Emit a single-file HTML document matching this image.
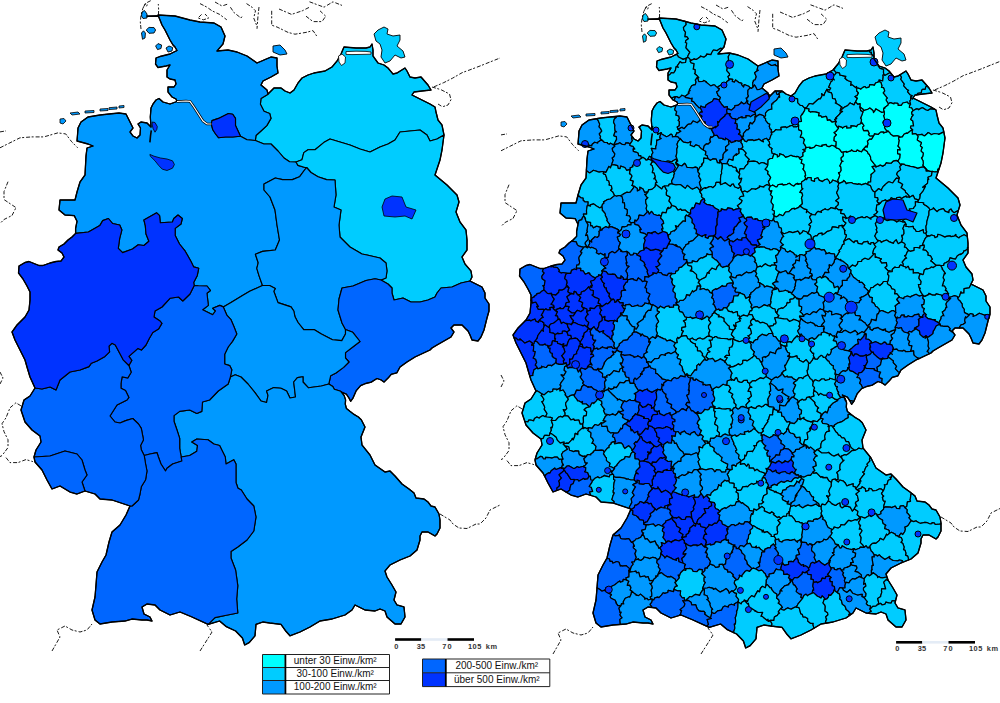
<!DOCTYPE html>
<html><head><meta charset="utf-8"><style>html,body{margin:0;padding:0;background:#fff}svg{display:block}</style></head><body>
<svg width="1000" height="703" viewBox="0 0 1000 703">
<rect width="1000" height="703" fill="#fff"/>
<g id="L"><path d="M268,94l-1.2,1 -5.8,3.5 -.6,5.7 3.6,7.1 5.7,2.2 1.3,4.9 -4.2,7.2 -5.8,5.4 -5,4.5 -.6,5 8.6,3.5 7,0 7,7 6,7 5.6,3.8 6.4,.2 6-2.3 1.8-7.1 4.2-2.9 7,0 8.7-7.1 6.3-3.6 10,3 10,3 10,4 10,3 10-5 8-3 7-4 5-8 10-1 10-1 7,5 3,6 7-2 7-4 -2-10 -4-5 -2-8 -1-5 -5-3 -12-6 -6-3 2-3 8-1 9-1 -3-5 -7-8 -6,1 -5-1 -3-6 -2-3 -8,5 -4,1 -5-6 -4-3 -6-2 -5-7 0-6 -1-6 -2,3 -4,1 -10,0 -12-1 -3,7 -4,7 -5,6 -7,4 -11,2 -6,2 -6,3 -4,5 -4,7 -4,3 -5-2 -4-3 -7,0z" fill="#00ccff" stroke="#000" stroke-width="1.15" stroke-linejoin="round"/><path d="M255.4,140.5l.6-5 5-4.5 5.8-5.4 4.2-7.2 -1.3-4.9 -5.7-2.2 -3.6-7.1 .6-5.7 5.8-3.5 1.2-1 -1-4 -6-5 2-4 8-4 7-4 -1-7 0-8 -6-1 -7,3 -7,3 -10-7 -10-4 -9-2 -11,1 6-7 2-8 -4-9 -7-4 -14-1 -10-2 -15-4 -17-1 4,10 3,5 5,10 3,5 2,2 2,3.5 -7,3.5 -10,2.5 -4,1.5 -.5,6 2.5,3.5 8-1.5 4-1 -3,5 0,7 3,2 5,1 1,4 -2,3 -6,0 0,5 4,5 4,2 1,2.5 9-.5 4,.4 4,5.6 4.5,7 4.5,7 4,3 4.3,0 .7-3.4 6.5-2.2 9.9-4.9 4.3,.7 2.8,4.2 0,7.2 5,10.6 6.5,3.6z" fill="#0099ff" stroke="#000" stroke-width="1.15" stroke-linejoin="round"/><path d="M211.3,124l-4.3,0 -4-3 -4.5-7 -4.5-7 -4-5.6 -4-.4 -9,.5 -7,2.5 -7-2 -4-3.5 -3,1.5 -3,4 -2,4 -.7,9 .7,10 -4-4 -6-1 -3,2 2.5,4 -.5,7 -3,3 -4-2 -3-4 3-4 -2-4 -2-4 -3-6 -7-1 -10,1 -9,1 -12,2 -7,5 -3,6 -.5,7 -.5,6 11,3 5,2 -6,2 -1,8 -1,19 -5,7 -3,10 -2,8 -15,0 -1,10 6,5 9.2,.6 2.8,5.7 -1.4,7.1 0,5 12.8-1.4 11.4-6.4 2.9-5 5.7-2.1 4.2,5 7.1,1.5 2.2,4.9 -2.2,8.5 -1.4,10 4.3,4.2 9.9-3.6 5.7-4.2 5.7,.7 5-4.2 -2.9-7.3 -.7-8.4 -1.4-5.6 12.8-7.2 2.9,2.8 .7,7.2 12.1-.8 1.4-3.5 4.2-3.5 4.3,3.5 -1.3,5.5 -5.8,4.4 0,7.2 4.3,8.4 5.7,7.2 5.7,10 2.8,5.7 5,1.4 -1.4,7.1 -3.6,7.1 .5,3 4.2,.3 8.6,.2 3.5,4.5 -3.5,2.8 .7,6.4 .7,5.7 -5.7,4.3 10,5 2.8-3.7 -2.8-2.7 7.1-2.9 3.5,1.5 7.7-4.3 11.5-7.1 7.2-4.3 12.8-5.7 -3.5-9.9 -2.2-7.2 1.4-5.6 -2.8-8.6 7.1-2.8 12.8-1.4 4.2-10 -2.5-15 -2-15 -5-13 -6-7 0-6 5.7-3 5.6-3 7.2,1.6 9.9,0 7.1-2.8 4.3-5.8 2.8-3.5 -1.6,0 -7-2.1 -2-3.4 -6.4-.2 -5.6-3.8 -6-7 -7-7 -7,0 -8.6-3.5 -8.4-.7 -6.5-3.6 -7.8,.8 -7.1,0 -7.1,.7 -2.9-3.7 -2.8-4.2z" fill="#0099ff" stroke="#000" stroke-width="1.15" stroke-linejoin="round"/><path d="M240.5,136.2l-5-10.6 0-7.2 -2.8-4.2 -4.3-.7 -9.9,4.9 -6.5,2.2 -.7,3.4 1.5,5.8 2.8,4.2 2.9,3.7 7.1-.7 7.1,0z" fill="#0033ff" stroke="#000" stroke-width="1.15" stroke-linejoin="round"/><path d="M444,135l-7,4 -7,2 -3-6 -7-5 -10,1 -10,1 -5,8 -7,4 -8,3 -10,5 -10-3 -10-4 -10-3 -10-3 -6.3,3.6 -8.7,7.1 -7,0 -4.2,2.9 -1.8,7.1 -6,2.3 2,3.4 7,2.1 1.6,0 4.4,5 7,4.3 8.6,2.8 8.4,.4 1,15 -2,12 7,3 -2,15 1,12 10,10 12,7 5,1 13,3 6,5 1,8 -1,7 -5,2 7,4 4,4 0,5 2,7 9-2 8,4 9,0 8-2 7-3 2-4 4-5 11-1 9-4 9-2 2-4 -1-6 -6-7 -3-7 5-7 0-10 -1-10 -6-8 -4-10 3-10 -2-7 -10-10 -12-10 5-15 2-10z" fill="#00ccff" stroke="#000" stroke-width="1.15" stroke-linejoin="round"/><path d="M306.6,167.5l-2.8,3.5 -4.3,5.8 -7.1,2.8 -9.9,0 -7.2-1.6 -5.6,3 -5.7,3 0,6 6,7 5,13 2,15 2.5,15 -4.2,10 -12.8,1.4 -7.1,2.8 2.8,8.6 -1.4,5.6 2.2,7.2 3.5,9.9 7.1,0 5.7,2.9 -1.5,2.8 4.2,11.4 13,4.3 2.8,4.1 1.2,5.8 3,5.7 5.7,7.1 10.3-.1 7.4,4.5 11.1,5.7 9.3,.9 3.7-6.6 0-4.5 -3.5-6.5 -4-13 1-11 3-11 11-2 13-5.5 9-1.8 6,1.3 5-2 1-7 -1-8 -6-5 -13-3 -5-1 -12-7 -10-10 -1-12 2-15 -7-3 2-12 -1-15 -8.4-.4 -8.6-2.8 -7-4.3z" fill="#0099ff" stroke="#000" stroke-width="1.15" stroke-linejoin="round"/><path d="M470,281l-9,2 -9,4 -11,1 -4,5 -2,4 -7,3 -8,2 -9,0 -8-4 -9,2 -2-7 0-5 -4-4 -7-4 -6-1.3 -9,1.8 -13,5.5 -11,2 -3,11 -1,11 4,13 3.5,6.5 7.3,2.8 7.2,9.2 -7.2,5.5 -7.3,5.6 0,5.4 3.5,4 -5.4,5.4 -7.6,5.6 -5.3,2.7 -1.9,8.3 4,2.4 1.5,2.8 6.4,2.1 .7,.7 5,2.2 2.8,4.2 1.4,2.9 2.2-2.9 3.5-7.8 4.3-5 5-2.1 5.7-1.4 5.7-3.6 4.2,1.5 2.8,2.1 4.3-4.3 2.9-3.5 5.7-1.5 3.1-5.8 7-5 8-5 15-7 2-2 5-3 7-4 7-4 3-5 -3-4 3-3 8,0 6,6 2,4 2,5 6,1 3-4 3-7 3-12 2-7 0-7 -4-6 0-5 -3-6 -8-4z" fill="#0066ff" stroke="#000" stroke-width="1.15" stroke-linejoin="round"/><path d="M328.8,384l1.9-8.3 5.3-2.7 7.6-5.6 5.4-5.4 -3.5-4 0-5.4 7.3-5.6 7.2-5.5 -7.2-9.2 -7.3-2.8 0,4.5 -3.7,6.6 -9.3-.9 -11.1-5.7 -7.4-4.5 -10.3,.1 -5.7-7.1 -3-5.7 -1.2-5.8 -2.8-4.1 -13-4.3 -4.2-11.4 1.5-2.8 -5.7-2.9 -7.1,0 -12.8,5.7 -7.2,4.3 -11.5,7.1 -7.7,4.3 3.7,8.5 4,4.3 3,7.1 2.8,7.2 -4.3,7.4 -4.3,5.6 -3.5,7.2 0,9.8 5,1.6 2.1,4.2 -1.4,7.2 4.9-2.2 5.7,2.2 7,7 7,8.6 6,8.4 5.6,1.5 1.4-7.1 -1.4-4.4 7.2-3.4 7.2,.7 5.6,2.7 3.4,7 5.5-1 -1.8-15 3.7-4.4 5.6-.9 0,5.3 5.5,5.8 12.9-1.8z" fill="#0099ff" stroke="#000" stroke-width="1.15" stroke-linejoin="round"/><path d="M341.4,392l-.7-.7 -6.4-2.1 -1.5-2.8 -4-2.4 -7.4,2 -12.9,1.8 -5.5-5.8 0-5.3 -5.6,.9 -3.7,4.4 1.8,15 -5.5,1 -3.4-7 -5.6-2.7 -7.2-.7 -7.2,3.4 1.4,4.4 -1.4,7.1 -5.6-1.5 -6-8.4 -7-8.6 -7-7 -5.7-2.2 -4.9,2.2 -2.2,7 -9.9,7 -8.7,9 -7.1,2 -.7,9.4 -5,2.1 -7.1-3.5 -10,1.4 -5.7,4.2 0,5.7 3,8.7 2.7,8.4 0,10 1.5,8.6 8.5-1.5 7.1-4.3 .7-5.7 -5.7-3.5 5-3 11.2,.8 5.9,4.2 5.7,1.5 5.7,11.5 .7,7 7.8-4.3 2.2,4.3 0,18.5 2,5.7 3.3,1.8 5.7,9 6.8,7 2.2,11 -2.2,14 -6.8,9 -9.2,7 -6.8,4.5 0,6.5 4.6,12 2.2,15.7 -1.1,13.3 1.1,14 -11.4,2.3 -11.4,2.3 -6.8,6.8 11.4-3.4 6.8,5.7 9.2,4.3 6.8,7 2.3,7 4.5-2.4 5.8-6.8 1-11.4 6.9-2.4 6.8,1 11.3,1.4 4.7,6.6 4.3,4.8 10-3.8 10-5 10-6 12-2 13-4 7-5 3-5 10,5 10,1 5-2 5,2 2,6 8,7 6,0 4-7 -1-10 -7-2 -3-5 2-8 -4-7 -5-8 -2-6 5-6 10-5 10-4 7-6 3-10 0-4 2-4 6,0 7,4 2-2 3-6 0-8 -1-6 -4-7 -4-1 -3-4 -4-3 -8-1 -2-5 -5-4 -7-5 -7-8 -5-5 -5,1 -10-7 -5-10 -8-10 -1-8 4-10 -3.7-7.2 -2.9-2.8 -4.9-2.9 -3.6-2.8 -3.5-2.9 -1.1-4.3 .3-4.2 -1.4-4.3z" fill="#0099ff" stroke="#000" stroke-width="1.15" stroke-linejoin="round"/><path d="M223.3,306.9l-3.5-1.5 -7.1,2.9 2.8,2.7 -2.8,3.7 -10-5 5.7-4.3 -.7-5.7 -.7-6.4 3.5-2.8 -3.5-4.5 -8.6-.2 -4.2-.3 -4.2,8.5 -7.2,7 -4.3-4 -8.5,1.3 -8,8.7 -7,4 -1,6 6,4 1.9,2.4 -3.4,5.7 -5.7,3.4 -3.4,5.7 -3.4,6.8 -4.6,5.1 -3.4-1.7 -9.1,8 2.9,4 -2.9,5.1 2.3,6.8 -3.4,5.7 -5.7-1.1 -1.1,6.8 0,4.6 4.5,2.2 3.4,6.9 -1.9,2.6 -10,5 -7,11 5,6 5,1 5.7-2.4 7.1-2.1 5.7,5.5 2.8,4.4 2.2,11.4 -2.9,5.7 .7,4.3 2.9,5.7 5.8-1.5 7-1.4 1.4,4.4 2.6,7 4.5,7 1.5-2.7 5.6-4.3 9.3-3 -.7-4 -1.5-8.6 0-10 -2.7-8.4 -3-8.7 0-5.7 5.7-4.2 10-1.4 7.1,3.5 5-2.1 .7-9.4 7.1-2 8.7-9 9.9-7 2.2-7 1.4-7.2 -2.1-4.2 -5-1.6 0-9.8 3.5-7.2 4.3-5.6 4.3-7.4 -2.8-7.2 -3-7.1 -4-4.3z" fill="#0066ff" stroke="#000" stroke-width="1.15" stroke-linejoin="round"/><path d="M181.2,457l.7,4 -9.3,3 -5.6,4.3 -1.5,2.7 -4.5-7 -2.6-7 -1.4-4.4 -7,1.4 -5.8,1.5 1.4,8.5 1.4,7 -1.4,8.7 -4.3,7.1 -1.3,7.2 -1.5,6 -6.5,6 -2,0 -4,9 -6,10 -8,7 -3,10 -3,13 -4,7 -5,10 -1,13 -1,12 -3,13 3,10 5,4 12-2 13-1 7-2 10,1 5,0 5,1 -2-4 -6-3 -2-7 5-3 8,1 5,5 10,5 10-3 12,5 16.2,7.4 6.8-6.8 11.4-2.3 11.4-2.3 -1.1-14 1.1-13.3 -2.2-15.7 -4.6-12 0-6.5 6.8-4.5 9.2-7 6.8-9 2.2-14 -2.2-11 -6.8-7 -5.7-9 -3.3-1.8 -2-5.7 0-18.5 -2.2-4.3 -7.8,4.3 -.7-7 -5.7-11.5 -5.7-1.5 -5.9-4.2 -11.2-.8 -5,3 5.7,3.5 -.7,5.7 -7.1,4.3z" fill="#0066ff" stroke="#000" stroke-width="1.15" stroke-linejoin="round"/><path d="M144.2,455.5l-2.9-5.7 -.7-4.3 2.9-5.7 -2.2-11.4 -2.8-4.4 -5.7-5.5 -7.1,2.1 -5.7,2.4 -5-1 -5-6 7-11 10-5 1.9-2.6 -3.4-6.9 -4.5-2.2 0-4.6 1.1-6.8 5.7,1.1 3.4-5.7 -2.3-6.8 -5.7-5.7 -7.9-14.8 -3.4-1.7 -2.9,2.9 .6,5.7 -4.6,4.5 -8,4.6 -5.6,2.2 -2.4,3.4 -9,3.4 -10,2 -10,8 -4,10 -6-3 -8,2 -7-1 -5,8 -6,4 -3,10 4,12 7,8 8,6 1,6 -5,8 -2,7 16-1 15-5 12,3 5,6 3,10 2,5 -5,7 3,9 10,3 5,5 12,1 18,6 2,0 6.5-6 1.5-6 1.3-7.2 4.3-7.1 1.4-8.7 -1.4-7z" fill="#0066ff" stroke="#000" stroke-width="1.15" stroke-linejoin="round"/><path d="M128.9,365.5l2.9-5.1 -2.9-4 9.1-8 3.4,1.7 4.6-5.1 3.4-6.8 3.4-5.7 5.7-3.4 3.4-5.7 -1.9-2.4 -6-4 1-6 7-4 8-8.7 8.5-1.3 4.3,4 7.2-7 4.2-8.5 -.5-3 3.6-7.1 1.4-7.1 -5-1.4 -2.8-5.7 -5.7-10 -5.7-7.2 -4.3-8.4 0-7.2 5.8-4.4 1.3-5.5 -4.3-3.5 -4.2,3.5 -1.4,3.5 -12.1,.8 -.7-7.2 -2.9-2.8 -12.8,7.2 1.4,5.6 .7,8.4 2.9,7.3 -5,4.2 -5.7-.7 -5.7,4.2 -9.9,3.6 -4.3-4.2 1.4-10 2.2-8.5 -2.2-4.9 -7.1-1.5 -4.2-5 -5.7,2.1 -2.9,5 -11.4,6.4 -12.8,1.4 -3.6,3.6 -4,3 -4,4 -5,3 -1,3 4,3 2,4 -3,4 -5,.5 -6,1.5 -7,2.5 -4,0 -5-2 -5-2 -4,1 -6,3.5 -.5,7 4.5,6 4,7 3,6 0,8 -1,10 -4,7 -8,8 -5,7 3,8 5,10 5,10 2,7 3,10 5,11 7,1 8-2 6,3 4-10 10-8 10-2 9-3.4 2.4-3.4 5.6-2.2 8-4.6 4.6-4.5 -.6-5.7 2.9-2.9 3.4,1.7 7.9,14.8z" fill="#0033ff" stroke="#000" stroke-width="1.15" stroke-linejoin="round"/><path d="M85,491l-3-9 5-7 -2-5 -3-10 -5-6 -12-3 -15,5 -16,1 1,5 7,8 5,10 5,9 8-3 10,6 7,2z" fill="#0066ff" stroke="#000" stroke-width="1.15" stroke-linejoin="round"/><path d="M385.0,199.0 392.0,196.0 402.0,197.0 406.0,207.0 416.0,210.0 412.0,219.0 405.0,216.0 395.0,217.0 384.0,216.0 382.0,207.0Z" fill="#0033ff" stroke="#000" stroke-width="0.8"/><path d="M149.9,154.4 154.0,156.2 160.5,158.0 167.0,159.0 172.5,160.8 174.4,164.5 172.5,168.2 167.0,170.5 162.3,169.2 158.7,165.5 155.0,160.8 150.3,156.2Z" fill="#0033ff" stroke="#000" stroke-width="0.8"/><path d="M152.2,122.0 155.0,122.5 157.3,126.6 156.8,129.4 155.0,132.2 153.1,128.5 152.2,124.8Z" fill="#0033ff" stroke="#000" stroke-width="0.8"/><path d="M273.0,46.0 280.0,45.0 285.0,50.0 287.0,54.0 280.0,55.0 273.0,52.0Z" fill="#0099ff" stroke="#000" stroke-width="0.9"/><path d="M374.0,34.0 378.0,30.0 384.0,27.0 388.0,29.0 387.0,34.0 393.0,36.0 400.0,35.0 400.0,40.0 397.0,46.0 403.0,51.0 405.0,57.0 401.0,58.0 395.0,55.0 390.0,61.0 385.0,63.0 381.0,57.0 382.0,50.0 380.0,44.0 376.0,41.0Z" fill="#00ccff" stroke="#000" stroke-width="0.9"/><path d="M146.2,30.0 149.0,27.4 154.0,27.6 155.6,30.0 154.0,33.0 149.0,33.3Z" fill="#0099ff" stroke="#000" stroke-width="0.9"/><path d="M141.5,33.0 143.5,30.8 145.4,33.0 145.0,38.0 142.5,39.3Z" fill="#0099ff" stroke="#000" stroke-width="0.9"/><path d="M155.6,46.0 158.0,43.6 161.6,45.0 161.0,48.5 157.5,49.6Z" fill="#0099ff" stroke="#000" stroke-width="0.9"/><path d="M166.0,48.0 169.0,46.0 172.7,47.5 172.0,51.0 168.0,52.0Z" fill="#0099ff" stroke="#000" stroke-width="0.9"/><path d="M142.0,12.0 144.5,10.5 147.0,14.0 147.0,18.0 143.0,18.5 141.5,16.0Z" fill="#0099ff" stroke="#000" stroke-width="0.9"/><path d="M60.0,119.0 64.0,118.5 66.0,121.0 63.0,124.0 60.0,123.0Z" fill="#0099ff" stroke="#000" stroke-width="0.8"/><path d="M70.0,113.0 78.0,112.0 80.0,114.0 72.0,115.0Z" fill="#0099ff" stroke="#000" stroke-width="0.8"/><path d="M85.0,111.0 94.0,110.5 94.0,112.5 85.0,113.0Z" fill="#0099ff" stroke="#000" stroke-width="0.8"/><path d="M100.0,109.0 108.0,108.5 108.0,110.5 100.0,111.0Z" fill="#0099ff" stroke="#000" stroke-width="0.8"/><path d="M109.0,107.7 117.0,107.0 117.0,109.0 109.0,109.5Z" fill="#0099ff" stroke="#000" stroke-width="0.8"/><path d="M119.0,106.0 124.0,105.5 124.0,107.5 119.0,108.0Z" fill="#0099ff" stroke="#000" stroke-width="0.8"/><path d="M158,15l4,10 3,5 5,10 3,5 2,2 2,3.5 -7,3.5 -10,2.5 -4,1.5 -.5,6 2.5,3.5 8-1.5 4-1 -3,5 0,7 3,2 5,1 1,4 -2,3 -6,0 0,5 4,5 4,2 1,2.5 -7,2.5 -7-2 -4-3.5 -3,1.5 -3,4 -2,4 -.7,9 .7,10 -4-4 -6-1 -3,2 2.5,4 -.5,7 -3,3 -4-2 -3-4 3-4 -2-4 -2-4 -3-6 -7-1 -10,1 -9,1 -12,2 -7,5 -3,6 -.5,7 -.5,6 11,3 5,2 -6,2 -1,8 -1,19 -5,7 -3,10 -2,8 -15,0 -1,10 6,5 9.2,.6 2.8,5.7 -1.4,7.1 0,5 -3.6,3.6 -4,3 -4,4 -5,3 -1,3 4,3 2,4 -3,4 -5,.5 -6,1.5 -7,2.5 -4,0 -5-2 -5-2 -4,1 -6,3.5 -.5,7 4.5,6 4,7 3,6 0,8 -1,10 -4,7 -8,8 -5,7 3,8 5,10 5,10 2,7 3,10 5,11 -5,8 -6,4 -3,10 4,12 7,8 8,6 1,6 -5,8 -2,7 1,5 7,8 5,10 5,9 8-3 10,6 7,2 8-3 10,3 5,5 12,1 18,6 -4,9 -6,10 -8,7 -3,10 -3,13 -4,7 -5,10 -1,13 -1,12 -3,13 3,10 5,4 12-2 13-1 7-2 10,1 5,0 5,1 -2-4 -6-3 -2-7 5-3 8,1 5,5 10,5 10-3 12,5 16.2,7.4 11.4-3.4 6.8,5.7 9.2,4.3 6.8,7 2.3,7 4.5-2.4 5.8-6.8 1-11.4 6.9-2.4 6.8,1 11.3,1.4 4.7,6.6 4.3,4.8 10-3.8 10-5 10-6 12-2 13-4 7-5 3-5 10,5 10,1 5-2 5,2 2,6 8,7 6,0 4-7 -1-10 -7-2 -3-5 2-8 -4-7 -5-8 -2-6 5-6 10-5 10-4 7-6 3-10 0-4 2-4 6,0 7,4 2-2 3-6 0-8 -1-6 -4-7 -4-1 -3-4 -4-3 -8-1 -2-5 -5-4 -7-5 -7-8 -5-5 -5,1 -10-7 -5-10 -8-10 -1-8 4-10 -3.7-7.2 -2.9-2.8 -4.9-2.9 -3.6-2.8 -3.5-2.9 -1.1-4.3 .3-4.2 -1.4-4.3 -2.8-3.6 5,2.2 2.8,4.2 1.4,2.9 2.2-2.9 3.5-7.8 4.3-5 5-2.1 5.7-1.4 5.7-3.6 4.2,1.5 2.8,2.1 4.3-4.3 2.9-3.5 5.7-1.5 3.1-5.8 7-5 8-5 15-7 2-2 5-3 7-4 7-4 3-5 -3-4 3-3 8,0 6,6 2,4 2,5 6,1 3-4 3-7 3-12 2-7 0-7 -4-6 0-5 -3-6 -8-4 -4-2 2-4 -1-6 -6-7 -3-7 5-7 0-10 -1-10 -6-8 -4-10 3-10 -2-7 -10-10 -12-10 5-15 2-10 2-15 -2-10 -4-5 -2-8 -1-5 -5-3 -12-6 -6-3 2-3 8-1 9-1 -3-5 -7-8 -6,1 -5-1 -3-6 -2-3 -8,5 -4,1 -5-6 -4-3 -6-2 -5-7 0-6 -1-6 -2,3 -4,1 -10,0 -12-1 -3,7 -4,7 -5,6 -7,4 -11,2 -6,2 -6,3 -4,5 -4,7 -4,3 -5-2 -4-3 -7,0 -6,6 -1-4 -6-5 2-4 8-4 7-4 -1-7 0-8 -6-1 -7,3 -7,3 -10-7 -10-4 -9-2 -11,1 6-7 2-8 -4-9 -7-4 -14-1 -10-2 -15-4z" fill="none" stroke="#000" stroke-width="1.3" stroke-linejoin="round"/></g>
<g id="R" stroke="#000" stroke-width="1.2" stroke-linejoin="round"><path d="M677.9,55.9l.2,.8 1.9,1.1 3.1,1.6 3.3-1.3 1.2-.5 -.3,0 .9-2.3 1.7-3.2 -2.4-2.6 -1.5-1.6 .8-4.9 -1.4-.6 .5-1.9 2.5-1.8 -1.5-2.2 -1.9,.2 .5-4.6 -1.5-1.9 -.6-2.5 2.8-3 -.3-3.1 -.9-.2 -1,.1 .1-.3 -8.1-2.2 -17-1 4,10 3,5 5,10 3,5 2,2 2,3.5 -1.8,.9z" fill="#00ccff"/><path d="M670,74.5l1.4-1.9 2.3,.4 1.7-2.6 .8-3.9 2.1,.9 -1-1.6 2.9-4.2 1.4,1.2 4-.3 .8-4.4 -3.3,1.3 -3.1-1.6 -1.9-1.1 -.2-.8 -1.7-1.5 -5.2,2.6 -10,2.5 -4,1.5 -.5,6 2.5,3.5 8-1.5 4-1 -3,5 0,2.6z" fill="#00ccff"/><path d="M684,21.5l1-.1 -.9-.2zM686.2,24.7l-2.8,3 .6,2.5 1.5,1.9 -.5,4.6 1.9-.2 1.5,2.2 -2.5,1.8 -.5,1.9 1.4,.6 -.8,4.9 1.5,1.6 2.4,2.6 -1.7,3.2 -.9,2.3 1.2,.1 2.4,2.8 3.5-1.6 .4,.4 2,0 3.9-2.7 -.3-.5 3.5,1.2 2.4-1.8 .3-1.4 4.3,.6 .8-2 1.7-2.7 3.8,.7 .1-.3 3.1-2.1 2.1,.4 1.5-1.7 2-8 -4-9 -7-4 -14-1 -10-2 -5.1-1.4z" fill="#00ccff"/><path d="M720.4,48.3l-3.1,2.1 -.1,.3 -3.8-.7 -1.7,2.7 -.8,2 -4.3-.6 -.3,1.4 -2.4,1.8 -3.5-1.2 .3,.5 -3.9,2.7 -2,0 -.4-.4 -4.5,2 1.2,2.1 2.8,.6 -.4,4 -.4,1.5 1.9,.4 .1,3 -.6,1 2.6,2.3 1.6,1.8 -1.3-.2 1.4,4.2 4-.1 1.1-1.1 2.6,1.7 -1-.4 3.1,2.4 2.1,1.8 3.1-1.1 1.3,.4 0,.4 3,2.5 -.1-1.4 3.3-1.8 1.1-1.1 3.7-.7 .8-1.5 2.4-1.7 -.5-1 -.8-2.5 1.6-1.1 -.1-1.6 -2.7-3 .6-3.5 2.4-1.5 -1.1-3.1 -1.2-1.4 1.1,.2 -.2-4 -.3-.4 2-3.7 -.1-.1 -1-.2 -11,1 4.5-5.3z" fill="#00ccff"/><path d="M730.1,53.3l-2,3.7 .3,.4 .2,4 -1.1-.2 1.2,1.4 1.1,3.1 -2.4,1.5 -.6,3.5 2.7,3 .1,1.6 -1.6,1.1 .8,2.5 3.9,.5 -.5,2 2.2,.8 1.2-2.2 3.6,2.7 2.6,.7 -.3,1.3 2.1,2.5 .7-2.7 4.3,1.7 1.2,1.4 1.6,.8 1.6-1.1 -.3-5.1 .8-.4 -.1-1.5 1.6-.3 1.3-3.3 -1.7-3.9 1.7-1.3 2.1-1.3 -1.4,.5 .9-4.5 .2-.2 -.1,0 -10-7 -10-4 -8-1.8z" fill="#00ccff"/><path d="M757.9,66.2l-.9,4.5 1.4-.5 -2.1,1.3 -1.7,1.3 1.7,3.9 -1.3,3.3 -1.6,.3 .1,1.5 -.8,.4 .3,5.1 1.5-2.3 .7,1 1.9,3.7 2.6-.4 2.6-1.1 -.3-.2 2-4 8-4 7-4 -1-7 0-2.7 -.2-.4 -2.4-.6 .1-.9 -3.8,1.1 -3.3-1.9 -.6-1.3 -.3-.4 -2.5,1.1 -6.9,3zM776.9,94.4l1.3,.1 1-1.5 2.9-1.4 1.1,.7 .5,0 -1.7-1.3 -6.3,0z" fill="#0099ff"/><path d="M767.8,62.3l.6,1.3 3.3,1.9 3.8-1.1 -.1,.9 2.4,.6 .2,.4 0-5.3 -6-1 -4.5,1.9z" fill="#0099ff"/><path d="M698.7,77.6l-1.6-1.8 -2.6-2.3 .6-1 -.1-3 -1.9-.4 .4-1.5 .4-4 -2.8-.6 -1.2-2.1 1.1-.3 -2.5-2.9 -.1-.4 -2,.8 -.8,4.4 -4,.3 -1.4-1.2 -2.9,4.2 1,1.6 -2.1-.9 -.8,3.9 -1.7,2.6 -2.3-.4 -1.4,1.9 -2,1.1 0,4.4 3,2 5,1 1,4 -2,3 -6,0 0,5 2.4,3 .5-.1 3.7-1.4 1.3,.4 2.2,1 1.8-1.5 1-1.2 3.1,1.3 -.2,.2 4.5-3.7 -1-.9 1.9-1.5 -1-.3 2.5-4.5 2.1-.9 1.4,0 .9-2.9 -.8-1.9 2.1-2.7z" fill="#00ccff"/><path d="M720.5,97.4l-2.5-2.1 -1.3-3.6 1.9-1 .9-2.2 -1.4-.4 -3-2.5 0-.4 -1.3-.4 -3.1,1.1 -2.1-1.8 -3.1-2.4 1,.4 -2.6-1.7 -1.1,1.1 -4,.1 -1.4-4.2 -2.1,2.7 .8,1.9 -.9,2.9 -1.4,0 -2.1,.9 -2.5,4.5 1,.3 -1.9,1.5 1,.9 -4.5,3.7 1.2,1 4.6,1 1.4-.5 -.5,3 1.9,.4 2.5,3.1 1.5,1.4 1.6,1.7 1.3,.1 .5-1.8 1.4,.7 2.9,.7 1-2.6 3.4-2.1 0,.1 2.9-1.7 1.5-2.5 2.7,.4 2.9,.9z" fill="#0099ff"/><path d="M729.4,109.4l2.1,.7 3.2-2.9 .2-1.6 2.9-.2 3.3-2.5 .1-.9 2.6,2 1.8-1 1.6-2.3 -1-2.6 1.2-.2 1.1-2 -.7-1.6 .2-4.2 1.5-1.5 .3-1 -1.2-1.4 -4.3-1.7 -.7,2.7 -2.1-2.5 .3-1.3 -2.6-.7 -3.6-2.7 -1.2,2.2 -2.2-.8 .5-2 -3.9-.5 .5,1 -2.4,1.7 -.8,1.5 -3.7,.7 -1.1,1.1 -3.3,1.8 .1,1.4 1.4,.4 -.9,2.2 -1.9,1 1.3,3.6 2.5,2.1 -1,2.6 -.3,1 1.4,1.7 1.4,2.3 .2-.1 2,2.4 3.1-.7 0,2.3z" fill="#0099ff"/><path d="M727.3,106.6l-3.1,.7 -2-2.4 -.2,.1 -1.4-2.3 -1.4-1.7 .3-1 -2.9-.9 -2.7-.4 -1.5,2.5 -2.9,1.7 0-.1 -3.4,2.1 -1,2.6 -2.9-.7 -1.4-.7 -.5,1.8 1.9,4 -1.8-.1 -1.9,2.5 2.2,1 1.2,1 -2.6,4.7 2.1-1.8 1.3,3.5 2.3-.8 .7,4.5 .2-.5 4.3,3 3-1.2 -1.3,1.4 3.9-2.7 -.5,1.5 3-2.6 -.8-3.8 1.3,1 1.6-2.7 3.5-3.1 1.2-1 .2-1.2 2-.8 -.6-2.9 .6-1.9z" fill="#0033ff"/><path d="M726.7,110.8l.6,2.9 2.8,0 -.4,1.4 -.5-.3 2.9,3.5 3.2,.6 1.7,.9 1.6-1.7 3.4-1.4 -.1,1.2 4.2-.2 -.1-2.1 3.3,.2 1.1,1.1 1.8-1.4 2.3-1.2 1.3,1.4 -.5-3 -2.8-2.3 0-.9 1.3-3.5 -3.1-.7 -3.4-2 .7-2.5 -.8-.1 -1.6,2.3 -1.8,1 -2.6-2 -.1,.9 -3.3,2.5 -2.9,.2 -.2,1.6 -3.2,2.9 -2.1-.7 -2.1-.5z" fill="#0066ff"/><path d="M759.7,89.3l-2.6,.4 -1.9-3.7 -.7-1 -1.5,2.3 -1.6,1.1 -1.6-.8 -.3,1 -1.5,1.5 -.2,4.2 .7,1.6 -1.1,2 -1.2,.2 1,2.6 .8,.1 -.7,2.5 3.4,2 3.1,.7 -1.3,3.5 0,.9 2.8,2.3 .5,3 .5,1.2 1.1-1.3 2.4-1.2 3.8,1.3 .6,1.8 1.4-1.8 -.1-2.6 1.9-2.3 2.4-1.3 2.1-.3 -.3-5.1 1.4-.3 -.1-.9 3.5-2.6 1.6-2.2 .8-1.6 .9,.9 -.5-4.4 -1,1.5 -1.3-.1 -1.2-3.4 -.7,0 -6,6 -1-4 -5.7-4.8z" fill="#0099ff"/><path d="M657.6,134.4l3.5-1.7 .9,1.5 4.5,2.5 1.8-.7 2.9-1.9 1.1,1 .1,1.7 2.9-.4 1.6-3.7 1.1,.4 2.9-1.8 -2.7-1.9 -1-2.3 2.1-1.4 .1-4.3 -1.2-1.1 1.2-1.7 -.6-2.6 -2.8-.8 .2-1.5 .5-2.1 -2-1.8 .4-1.7 1.2-3 -5.3,1.9 -7-2 -4-3.5 -3,1.5 -3,4 -2,4 -.7,9 .4,6.2 1,.5 -.7,2.6 1.8,.9 4,2.8zM675.6,96.5l-3.7,1.4 -.5,.1 1.6,2 1.1,.5z" fill="#00ccff"/><path d="M675.1,108.1l-.4,1.7 2,1.8 -.5,2.1 -.2,1.5 2.8,.8 .6,2.6 -1.2,1.7 1.2,1.1 -.1,4.3 -2.1,1.4 1,2.3 3.8-2.1 1.4,1.2 .8,.2 2.7-3.2 1.1-1.2 3-.5 2-2.6 .2-.2 4,1.8 2.1-1.8 2.6-4.7 -1.2-1 -2.2-1 1.9-2.5 1.8,.1 -1.9-4 -1.3-.1 -1.6-1.7 -1.5-1.4 -2.5-3.1 -1.9-.4 .5-3 -1.4,.5 -4.6-1 -1.2-1 .2-.2 -3.1-1.3 -1,1.2 -1.8,1.5 -2.2-1 -1.3-.4 -1.5,4 2.9,1.5 1,2.5 -1.7,.6z" fill="#0099ff"/><path d="M588.4,145.2l3.4,.7 .4-1.7 2.6-2 2.9,1 -.2-.6 4-2.8 -1.4-1.7 .5-1.5 -1.3-2.6 2.5-2.9 -1.1-2.4 -1.6-1.8 .6-2.8 -1.8-4 -1.1-1.4 -7.8,1.3 -7,5 -3,6 -.5,7 -.5,6 9.2,2.5z" fill="#0099ff"/><path d="M600.6,136.6l-.5,1.5 1.4,1.7 2.6,2.5 3.3,.2 0,1 1.8,.8 1.4-1.1 4.2,2.5 -.4-1 -.4-.5 2.6-4.8 -.2-2.8 -2.6-.9 1.2-3.9 1.6,.2 -1.5-1.4 -.4-3.4 .3-2 -1.5-3.1 .8-3 2.1-1.9 -1.9-.2 -.2-.4 -4.3,.4 -9,1 -4.2,.7 1.1,1.4 1.8,4 -.6,2.8 1.6,1.8 1.1,2.4 -2.5,2.9z" fill="#00ccff"/><path d="M614.5,117l1.9,.2 -2.1,1.9 -.8,3 1.5,3.1 -.3,2 .4,3.4 1.5,1.4 -1.6-.2 -1.2,3.9 2.6,.9 .2,2.8 -2.6,4.8 .4,.5 4.2-1.1 1.1-.8 2.6,1.7 2.7,.2 .9-1.9 3,.4 1.1,.9 2.4-3.4 -.8-2.9 1.3,0 -.1-.4 -1.8-2.4 3-4 -2-4 -2-4 -3-6 -7-1 -5.7,.6zM640.4,126.7l0-.6 -1.4,.9 .2,.4z" fill="#0099ff"/><path d="M605.9,172.4l1.6-3 1.3-3 1.2,.8 .4,.7 1.3-3.1 .6-2.1 1.1-2.8 -.7-.4 -.5-1.6 2-1.5 .7-2.5 -2.3-3.3 -.3-2.1 2.7-2.4 -.2-.4 -4.2-2.5 -1.4,1.1 -1.8-.8 0-1 -3.3-.2 -2.6-2.5 -4,2.8 .2,.6 -2.9-1 -2.6,2 -.4,1.7 -3.4-.7 -1.2,1.3 1.8,.5 5,2 -6,2 -1,8 -.6,10.9 .6,1.4 2.6,1.7 2.3-1.6 1.5-1.1 4.2,1.3 1.5,.6 3.7-.7 .9,.3z" fill="#0099ff"/><path d="M630.2,167.9l2.8-1.2 -.5-1.1 2.7-1.8 0-1.7 2.8-1 .9-1.1 2.7-1.7 -.8-2.8 -2.1,.1 -.5-2.5 -1.6-.9 -3.2-.8 -.2-2.5 1.7,.2 -1.9-2.7 -3-.9 0-1.4 -1.1-.9 -3-.4 -.9,1.9 -2.7-.2 -2.6-1.7 -1.1,.8 -4.2,1.1 .4,1 .2,.4 -2.7,2.4 .3,2.1 2.3,3.3 -.7,2.5 -2,1.5 .5,1.6 .7,.4 -1.1,2.8 -.6,2.1 2.5,.1 3.4,.8 .5,2.8 2,.2 .5-2.6 4.2,1.4 1.8,2.8 3.7-.6z" fill="#0099ff"/><path d="M649.5,156.3l2.2,.9 .1-2.7 1.2-1.8 -1.7-4.4 4.5,.6 0-2.5 .7-1.6 .2-4.7 .1,.5 4.5-2.1 -1.6-1 1.4-4.8 -3.5,1.7 .2-1.4 -4-2.8 -1.8-.9 .7-2.6 -1-.5 .3,3.8 -4-4 -6-1 -1.6,1.1 0,.6 -1.2,.7 2.3,3.6 -.5,7 -3,3 -4-2 -1.2-1.6 .1,.4 -1.3,0 .8,2.9 -2.4,3.4 0,1.4 3,.9 1.9,2.7 -1.7-.2 .2,2.5 3.2,.8 1.6,.9 .5,2.5 2.1-.1 .8,2.8 1.2-1 2.1,1.4 1.1,1.5 1.2-.2z" fill="#00ccff"/><path d="M653.8,162l1.9,.4 .4-1.6 4.1-.3 .1,2.1 3.6,.5 2.9-1.8 1.2-.3 4,.9 1.1-1.2 2.7-1.5 .9,1.3 1.1,.7 -1.4-4.1 -.4-.5 .9-3.9 0-3.1 -.2-.1 1-3 -.7-2.3 1.4-3.1 1.7-1.7 -2.2-2.8 -2.6-.2 -2.9,.4 -.1-1.7 -1.1-1 -2.9,1.9 -1.8,.7 -4.5-2.5 -.9-1.5 -1.4,4.8 1.6,1 -4.5,2.1 -.1-.5 -.2,4.7 -.7,1.6 0,2.5 -4.5-.6 1.7,4.4 -1.2,1.8 -.1,2.7 -2.2-.9 -2.3,3.7 1.5-.7 2.3,1 1.3,1.3z" fill="#0099ff"/><path d="M650.4,164.6l1.8,1.2 .8,3.3 -.8,3.6 1.9,.4 1.1,3.9 -1.5,1.8 1.4-.1 1.8,3.7 -1.5,.5 .1,1.2 3.9,3.1 2.4,1.8 1.3-2.4 1.6-.5 1-.1 3,0 .3-1.7 3.2-.6 -.6-2.7 2.1-4.1 .2-2.1 .7-1.1 -.7-1.5 1.3-1.2 3.4-5.3 -2.3-1.3 -.5-2 .7,.2 .2-2.1 -.9-1.3 -2.7,1.5 -1.1,1.2 -4-.9 -1.2,.3 -2.9,1.8 -3.6-.5 -.1-2.1 -4.1,.3 -.4,1.6 -1.9-.4 -1.5-.4z" fill="#00ccff"/><path d="M713.2,127.7l-3,1.2 -4.3-3 -.2,.5 -.7-4.5 -2.3,.8 -1.3-3.5 -2.1,1.8 -2.1,1.8 -4-1.8 -.2,.2 -2,2.6 -3,.5 -1.1,1.2 -2.7,3.2 -.8-.2 -1.4-1.2 -3.8,2.1 2.7,1.9 -2.9,1.8 -1.1-.4 -1.6,3.7 2.6,.2 2.2,2.8 -.1-1 2.2,2.6 1.2,1.2 4.6,.6 .5-.1 2.3-1.2 -.7,3.7 3.9,1.6 1.8-1.9 3.4,1.1 -.1,.6 1.8,1.8 2.3,1.5 1.1-4.2 2.2-1.9 1.5,.4 2.6-2.5 -.7-1.7 .8-3.1 1.1,.6 2.1-1.5 .2-1.6 -2.3-4.3 .1-1z" fill="#0099ff"/><path d="M717,135.4l1.8,2.7 4.3,.4 -.3,.8 2.3,.7 .5-1.8 4.2,2.8 1.4,1.6 4.2-1.1 -.3-1 4.2,.9 2.5-2 1-.6 -2.3-3.9 -2-.7 1.6-1.5 -.6-2.8 -2.5-1 .4-2.8 -.5-2.7 -1.8,.1 .7-2.2 -.5-2.4 -3.2-.6 -2.9-3.5 .5,.3 .4-1.4 -2.8,0 -2,.8 -.2,1.2 -1.2,1 -3.5,3.1 -1.6,2.7 -1.3-1 .8,3.8 -3,2.6 .5-1.5 -3.9,2.7 -.1,1 2.3,4.3 -.1,1.1z" fill="#0033ff"/><path d="M707.6,158.5l1.3,.8 1.3,1.1 2.6-1.5 3.4,.2 1.2,3.6 2.5,.5 -.3-2.8 3-1 .6-2.1 -.2,.7 .2-3.7 1.2-1.8 3.3-2.6 -2.1,0 0-2.9 3.5-2.9 -.5-2.8 1.2-.3 -4.2-2.8 -.5,1.8 -2.3-.7 .3-.8 -4.3-.4 -1.8-2.7 -3.1,.1 0,.5 -2.1,1.5 -1.1-.6 -.8,3.1 .7,1.7 -2.6,2.5 -1.5-.4 -2.2,1.9 -1.1,4.2 2.5,1.6 -.1,2 -.5,1.3 2,.9 .8,3z" fill="#0099ff"/><path d="M678.8,165l3,1 2.9-2.7 .9,1.3 1.4,2.9 2,0 3.6,.3 2.8-.6 1.7,.5 .9,3.4 1.8-3.9 1.8-1.1 .8-1.7 -.9,0 2.1-1.9 .2-4.3 4.1,.5 -.8-3 -2-.9 .5-1.3 .1-2 -2.5-1.6 -2.3-1.5 -1.8-1.8 .1-.6 -3.4-1.1 -1.8,1.9 -3.9-1.6 .7-3.7 -2.3,1.2 -.5,.1 -4.6-.6 -1.2-1.2 -2.2-2.6 .1,1 -1.7,1.7 -1.4,3.1 .7,2.3 -1,3 .2,.1 0,3.1 -.9,3.9 .4,.5 1.4,4.1 -1.1-.7 -.2,2.1 -.7-.2z" fill="#00ccff"/><path d="M578.9,196.6l-.1-.6 2.2,1.9 2,.1 .1,2.2 2,1.8 2.9-.2 -.2,3.6 2.7,.8 -.3-1.3 3.5-1 2.4,1.9 3.7,2.1 2.1-1.1 .5-2.4 1.7-1.3 -.6-1.2 2.9-1.6 .7-.7 3.3-.6 2.6-2.1 1.7-1.4 -1.9-3.6 -2.2-1.7 1.5-1.2 -.7-3.2 -2.3-.8 .4-1 -.6-3 -2.1-1 0-1.8 -1.3-3.6 -2.2-1 .4-1.8 -.9-.3 -3.7,.7 -1.5-.6 -4.2-1.3 -1.5,1.1 -2.3,1.6 -2.6-1.7 -.6-1.4 -.4,8.1 -5,7 -3,10z" fill="#00ccff"/><path d="M616.6,196.3l1.8-.7 1.7,.1 2.7-1 .4-.6 3.6-1.9 1.6,.3 1.9-.4 3.2-4.2 .3-1.8 -1.9-.6 .5-.6 1-3.8 -2.7-1 -.5-.2 1.9-3.9 -1.4-1.9 -1.2-.5 .8-3.9 -3.7,.6 -1.8-2.8 -4.2-1.4 -.5,2.6 -2-.2 -.5-2.8 -3.4-.8 -2.5-.1 -1.3,3.1 -.4-.7 -1.2-.8 -1.3,3 -1.6,3 -2.2-.6 -.4,1.8 2.2,1 1.3,3.6 0,1.8 2.1,1 .6,3 -.4,1 2.3,.8 .7,3.2 -1.5,1.2 2.2,1.7 1.9,3.6z" fill="#00ccff"/><path d="M637.3,188.4l0,2.6 2.7-1.4 -.1-2.4 3.1,1.8 1.5,3.3 3.6-.5 .4-1.9 3.1-.5 .4,0 3.2-2.8 .3-2.5 -.1-1.2 1.5-.5 -1.8-3.7 -1.4,.1 1.5-1.8 -1.1-3.9 -1.9-.4 .8-3.6 -.8-3.3 -1.8-1.2 1.9-3 -1.3-1.3 -2.3-1 -1.5,.7 -1.2,.2 -1.1-1.5 -2.1-1.4 -1.2,1 -2.7,1.7 -.9,1.1 -2.8,1 0,1.7 -2.7,1.8 .5,1.1 -2.8,1.2 .1,1.8 -.8,3.9 1.2,.5 1.4,1.9 -1.9,3.9 .5,.2 2.7,1 -1,3.8 -.5,.6 1.9,.6z" fill="#00ccff"/><path d="M676.3,164.4l2.3,1.3 -3.4,5.3 -1.3,1.2 .7,1.5 -.7,1.1 -.2,2.1 -2.1,4.1 .6,2.7 -.4,.3 3,.7 1.1,.2 4.4-.4 2.2,1.7 2.7,2.2 1.1-1.4 1.1-1.6 2.9,2.5 2.2,1.4 4.3-2.1 .7,.4 2.5,3.1 1.3-3.2 -.5-.6 -1.4-4.3 1.3-2.2 .1-.8 -2.1-3.6 1-2.1 -1.7-2.1 0-.7 -.9-3.4 -1.7-.5 -2.8,.6 -3.6-.3 -2,0 -1.4-2.9 -.9-1.3 -2.9,2.7 -3-1 -3-2.6z" fill="#0099ff"/><path d="M700.8,179.6l-.1,.8 -1.3,2.2 1.4,4.3 .5,.6 -1.5,3.7 .1,.6 3.3-3.3 2.3-.9 0,.9 3.4-1.6 2.1-.4 1.8,1.2 2.6-2.3 .7-3.1 3.8,0 .7,.4 -.1-4 .4-3.7 .8-1.5 -.2-2 -.1-.2 .8-3 .1-3.6 -.4-1.1 -2.3-3.2 .3,2.8 -2.5-.5 -1.2-3.6 -3.4-.2 -2.6,1.5 -1.3-1.1 -1-.6 -4.1-.5 -.2,4.3 -2.1,1.9 .9,0 -.8,1.7 -1.8,1.1 -1.8,3.9 0,.7 1.7,2.1 -1,2.1z" fill="#00ccff"/><path d="M731.5,165.6l1.7,1.6 2.4,.1 1.7,4 -1.2-.6 3,2.3 1-4.3 2.4,.2 1.4-.1 2-3.2 1.8-1.6 .4-1 -.3-1.1 .5-1 1.1-1.4 -3.3-3.4 -1-1.2 1.2-1.8 -3.2-3.5 -2.1-1 -.9,.4 -1.5-.3 .4,4.3 -2.7,2.1 .1-1.4 -3.1,2.9 -.4,3.5 -3.9-1.1 -.5,.8 -1.7,3.6 .9,.4 1.5,1.9z" fill="#00ccff"/><path d="M633.5,187.9l-3.2,4.2 -1.9,.4 -1.6-.3 -3.6,1.9 -.4,.6 -2.7,1 1.9,1.1 .8,3.1 -.3,2.7 1.9,.3 .2,2.3 -.1,3.1 2.6,1.3 .2,3.1 -1,2.8 3,.3 1.3,2.4 -1.7,3.2 2.3,1.3 3.4-.4 .3-2.2 1.4,1 2.1-2.4 .7-3.6 3.7,.5 1,.1 2.7-2.9 1.6-1.5 -1.2-.4 -.7-2.6 .7-2.7 -1-2.4 -.2-3.2 2.3-2.5 -.6,.1 -2.5-3.3 1.2,0 2-2.5 -3.6,.5 -1.5-3.3 -3.1-1.8 .1,2.4 -2.7,1.4 0-2.6 -3.5-2.3z" fill="#0099ff"/><path d="M655.2,186.6l-3.2,2.8 -.4,0 -3.1,.5 -.4,1.9 -2,2.5 -1.2,0 2.5,3.3 .6-.1 -2.3,2.5 .2,3.2 1,2.4 -.7,2.7 .7,2.6 1.2,.4 1.2,2.9 1-1.3 1.2-1.5 2.2,2.8 3.6,1.3 1.7-.4 2.2,.9 1.2-3.7 2.6,.3 1.1,.3 .9-3.5 1.2-2.1 .2,1.4 2.5-1.1 .8-2.7 -1.3-2.3 -1.4-1.6 1.2-3.8 -.8-.6 -3-1.6 0-3 .7-1.1 -1.8-3.3 -.6-1.5 -1.6,.5 -1.3,2.4 -2.4-1.8 -3.9-3.1z" fill="#00ccff"/><path d="M671.6,205.5l3.9,1.1 2.4,3.6 2-.8 .9-.2 .9,1.2 3.4-.4 2.3,2.1 3.3,1.6 -.2-3.4 1.8-2.8 .4,1.3 1.7-1.5 1.4-4.2 1.4,.3 2.6,.9 1.4-3.8 2.7-2 -1.7-1 -.8-1.4 .6-.9 -.8-1.6 -1.3-1.8 -.1-.6 .4-.3 -2.7-3.3 -.7-.4 -4.3,2.1 -2.2-1.4 -2.9-2.5 -1.1,1.6 -1.1,1.4 -2.7-2.2 -2.2-1.7 -4.4,.4 -1.1-.2 -3-.7 .4-.3 -3.2,.6 -.3,1.7 -3,0 -1,.1 .6,1.5 1.8,3.3 -.7,1.1 0,3 3,1.6 .8,.6 -1.2,3.8 1.4,1.6 1.3,2.3 -.8,2.7z" fill="#00ccff"/><path d="M738.3,206.6l-.9-.9 3.8-2.9 1-2.3 -3-2 1.4-2 3.2-.4 -.7-2.6 -.8-1.4 -1.5-2.7 .6,.1 -.7-3 -2.4,1.8 -3.6-1.5 -1.4-3 -1.7,.6 -1.1,1.8 -2.4-1.5 -2.8-2.1 -2.6,1.2 -2.1,.8 -.7-2.3 -3.8,0 -.7,3.1 -2.6,2.3 -1.8-1.2 -2.1,.4 -3.4,1.6 0-.9 -2.3,.9 -3.3,3.3 1.3,1.8 .8,1.6 -.6,.9 .8,1.4 1.7,1 .9,2.1 -1.1,1.7 2.8,2 2.7,.6 1.8,.4 1.9,.2 .2,.9 2.2,1.9 3.4,1.7 -.8,2.2 3.5-1.6 -.1-1.7 3.2,1 2.2-.1 1.1-1.9 4.2,.7 1.3,1.7 2.9-1.2 3.3-.6z" fill="#00ccff"/><path d="M578.4,223.4l.5-2.8 3-1 .3-1.5 1.6-2.3 -.4-1.7 3.3,0 -.1-1.7 -.1-1.9 .7-4.7 .6-.4 .2-3.6 -2.9,.2 -2-1.8 -.1-2.2 -2-.1 -2.2-1.9 .1,.6 -.9-1.6 -2,8 -15,0 -1,10 6,5 9.2,.6 2.4,5z" fill="#0099ff"/><path d="M602.3,209.4l-.2,.6 2.6,3 .8,1.7 -.3,.6 1.6,3.1 .3,.9 -.4,1.2 2.3,3.2 .8,.7 -.9,2.2 3,.3 1.7,.7 2.5,1 2.4,1.3 -.9,3 3.7-3.1 .9-3.1 2.8,.1 2.3-.8 .6-1.3 3.1,.2 .2-2.2 -2.3-1.3 1.7-3.2 -1.3-2.4 -3-.3 1-2.8 -.2-3.1 -2.6-1.3 .1-3.1 -.2-2.3 -1.9-.3 .3-2.7 -.8-3.1 -1.9-1.1 -1.7-.1 -1.8,.7 -1.9-.8 -1.7,1.4 -2.6,2.1 -3.3,.6 -.7,.7 -2.9,1.6 .6,1.2 -1.7,1.3 -.5,2.4z" fill="#0099ff"/><path d="M659,215.1l-1.7,.4 -3.6-1.3 -2.2-2.8 -1.2,1.5 -1,1.3 -1.2-2.9 -1.6,1.5 -2.7,2.9 -1-.1 -3.7-.5 -.7,3.6 -2.1,2.4 -1.4-1 -.3,2.2 0,.4 .2,1.7 3.6,.9 2.7,4.1 -1.4-.1 .5,3 4.7,1.3 2,2 .7-2.5 1.2-.5 3.4,1.2 -.6-.9 3.6-1.3 1.4,1.5 1.6,.9 3.8-1.9 1-.6 -1.4-2.4 1.5-.3 -.6-2.2 -.7-2.1 2-1.1 -.7-2.8 -2.5-2.6 .6-2z" fill="#0066ff"/><path d="M660.6,218l2.5,2.6 .7,2.8 -2,1.1 .7,2.1 .6,2.2 -1.5,.3 1.4,2.4 3.7,1.1 1.4,2.6 2.2-1.2 .8-2.2 3.1-1.1 .1,.3 2.4-2.5 -1.3-2.7 2.5,1.1 .9-1.5 4.3-4.4 1,.1 1.4,.2 -.3-4.5 1.1-1.7 2.1,1.1 .8-1.7 1.5-.8 -3.3-1.6 -2.3-2.1 -3.4,.4 -.9-1.2 -.9,.2 -2,.8 -2.4-3.6 -3.9-1.1 -.7,2.1 -2.5,1.1 -.2-1.4 -1.2,2.1 -.9,3.5 -1.1-.3 -2.6-.3 -1.2,3.7z" fill="#00ccff"/><path d="M689.2,214.5l-.8,1.7 1.7,.7 2,2.5 -.2,3.3 1.4,.8 1.3,2.3 -.4,2.9 1.4,.3 .9,1.9 -.6,2.7 1.8,.6 4.6,2.5 .7-1 2.9-1.1 -.8,2.5 2.9,1.4 .9-2.2 4.5-.5 .1-.3 .7,1.1 1.6-3 0-4.3 0-1.8 .9-2.5 .6,0 -.2-2.1 0-4.3 .6-1.2 .4-3 -.3-1.8 .1-.4 .8-2.2 -3.4-1.7 -2.2-1.9 -.2-.9 -1.9-.2 -1.8-.4 -2.7-.6 -2.8-2 1.1-1.7 -.9-2.1 -2.7,2 -1.4,3.8 -2.6-.9 -1.4-.3 -1.4,4.2 -1.7,1.5 -.4-1.3 -1.8,2.8 .2,3.4z" fill="#0033ff"/><path d="M717.4,238.8l.5,.5 2.7-2.6 3.3,3.6 .9,.8 3.9-2.2 -1.5-1.5 2.3-2.1 .6,.3 3.7-2.9 -.4-3.4 .9,.5 0-2.2 1.9-1.3 2.9-4.1 .1,.4 1.6-1 -1.8-3.6 4-1.4 -.1-1.8 -.6-.2 -1.8-3.1 -.3,0 .9-2.7 -1.6-.3 -3.3,.6 -2.9,1.2 -1.3-1.7 -4.2-.7 -1.1,1.9 -2.2,.1 -3.2-1 .1,1.7 -3.5,1.6 -.1,.4 .3,1.8 -.4,3 -.6,1.2 0,4.3 .2,2.1 -.6,0 -.9,2.5 0,1.8 0,4.3 -1.4,2.7z" fill="#0033ff"/><path d="M686.3,215.1l-1.1,1.7 .3,4.5 -1.4-.2 -1-.1 -4.3,4.4 -.9,1.5 -2.5-1.1 1.3,2.7 -2.4,2.5 -.1-.3 -3.1,1.1 -.8,2.2 -2.6,1.4 1.1,3.4 1.7,1.6 -1.1,1.5 -.2,2.1 3.7,.3 3.8,2.2 -.9-1.8 2.2,2.3 1.8,.1 2.8,3.3 1.4-2.6 1.8-2.3 0-.7 3-1.2 .1-1.7 3.2-1 1.5-1 1.9-2 2.4-2.3 -.2-1.4 -1.8-.6 .6-2.7 -.9-1.9 -1.4-.3 .4-2.9 -1.3-2.3 -1.4-.8 .2-3.3 -2-2.5 -1.7-.7z" fill="#0099ff"/><path d="M587.5,247.2l2.2-3.5 -.3-3.3 2.4,1.8 -.3-2.2 3.5-3.2 2.3,.7 1.7-1.7 .3-3.1 -.3-1.4 3.2-1.5 -2.1-.2 .5-2.5 -4.1-1 -3.1,1.7 -1.3-2.3 -1.4,.2 -.1-3.4 -4.4-.7 1.7,3.1 -.3,1.7 -.8,4.4 .7,.8 -.8,.9 -1.2,3.1 1.9-.6 .7,4.4 -2.8,2.9 -.3,1.3 2.4,4.3z" fill="#0099ff"/><path d="M589.2,247l1.4,.9 1.1-.6 4.4,2 .8,1.6 -.7,1.8 2.7,1.6 1.7-1 2.8,1.8 1.6-1.3 -.3,4.1 3.5-.4 .9-4 3-2.1 2.6,1.6 1.2-.8 3.3-3.1 .1-.4 -.8-.7 .7-2.2 1.2-3.1 -1.8-1.8 -1.3-3.9 2.3-.9 1.1-1.4 -2.3-2.1 -.8,.3 .9-3 -2.4-1.3 -2.5-1 -1.7-.7 -3-.3 -.1,1.1 -2.7-1.1 -.7,.1 -3.7,2.2 .5,.9 -3.2,1.5 .3,1.4 -.3,3.1 -1.7,1.7 -2.3-.7 -3.5,3.2 .3,2.2 -2.4-1.8 .3,3.3 -2.2,3.5z" fill="#0066ff"/><path d="M755.8,115.7l-1.3-1.4 -2.3,1.2 -1.8,1.4 -1.1-1.1 -3.3-.2 .1,2.1 -4.2,.2 .1-1.2 -3.4,1.4 -1.6,1.7 -1.7-.9 .5,2.4 -.7,2.2 1.8-.1 .5,2.7 -.4,2.8 2.5,1 .6,2.8 -1.6,1.5 2,.7 2.3,3.9 -.1-2.7 .9,.1 -.2-2.6 3.2-3.7 1.4,0 1.6-1.8 -.8-1.6 1.5-4 1.8,1.5 2.5-2.8 .6-2.1 -.2-2.5 1.3,.3z" fill="#0099ff"/><path d="M755,116.6l.2,2.5 -.6,2.1 -2.5,2.8 -1.8-1.5 -1.5,4 .8,1.6 -1.6,1.8 -1.4,0 -3.2,3.7 .2,2.6 -.9-.1 .1,2.7 -1,.6 1.4-.5 1.5,2.2 1.9,.7 1.3-1.6 4.9-.3 1,.8 3.2-.9 2.1-.6 2.3,1.7 2.1,1 -.6-2.2 3.6-1.4 1.1,1.6 2.1-.5 1.2-4.1 1.1-1.3 -.7-1.4 .2-3.1 -1.2-.5 -1-2.5 .6-2.5 -1.8-.6 -2.6-3.2 .2-1.7 -1.5-1 -.6-1.8 -3.8-1.3 -2.4,1.2 -1.1,1.3z" fill="#0099ff"/><path d="M783.2,92.3l-1.1-.7 -2.9,1.4 .5,4.4 -.9-.9 -.8,1.6 -1.6,2.2 -3.5,2.6 .1,.9 -1.4,.3 .3,5.1 -2.1,.3 -2.4,1.3 -1.9,2.3 .1,2.6 -1.4,1.8 1.5,1 -.2,1.7 2.6,3.2 1.8,.6 -.6,2.5 1,2.5 1.2,.5 -.2,3.2 2.7-1.1 2-2.1 1,.5 4.2-.1 -.2-2.6 4.5-.5 1.1,1 2.5-1.4 3.2-1.2 1.2,1.6 3.3,.1 2-1.7 -.9-1.3 .1-2 3.5-.5 -.6-4.3 -.1-.9 1.5-2.4 -.1,.8 2.5-4.2 0-2.2 -2.1-2.3 -.4-.4 -1.8-.1 -2.7-2.7 .1-.5 -.1-3.3 -3.1-.9 -2.2-1.2 0-1.9 -1.4,1.1 -5-2 -2.3-1.7z" fill="#00ccff"/><path d="M772,134l-1.1,1.3 -1.2,4.1 -2.1,.5 1.7,1.9 .4,2.7 -1.5,.4 1.6,2.3 2.2,1.3 -.6,1.9 .6,3.1 2.1,.3 3.2,1.3 .1,2 2.3-1.3 0-2.1 3.8,1.4 2.1,2.2 2.3-.6 3.1-1.4 1.6,.8 4.1,.8 .1-.6 1.9,.5 .7,1.4 3.7-2.2 -.2-3.2 2.5-1.9 -2.5-1.4 2.7-.3 .5-2 -1.5-2.8 -1.2-1.3 1.1-3.4 -1.8-2.4 -2.4-.2 1.4-3.3 -.2-2.9 -2.9-1.3 0-3 .2-1.4 -2,1.7 -3.3-.1 -1.2-1.6 -3.2,1.2 -2.5,1.4 -1.1-1 -4.5,.5 .2,2.6 -4.2,.1 -1-.5 -2,2.1 -2.7,1.1z" fill="#00ccff"/><path d="M741.8,139.4l-1.1,3 1.4,1.8 .7,2.9 -1.8,1.5 2.1,1 3.2,3.5 -1.2,1.8 1,1.2 3.3,3.4 -1.1,1.4 -.5,1 2.8-.5 3.2-.3 2.7,.4 1.5,1.3 1.1,1.1 .6-.4 2.3-1 2.3,.6 3.6,1.9 .2-3.9 0-1 2.3-1.6 2.1-.2 1.6-4.5 -2.1-.3 -.6-3.1 .6-1.9 -2.2-1.3 -1.6-2.3 1.5-.4 -.4-2.7 -1.7-1.9 -1.1-1.6 -3.6,1.4 .6,2.2 -2.1-1 -2.3-1.7 -2.1,.6 -3.2,.9 -1-.8 -4.9,.3 -1.3,1.6 -1.9-.7 -1.5-2.2 -1.4,.5z" fill="#00ccff"/><path d="M724.5,163.6l3.2,.2 -.9-.4 1.7-3.6 .5-.8 3.9,1.1 .4-3.5 3.1-2.9 -.1,1.4 2.7-2.1 -.4-4.3 1.5,.3 .9-.4 1.8-1.5 -.7-2.9 -1.4-1.8 1.1-3 -2.5,2 -4.2-.9 .3,1 -4.2,1.1 -1.4-1.6 -1.2,.3 .5,2.8 -3.5,2.9 0,2.9 2.1,0 -3.3,2.6 -1.2,1.8 -.2,3.7 .2-.7 -.6,2.1 -3,1 2.3,3.2z" fill="#0099ff"/><path d="M720.6,184.6l2.1-.8 2.6-1.2 2.8,2.1 2.4,1.5 1.1-1.8 1.7-.6 1.4,3 3.6,1.5 2.4-1.8 -2.1-2.4 2-1.8 1.2-4.2 -2.4,.7 -.5-1.8 1-3.1 -.8-.9 -3-2.3 1.2,.6 -1.7-4 -2.4-.1 -1.7-1.6 -2.3,.1 -1.5-1.9 -3.2-.2 -2.6,0 .4,1.1 -.1,3.6 -.8,3 .1,.2 .2,2 -.8,1.5 -.4,3.7 .1,4 -.7-.4z" fill="#00ccff"/><path d="M744.7,191l2.8,1.1 1.6-1 2.7-2.3 2.6,.2 1,.4 4.2-2.2 -.3-1.1 4.6,1.1 -.1-.7 3.2-1.9 1.5,.7 1.6,1 -.1-.3 -1.6-4.7 1.2-1.3 1.1-2.6 -2.1-3 -1.1-.6 .7-2.3 -1.5-1.2 -1.5-1.1 1.8-2.1 .9-2.1 -3.6-1.9 -2.3-.6 -2.3,1 -.6,.4 -1.1-1.1 -1.5-1.3 -2.7-.4 -3.2,.3 -2.8,.5 .3,1.1 -.4,1 -1.8,1.6 -2,3.2 -1.4,.1 -2.4-.2 -1,4.3 .8,.9 -1,3.1 .5,1.8 2.4-.7 -1.2,4.2 -2,1.8 2.1,2.4 .7,3 -.6-.1 1.5,2.7z" fill="#00ccff"/><path d="M798.7,156.8l-1.9-.5 -.1,.6 -4.1-.8 -1.6-.8 -3.1,1.4 -2.3,.6 -2.1-2.2 -3.8-1.4 0,2.1 -2.3,1.3 -.1-2 -3.2-1.3 -1.6,4.5 -2.1,.2 -2.3,1.6 0,1 -.2,3.9 -.9,2.1 -1.8,2.1 1.5,1.1 1.5,1.2 -.7,2.3 1.1,.6 2.1,3 -1.1,2.6 -1.2,1.3 1.6,4.7 .1,.3 2.5-1.1 0-.2 3.3,1.9 1.1-.1 1.3-2.3 4.4-.4 .4,1.1 4-.9 2.2-1 2.2,1.7 2.4,1.2 1.6-1.8 2.3-1 .1,.9 3.6-.6 .1-1.8 3.1-1.9 .3-.8 1.6,.5 -1.8-3.7 .9-.3 -.6-3.8 -2.2-3 .6-.2 .6-4.1 -2.3-1.3 -.6-.2 .9-3.8 -1.7,0 -1-1.1z" fill="#00ffff"/><path d="M829.1,146.6l-1.9-.4 -.9-1.8 -4.5,.7 .1,1.4 -4.5-1 -1.5-.3 -2.1,2.2 -3.9,.9 .2-1.3 -4.4,.6 -.1,1.6 -2.7,.3 2.5,1.4 -2.5,1.9 .2,3.2 -3.7,2.2 1,1.1 1.7,0 -.9,3.8 .6,.2 2.3,1.3 -.6,4.1 -.6,.2 2.2,3 .6,3.8 -.9,.3 1.8,3.7 1.1-2 3.4,0 .2,2.8 3.2,.9 .2-2.6 3.2-1 1.2,2.3 3.3,1.5 2.4-1.8 2.5-.8 2,2.5 .4,1.9 2.2-1.7 .7-1.7 4.3,1.6 1.8,1.7 -.8-3.3 1.3-2.8 .6-2 -1.3-2.6 .6,1 2.1-3.1 -.3-3.5 -1.1-1.1 2-4.2 1.4-.5 -1.8-.6 -.3-2.6 2.4-2.3 -.4-3.9 -1.5,.5 -1.5-2.4 -1.2-1.1 -2.5-.9 -1.6-1.4 1-.1 -4-1.2z" fill="#00ffff"/><path d="M874.4,164.1l-3-3.7 -.7-1.1 -.1-2.2 -1.5-3 -.8-.3 -1-2.2 -2.9-2.1 -1.6,.1 -1.3,2.2 -1.9-.7 -2.5-1.2 -.8,1.4 -2.5,.1 -2.3-1.7 -.5,.9 -4.3,1.7 0-.9 -3.6,.4 .4,3.9 -2.4,2.3 .3,2.6 1.8,.6 -1.4,.5 -2,4.2 1.1,1.1 .3,3.5 -2.1,3.1 -.6-1 1.3,2.6 -.6,2 -1.3,2.8 .8,3.3 -.1,.3 4.3-1.7 .7-1.4 2,1.8 .5,1.5 1.5-.7 3.6-.6 2.3,1.2 4.4,.6 .4-.4 2.6,.4 .2,.6 2.6-.8 2.2-.7 1.9,1.4 .4-2.6 2.5-.2 .1-4 .4-1.1 -.1-2.6 .6-.2 3.3-3 -1.1-2 -1.8-2.5 3.9-.7z" fill="#00ffff"/><path d="M901.3,165l-.6-.4 -2.4-3.1 -1.9-1.2 -2.9,.5 -2.5,2.4 -1.6,0 -3.3-.5 -1.2,2.2 -2.3,1.2 -2.6-1.3 -.3,.6 -3.9,1.6 .2-1.1 -3.9,.7 1.8,2.5 1.1,2 -3.3,3 -.6,.2 .1,2.6 -.4,1.1 -.1,4 -2.5,.2 -.4,2.6 2.6,.8 1.2,3.5 .1,0 1.6,2.3 1.8,.6 3-2.7 .4-.7 3.1,1.8 0-1.1 1.8-3 1.1-.7 .6-1 3.2-2.6 .6-.2 3.8,1.2 1.5-2.2 2.2-2.6 2.6,.4 .5-.8 -2.8-3.5 .9-2.2 3.1-2.4 -.9-3z" fill="#00ccff"/><path d="M900.7,169.7l-3.1,2.4 -.9,2.2 2.8,3.5 -.5,.8 -.8,3.3 2.7,1.4 1.7,1.3 -1.7,3.2 1,.4 3.2,2.5 .6,2.1 .9,.3 2.6,3.1 .3,.8 -.2,.5 3.8-2.2 1.7,3.6 3.5,1 .2,.4 1.4-2.2 .5-3.9 -.5,.6 2.1-2.4 1.2-1.6 2.3-4.4 -2.7,.9 3-2.5 1.7-1.4 .5-4.5 .8,.6 -.8-2.2 3.5-1.6 .7-4.4 -1.6,0 -2.4-.7 -2.1,.2 .9-.8 -2.8-3 -2-.1 -4.5,1.2 -1.3-.5 -3.1-1 -2.8-.1 -.7-.6 -4.4-.8 -1.1-1 -3.1-.3 .1,1.2 -1.5,1.7z" fill="#00ccff"/><path d="M768.8,189.1l1.7,2.5 1.3-.7 -1.4,3.6 .5,.6 1.6,1.7 -1.3,3.5 -.3,1.7 2.2,2.8 -.3,3 -.7,1.9 2.1,1.2 .2,3 -1.6,.1 1.2,1.7 2.2,1.2 2.2-1.2 1.1-1.3 3.2,1.3 1-.8 1.8-2.9 3.5-.3 0-.3 3.1-2.7 2.5-.4 0,1 4.2-1.9 .9-1.5 1.1,.8 -.3-1.2 1.9-1.8 -.4-4.1 -.6-1.4 1.3-3 -.8-2.6 -2-.2 1.4-2.3 1.7-1.4 -1.2-.8 -.3-4.2 -3.6,.6 -.1-.9 -2.3,1 -1.6,1.8 -2.4-1.2 -2.2-1.7 -2.2,1 -4,.9 -.4-1.1 -4.4,.4 -1.3,2.3 -1.1,.1 -3.3-1.9 0,.2 -2.5,1.1z" fill="#00ffff"/><path d="M804.4,209.2l2.4,.5 -.5,2.9 .8-1.5 2.8,2.2 1.9,.9 0,.3 3.5,.5 1.2-2.3 1.5-1.3 3.5,.9 -.3-1.3 4.1-2.2 .6,.7 2.1,.4 3.1-2.1 -.2-.2 4.5,1.3 0-1.5 2.8-2.5 .3-2.5 -2.7-1.7 .8-.6 2.5-2.1 -1.1-2.4 -1.4-2.9 1.5-3.3 .5-1.4 -.7-1.5 .6-1.4 .1-1.5 .1-.3 -1.8-1.7 -4.3-1.6 -.7,1.7 -2.2,1.7 -.4-1.9 -2-2.5 -2.5,.8 -2.4,1.8 -3.3-1.5 -1.2-2.3 -3.2,1 -.2,2.6 -3.2-.9 -.2-2.8 -3.4,0 -1.1,2 -1.6-.5 -.3,.8 -3.1,1.9 -.1,1.8 .3,4.2 1.2,.8 -1.7,1.4 -1.4,2.3 2,.2 .8,2.6 -1.3,3 .6,1.4 .4,4.1 -1.9,1.8 .3,1.2z" fill="#00ccff"/><path d="M873.3,191.4l-1.6-2.3 -.1,0 -1.2-3.5 -2.6-.8 -1.9-1.4 -2.2,.7 -2.6,.8 -.2-.6 -2.6-.4 -.4,.4 -4.4-.6 -2.3-1.2 -3.6,.6 -1.5,.7 -.5-1.5 -2-1.8 -.7,1.4 -4.3,1.7 -.1,1.5 -.6,1.4 .7,1.5 -.5,1.4 -1.5,3.3 1.4,2.9 1.1,2.4 -2.5,2.1 -.8,.6 2.7,1.7 -.3,2.5 -2.8,2.5 3.3,2.5 3.3-.2 -1.2,1.1 -.1,2.6 3.5,.8 1.9,3.6 -.4,1 3.1-1.1 1.4-1.6 3.5,1.5 2.1,1.9 1.9-1.3 4.7-1.4 .7,.9 2.3,0 1.1-1.2 1.9,1.1 2.6,1.7 -.1-1.4 4.2-2.1 -1.1-1 2.3-1.4 1.5-1.7 -1.6-1.2 .5-5.4 2.6-.7 -1-1.5 -1.3-1.9 1.2-1.1 -.5-2.3 -2.6-.1 -.2-3.3 .2-2.2z" fill="#00ccff"/><path d="M896.4,178.2l-2.2,2.6 -1.5,2.2 -3.8-1.2 -.6,.2 -3.2,2.6 -.6,1 -1.1,.7 -1.8,3 0,1.1 -3.1-1.8 -.4,.7 -3,2.7 -.2,2.2 .2,3.3 2.6,.1 .5,2.3 -1.2,1.1 1.3,1.9 2,.5 1.7-2.2 3.7-1.3 .4,1.1 3.9-1.1 1.2-2 2.1,.8 2.9,.6 .8-1.8 3-.2 1.6,1.5 1.3-1.2 3.3-1.6 .1,1.1 3.2-.1 -.3-.8 -2.6-3.1 -.9-.3 -.6-2.1 -3.2-2.5 -1-.4 1.7-3.2 -1.7-1.3 -2.7-1.4 .8-3.3z" fill="#00ccff"/><path d="M906.3,197.1l-.1-1.1 -3.3,1.6 -1.3,1.2 -1.6-1.5 -3,.2 -.8,1.8 -2.9-.6 -2.1-.8 -1.2,2 -3.9,1.1 -.4-1.1 -3.7,1.3 -1.7,2.2 -2-.5 1,1.5 -2.6,.7 -.5,5.4 1.6,1.2 -1.5,1.7 -2.3,1.4 1.1,1 2.1,1.1 2,2.7 2.1,.5 .8-2.1 .8-.3 2.3,2.1 2,.8 4.5-1 1.7,.4 3.5,1.9 -.5,.2 2.4-1.2 0-.2 4,1.2 0-1.2 2.8-2.3 .9-2.4 3.4-2 -2.2,1.1 2.6-4 -1-2.1 4.2-.5 .7-1.4 1.3-1.4 -.1-4.2 .4,.7 2.4-1.2 .3-.7 -.2-.4 -3.5-1 -1.7-3.6 -3.8,2.2 .2-.5z" fill="#00ccff"/><path d="M747.1,217.3l4.4-.2 1.2,1.9 3,.4 -.5-.9 2.2,.6 .7,1.3 4,.6 2.2,.3 3.6-.3 .2-1 3.2,.9 1.1-.2 1.5-2 .2-2.4 -.1-.6 -1.2-1.7 1.6-.1 -.2-3 -2.1-1.2 .7-1.9 .3-3 -2.2-2.8 .3-1.7 1.3-3.5 -1.6-1.7 -.5-.6 1.4-3.6 -1.3,.7 -1.7-2.5 1.3-2.8 -1.6-1 -1.5-.7 -3.2,1.9 .1,.7 -4.6-1.1 .3,1.1 -4.2,2.2 -1-.4 -2.6-.2 -2.7,2.3 -1.6,1 -2.8-1.1 -2.4,1.1 .8,1.4 .7,2.6 -3.2,.4 -1.4,2 3,2 -1,2.3 -3.8,2.9 .9,.9 1.2,1.9 1.6,.3 -.9,2.7 .3,0 1.8,3.1 .6,.2 1.4,3.3 1.7,.6z" fill="#00ccff"/><path d="M731.9,241l1.1,1 2.3-1.5 2-1.6 1.2,1 3.4,.2 .1-2.1 4.1-.5 0,.7 .2-3.7 -1.9-1 .8-2.1 2.2-4.8 -1.9-1.3 -1.4-2.3 2.2-1.9 .6-.9 -.9-1.5 -1.7-.6 -1.4-3.3 .1,1.8 -4,1.4 1.8,3.6 -1.6,1 -.1-.4 -2.9,4.1 -1.9,1.3 0,2.2 -.9-.5 .4,3.4 -3.7,2.9 -.6-.3 -2.3,2.1 1.5,1.5 1.4,2.1z" fill="#0066ff"/><path d="M746.9,220.2l-.6,.9 -2.2,1.9 1.4,2.3 1.9,1.3 -2.2,4.8 -.8,2.1 1.9,1 -.1,3 2.2,3.2 1.4,1.1 1.1,1.9 .2,.7 1.8,.8 3.3-.4 .8,2.3 0-.3 3.3-2.6 -.8-.3 -2.1-3.8 3.7-1.6 1.5-1.8 -1.7-1 .8-2 1.1-3.9 2-1.2 0-2 -1.9,.7 3.2-4.2 1.8-2.1 -3.6,.3 -2.2-.3 -4-.6 -.7-1.3 -2.2-.6 .5,.9 -3-.4 -1.2-1.9 -4.4,.2 -1.1,1.4z" fill="#0033ff"/><path d="M774.1,216.3l-.2,2.4 -.8,0 1.4,2.9 3.1,.5 .8,2.7 .6,2.6 2.4,.8 .2,3.3 -.5,.5 2.9,1.8 3.3-1.1 1.9-1 3.5,.9 1.1-.3 4.1-1.1 1.1,1.3 .7,1.7 2.3-1.6 1.1-1.9 3.8,1.3 .7,1.4 1.4-2 1.6-5.3 -1.5-1.1 -.1-.6 2.7-2.4 -.4-1.4 -1.8-3.6 2.3-2.8 -1.9-.9 -2.8-2.2 -.8,1.5 .5-2.9 -2.4-.5 -3.6-2.5 -1.1-.8 -.9,1.5 -4.2,1.9 0-1 -2.5,.4 -3.1,2.7 0,.3 -3.5,.3 -1.8,2.9 -1,.8 -3.2-1.3 -1.1,1.3 -2.2,1.2 -2.2-1.2z" fill="#00ccff"/><path d="M846.1,223l-2.7-2 -.8-3.9 3.5,.7 -1.9-3.6 -3.5-.8 .1-2.6 1.2-1.1 -3.3,.2 -3.3-2.5 0,1.5 -4.5-1.3 .2,.2 -3.1,2.1 -2.1-.4 -.6-.7 -4.1,2.2 .3,1.3 -3.5-.9 -1.5,1.3 -1.2,2.3 -3.5-.5 0-.3 -2.3,2.8 1.8,3.6 .4,1.4 -2.7,2.4 .1,.6 1.5,1.1 -1.6,5.3 -1.4,2 2.9,1.6 .7,2.1 -.1,.9 2,2.7 .2-3.5 2.3-1.5 1.4,.1 1.8-2.2 3.3-.4 -.1,1.8 2.5-1.3 2.9-2.4 1.2-.1 3.1-1.5 .6-2.9 2.9,.4 3.5,.7 .3-2.1 3-.5 2,.5z" fill="#00ccff"/><path d="M875.1,215.8l-4.2,2.1 .1,1.4 -2.6-1.7 -1.9-1.1 -1.1,1.2 -2.3,0 -.7-.9 -4.7,1.4 -1.9,1.3 -2.1-1.9 -3.5-1.5 -1.4,1.6 -3.1,1.1 .4-1 -3.5-.7 .8,3.9 2.7,2 -2.1,2.8 -2,1.1 1.1,1 1.9,2.8 -.6-.8 .4,4.4 1.7,.8 -1.1,3.1 -1.9,3.3 3.7-2.1 2-.6 2.9,2.5 1.9,1.4 .9-1.6 2.3-.3 .8,2.5 4.1,.9 1.5-2.1 4.2-.7 .5,2.1 2.4,.9 .4-1.8 2.1-.1 1.4,1.6 3.7-3 -1.8-2.3 -1.7-2.8 1.7-3.5 .8-.2 -1.1-2.7 .6-.7 .2-.9 -1.7-4.4 .5-.4 2.4-4.9 -1-1.4z" fill="#00ccff"/><path d="M875.8,223.2l-.5,.4 1.7,4.4 -.2,.9 -.6,.7 1.1,2.7 -.8,.2 -1.7,3.5 1.7,2.8 1.8,2.3 .3-.7 2.2,.8 .4,1.3 1.7-1.1 3.7-1.4 2.2,1.6 4.7,1.8 .7-1.8 2.2-1.8 .6,2 1.2,1.9 3.5-1.8 .7-2.9 .2-.4 -.9-3.3 .6,.8 1.8-2.6 -.3-3.9 -1-.9 1.8-4.3 1.5-.1 -1.3-2.6 -2,.2 -4-1.2 0,.2 -2.4,1.2 .5-.2 -3.5-1.9 -1.7-.4 -4.5,1 -2-.8 -2.3-2.1 -.8,.3 -.8,2.1 -2.1-.5 -1-1.3z" fill="#00ccff"/><path d="M905.7,226.4l2.2,.1 .8,.5 4.5-.7 .4,2.1 1.5,1 1,2 3,.1 4-1.8 .5,3.3 2.2,.4 1-1.5 -.6-1.1 -.2-4.7 .7-1.8 .2-2 -.2,0 .5-1.9 1.2-4.4 .5-.8 .1-3.6 .4-1.3 .6-.3 -1.1-2.3 -2.8-2.1 -2.5-1.3 .2-1.4 -1.8-.4 -3.9-.1 .1-1.4 -2.4,1.2 -.4-.7 .1,4.2 -1.3,1.4 -.7,1.4 -4.2,.5 1,2.1 -2.6,4 2.2-1.1 -3.4,2 -.9,2.4 -2.8,2.3 0,1.2 2-.2 1.3,2.6z" fill="#00ccff"/><path d="M792.4,96.8l2.2,1.2 3.1,.9 .1,3.3 -.1,.5 2.7,2.7 1.8,.1 .4,.4 2.1,2.3 -.1,.1 2.3-1 1.1-2 1.5-1.8 3.5,.6 1.1-1.1 3.8-3.5 1.1-.6 1.4,.1 1.8-3.6 -.6-1.6 2.5,1.9 .5-1.9 2.3-4.4 2.7,.7 1.2-2.1 -2.1-.7 2.1-5.2 1.3-1 .8-2.1 1.5,1 -2.3-3.8 2.8-1.5 2.7-3.4 -2,.7 -1.8-2.5 1.4-1.6 -.1-.4 -2.1,2.5 -7,4 -11,2 -6,2 -6,3 -4,5 -4,7 -2.6,1.9z" fill="#00ccff"/><path d="M834.9,74.7l-2.8,1.5 2.3,3.8 -1.5-1 -.8,2.1 -1.3,1 -2.1,5.2 2.1,.7 -1.2,2.1 -2.7-.7 1.2,2.5 3.3,1 .7,2 .4,3.6 2.8,.7 .8,3.2 -.9,.6 3,1.5 3.8,2.7 -1.1,.6 -.8,3 3.3-2.8 1.1-.9 2.9-1.3 2.7-2.9 .6,.4 3.3,1.6 1.1-2.2 2.4-4.6 -1.2-.5 -1.3-1.1 2.1-.9 1.4-2.7 -1.7-1.9 -.1-3.2 -.1-1.3 -.9,1 -3.9-3.1 -1,1 .4-3.7 -3.6-1.2 -2.6-2.3 .9-1.8 -2.2-.6 -3.9-.8 .2-.6 -.5-1.5 -2.7-.6z" fill="#00ccff"/><path d="M834.6,119.6l2.2-1 -1.3-.4 4.9-4.8 -.6-.2 2.8-1.8 -2.5-.6 .8-3 1.1-.6 -3.8-2.7 -3-1.5 .9-.6 -.8-3.2 -2.8-.7 -.4-3.6 -.7-2 -3.3-1 -1.2-2.5 -2.3,4.4 -.5,1.9 -2.5-1.9 .6,1.6 -1.8,3.6 -1.4-.1 -1.1,.6 -3.8,3.5 -1.1,1.1 -3.5-.6 -1.5,1.8 -1.1,2 -2.3,1 4.3,.5 -.3,2.3 2.1,1.2 1.6-.7 3.7,.5 3,.7 -.5,3 2.3,.1 .9,1.4 4.2-.9 .6,.1 .8,3.9 2.3-.6 2.5,2.4 4.3-.8z" fill="#00ccff"/><path d="M835.2,67.9l-1.4,1.6 1.8,2.5 3.9,.9 .5,1.5 -.2,.6 3.9,.8 2.2,.6 -.9,1.8 2.6,2.3 3.6,1.2 -.4,3.7 1-1 3.9,3.1 .9-1 .1,1.3 2.2,.5 1.8,1 1.9-1.7 2.2-1.1 1.3,1.3 3-.7 .7-2.4 3,.2 1.6,.4 1.2-2.3 3.7-1.4 -.3-1.5 3.7,.8 .5-4 -.2-1.8 1.1-.5 -.6-2 .1-3.4 -3.4-.9 -2-2.5 .1-.7 -4.3-6.1 0-2.6 -2.7-2.6 .1-1.6 -1.6-.4 -1-1.3 -1.8,.5 -10,0 -12-1 -3,7 -4,7 -2.9,3.5z" fill="#00ccff"/><path d="M869.8,51.8l1.6,.4 -.1,1.6 2.7,2.6 0-3.4 -1-6 -2,3 -2.2,.5zM878.2,65.8l2,2.5 3.4,.9 -.1,3.4 .6,2 .8,.9 2.7-1.6 2.1-1.2 1.5,1.2 .2,0 -2.4-2.9 -4-3 -6-2 -.7-.9z" fill="#00ccff"/><path d="M891.2,73.9l-1.5-1.2 -2.1,1.2 -2.7,1.6 -.8-.9 -1.1,.5 .2,1.8 -.5,4 -3.7-.8 .3,1.5 1.6,.9 1,3.2 -.5,1.8 2.1,.2 1.2,3.2 -1.6,2 1.4,1.7 2.8,3.5 -1,.8 -.2,1.3 2.2,3.6 2.2-1.2 2,.8 1.5,.5 0-.9 3.8,.3 .3,2 3.2,.1 1.6-2.4 4.4-1 1,1.6 2.3,.7 -.7-3.4 .7-.7 .1-3.3 1.7-1.2 -2.2-.9 -2.7-3.1 1.1-1.4 -1.9-1.1 -3.1-3.5 .8-1.6 -1.1-1.4 -2.6-3.5 .8-1.5 -.3-1.2 -1.2-1.8 -2,1.3 -4,1 -2.6-3.1z" fill="#00ccff"/><path d="M916.1,108.9l2.1,.2 .5,.7 2.6-1.7 1.3-.4 3.5,2.3 1.8,.5 2.2-1.6 4.8,.4 -3.9-2.3 -12-6 -5.7-2.8 -1.1,.8 -1.5-2.1 -.1,3.3 -.7,.7 .7,3.4 -1,.9 -.3,2.3 2.2,.3 1.6,2.9zM935.5,109.8l0-.1 -.5-.3zM925.7,86.7l-.5,2.4 -2.5,0 -1,.8 -.4,2.8 -2.9,.3 -.4,.1 -1.4,1.7 6.4-.8 9-1 -3-5 -1.8-2z" fill="#00ccff"/><path d="M901.2,76.5l.3,1.2 -.8,1.5 2.6,3.5 1.1,1.4 -.8,1.6 3.1,3.5 1.9,1.1 -1.1,1.4 2.7,3.1 2.2,.9 -1.7,1.2 1.5,2.1 1.1-.8 -.3-.2 2-3 1.6-.2 1.4-1.7 .4-.1 2.9-.3 .4-2.8 1-.8 2.5,0 .5-2.4 1.5-.7 -5.2-6 -6,1 -5-1 -3-6 -2-3 -6,3.7z" fill="#00ccff"/><path d="M883.5,109l1.6-.9 -1-.2 4.1-3 .1-1.1 -2.2-3.6 .2-1.3 1-.8 -2.8-3.5 -1.4-1.7 1.6-2 -1.2-3.2 -2.1-.2 .5-1.8 -1-3.2 -1.6-.9 -3.7,1.4 -1.2,2.3 -1.6-.4 -3-.2 -.7,2.4 -3,.7 -1.3-1.3 -2.2,1.1 -1.9,1.7 -1.8-1 -2.2-.5 .1,3.2 1.7,1.9 -1.4,2.7 -2.1,.9 1.3,1.1 1.2,.5 -2.4,4.6 .6-.7 2.1,2.3 2.2-.6 0,2.9 -.4,.2 3.1,2.1 .9,1.7 4.3-1.4 1.9-1.1 3.1,2.3 .6,2.2 1.2-1.5 1.2-2.2 2.2,1.3 3.7,2.3 2.5-.6z" fill="#00ffff"/><path d="M882.8,122l.3,1.2 1.9,.6 -.5,3.5 .4,1.3 2.4,3 .6-.6 2.1,2.1 .4,.9 3,2.2 3.4-.3 .5,0 1.8,.4 -.1,1.1 3.4-.5 1.6-2.7 2.5-1.1 1,.3 1.6-1.4 2.9-2.4 .9,.3 -2.4-2.1 .4-1.8 2.7,0 -.7-4.9 -2.1-1.6 1-2.6 1.6-2.1 -1.1,.1 -.7-2.4 1.5-1.8 -1.6-2.9 -2.2-.3 .3-2.3 1-.9 -2.3-.7 -1-1.6 -4.4,1 -1.6,2.4 -3.2-.1 -.3-2 -3.8-.3 0,.9 -1.5-.5 -2-.8 -2.2,1.2 -.1,1.1 -4.1,3 1,.2 -1.6,.9 .8,2.9 .1,2.7 -.9,1 1.3,3.9z" fill="#00ffff"/><path d="M912.2,132.3l.1,1.9 3.4-.5 1.4,1.5 4.9-.9 1.1,1 1.7,.5 2.5-2.3 .9-1 2.8,1.8 .1,.5 3.3-1.3 3.5,.5 .9,.4 4-2 1-.5 -.8-3.9 -4-5 -2-8 -1-5 -.5-.3 0,.1 -.5-.4 -.1-.1 -4.8-.4 -2.2,1.6 -1.8-.5 -3.5-2.3 -1.3,.4 -2.6,1.7 -.5-.7 -2.1-.2 -3,1.8 -1.5,1.8 .7,2.4 1.1-.1 -1.6,2.1 -1,2.6 2.1,1.6 .7,4.9 -2.7,0 -.4,1.8 2.4,2.1 -.9-.3z" fill="#00ccff"/><path d="M942.8,132.4l-4,2 -.9-.4 -3.5-.5 -3.3,1.3 -.1-.5 -2.8-1.8 -.9,1 -2.5,2.3 -1.7-.5 -1.1-1 -4.9,.9 .9,1.2 -.8,3.6 2.2,1.6 2.1,.9 -1.2,2.9 .3,.8 1.6,1.2 -1.1,2.8 -.1,.9 2.3,2.2 -.6,3.2 -1.3,1.4 1.6,2.9 .3,3 -.7,1.4 2.6,2.8 1.8,2 -.9,.8 2.1-.2 2.4,.7 1.6,0 2.5,.7 2.7-.3 .5-2.7 1.1,0 2-6 2-10 2-15 -1.2-6.1z" fill="#00ffff"/><path d="M897.3,135.9l-.5,0 -3.4,.3 -3-2.2 -.4-.9 -2.1-2.1 -.6,.6 -3.9,1.3 .2-1.1 -2.8,.1 -2.6,2.3 -.1,.2 -3.7-.7 -.8,2 -2.1,3.4 -1.8-.2 -2.4,2.3 .6,2.1 -.8,3.9 -1-1.2 -3.3,3.6 1.6-.1 2.9,2.1 1,2.2 .8,.3 1.5,3 .1,2.2 .7,1.1 3,3.7 1.6,1.8 -.2,1.1 3.9-1.6 .3-.6 2.6,1.3 2.3-1.2 1.2-2.2 3.3,.5 1.6,0 2.5-2.4 2.9-.5 1.9,1.2 -.5-.4 2.1-3.1 .3-3.9 -2.6-.5 0-4 2.6,.6 -.3-2 -1.9-2.2 .5-1.2 .8-4.5 -.7-1.5 .5-2.5z" fill="#00ffff"/><path d="M870.1,136l-1.7-1.6 1-.8 -1.6-3.3 -4.2,.4 -1-3.6 1.5-1.2 -1.8-2.9 -4.5,1.7 -1.4,1.9 -2.1-.8 -3.5-.1 .1,2 -4.2,.2 .2-1.7 -2.7,.4 -1.7,1.4 -.6-.9 -3.5-.9 .1,1.9 -2.6,3.3 -2,1.1 2,2.1 .6,0 -2.4,2.6 -.3,3.5 2.2,1.1 -.2,4.6 -1,.1 1.6,1.4 2.5,.9 1.2,1.1 1.5,2.4 1.5-.5 3.6-.4 0,.9 4.3-1.7 .5-.9 2.3,1.7 2.5-.1 .8-1.4 2.5,1.2 1.9,.7 1.3-2.2 3.3-3.6 1,1.2 .8-3.9 -.6-2.1 2.4-2.3 1.8,.2 2.1-3.4z" fill="#00ffff"/><path d="M804.7,110.4l-2.5,4.2 .1-.8 -1.5,2.4 .1,.9 .6,4.3 -3.5,.5 -.1,2 .9,1.3 -.2,1.4 0,3 2.9,1.3 .2,2.9 -1.4,3.3 2.4,.2 1.8,2.4 -1.1,3.4 1.2,1.3 1.5,2.8 -.1,.4 4.1-.6 -.2,1.3 3.9-.9 2.1-2.2 1.5,.3 4.5,1 -.1-1.4 4.5-.7 .9,1.8 1.9,.4 2.7-1.4 4,1.2 .2-4.6 -2.2-1.1 .3-3.5 2.4-2.6 -.6,0 -2-2.1 2-1.1 2.6-3.3 -1.4-1.3 -1.8-2.9 .4-.9 .7-1.6 -4.3,.8 -2.5-2.4 -2.3,.6 -.8-3.9 -.6-.1 -4.2,.9 -.9-1.4 -2.3-.1 .5-3 -3-.7 -3.7-.5 -1.6,.7 -2.1-1.2 .3-2.3 -4.2-.5z" fill="#00ffff"/><path d="M883.5,115.6l.9-1 -.1-2.7 -2.5,.6 -3.7-2.3 -2.2-1.3 -1.2,2.2 -1.2,1.5 -.6-2.2 -3.1-2.3 -1.9,1.1 -4.3,1.4 -.9-1.7 -3.1-2.1 1.2,3.9 2.2,1.2 -1.3,3.5 -1.2,2.8 1,1.4 -.2,1.5 -.6,1.8 1.6,.1 1.8,2.9 -1.5,1.2 1,3.6 4.2-.4 1.6,3.3 -1,.8 1.7,1.6 3.5-.3 .8-2 3.7,.7 .1-.2 2.6-2.3 2.8-.1 -.2,1.1 3.9-1.3 -2.4-3 -.4-1.3 .5-3.5 -1.9-.6 -.3-1.2 2-2.5z" fill="#00ffff"/><path d="M860.7,122.9l.6-1.8 .2-1.5 -1-1.4 1.2-2.8 1.3-3.5 -2.2-1.2 -1.2-3.9 .4-.2 0-2.9 -2.2,.6 -2.1-2.3 -.6,.7 -1.1,2.2 -3.3-1.6 -.6-.4 -2.7,2.9 -2.9,1.3 -1.1,.9 -3.3,2.8 2.5,.6 -2.8,1.8 .6,.2 -4.9,4.8 1.3,.4 -2.2,1 1.8,1.8 -.7,1.6 -.4,.9 1.8,2.9 1.4,1.3 -.1-1.9 3.5,.9 .6,.9 1.7-1.4 2.7-.4 -.2,1.7 4.2-.2 -.1-2 3.5,.1 2.1,.8 1.4-1.9 4.5-1.7z" fill="#00ccff"/><path d="M901.2,163.8l3.1,.3 1.1,1 4.4,.8 .7,.6 2.8,.1 3.1,1 1.3,.5 4.5-1.2 2,.1 2.8,3 -1.8-2 -2.6-2.8 .7-1.4 -.3-3 -1.6-2.9 1.3-1.4 .6-3.2 -2.3-2.2 .1-.9 1.1-2.8 -1.6-1.2 -.3-.8 1.2-2.9 -2.1-.9 -2.2-1.6 .8-3.6 -.9-1.2 -1.4-1.5 -3.4,.5 -.1-1.9 -.2-2.7 -2.9,2.4 -1.6,1.4 -1-.3 -2.5,1.1 -1.6,2.7 -3.4,.5 .1-1.1 -.5,2.5 .7,1.5 -.8,4.5 -.5,1.2 1.9,2.2 .3,2 -2.6-.6 0,4 2.6,.5 -.3,3.9 -2.1,3.1 .5,.4 2.4,3.1 .6,.4z" fill="#00ffff"/><path d="M937.9,169l-.5,2.7 -2.7,.3 -2.5-.7 -.7,4.4 -3.5,1.6 .8,2.2 -.8-.6 -.5,4.5 -1.7,1.4 -3,2.5 2.7-.9 -2.3,4.4 -1.2,1.6 -2.1,2.4 .5-.6 -.5,3.9 -1.4,2.2 -.3,.7 -.1,1.4 3.9,.1 1.8,.4 -.2,1.4 2.5,1.3 2.8,2.1 1.1,2.3 3.4-1.2 0-1 1.9,2.2 1.7,1.7 2-1.8 4.4-1.2 1.6,2.4 3.9,1.5 .3-2.3 1.9-1.2 1.3,2.5 1.7,1.1 4.1-2.3 .2-.1 1.6-5.3 -2-7 -10-10 -12-10 3-9z" fill="#00ccff"/><path d="M958.2,210.4l-4.1,2.3 -1.7-1.1 -1.3-2.5 -1.9,1.2 -.3,2.3 -3.9-1.5 -1.6-2.4 -4.4,1.2 -2,1.8 -1.7-1.7 -1.9-2.2 0,1 -3.4,1.2 -.6,.3 -.4,1.3 -.1,3.6 -.5,.8 -1.2,4.4 -.5,1.9 .2,0 -.2,2 -.7,1.8 .2,4.7 .6,1.1 -1,1.5 .6,1.9 2.2,.6 1,.3 1.7-1.2 3.1,.8 .5,1.9 2.6-1.1 .3-2.3 3.3,1 3.8,1.8 1.4-.7 3.6-.6 1.1,.9 3.3-.6 1.5-1.6 0,1.4 3.1,2.1 1.3-1.3 3.9-1.9 1.8,1 1.4,.6 -.3-3.4 -6-8 -4-10 1.4-4.7z" fill="#00ccff"/><path d="M904.6,224.4l-1.8,4.3 1,.9 .3,3.9 -1.8,2.6 -.6-.8 .9,3.3 -.2,.4 -.7,2.9 2.5,1.4 .9,1 -.8,2.8 1.6,.3 2.8,3.2 1.6,.7 3.8-.9 .1-2.9 3,0 2.7,.6 .2-2.3 4-.7 -1.7,0 .8-2.2 1.7-3.8 1.2-1.9 2.5-1.3 -2.2-.6 -.6-1.9 -2.2-.4 -.5-3.3 -4,1.8 -3-.1 -1-2 -1.5-1 -.4-2.1 -4.5,.7 -.8-.5 -2.2-.1 .4-2.1z" fill="#00ccff"/><path d="M839.7,260l1-.6 0,1.2 2.2,.7 2.6,2.1 2.2,1.8 .3,2.6 .7,.7 3.2-3 .6-.4 2.7,1.2 2.2-2.3 .7-2.5 3.4-.1 .7-1.6 2.8-1.6 3.1,1.3 1.1-.5 3.8-3.8 .7-1.4 1.4,.1 -2.3-.5 .8-3.8 2.3-2.9 -.9-1 -1.8-3.2 -2.1,.1 -.4,1.8 -2.4-.9 -.5-2.1 -4.2,.7 -1.5,2.1 -4.1-.9 -.8-2.5 -2.3,.3 -.9,1.6 -1.9-1.4 -2.9-2.5 -2,.6 -3.7,2.1 .3,.7 .2,2 -1.5,.3 -1.9,4.4 -1.8,1.6 .9,1.1 -.6,.4 -1.6,2.9 -2.1,2.7 -.3,0z" fill="#00ccff"/><path d="M874.6,244.1l-1.4-1.6 1.8,3.2 .9,1 -2.3,2.9 -.8,3.8 2.3,.5 0,3.5 1-.3 3.7,1.3 1.6,.5 -1.5,1.5 1.8,2.7 4.7-.4 .4,3.4 -1.9,1.4 3,3.2 4.4,.9 0-2.2 2.7-2.4 .5,.4 3.6,.1 .7-2 1.2-.6 2.3,1.3 -.1-2.7 -1-1.3 3.2-3.7 1.2-.3 -1.9-2.5 1.1-.3 1.7-4 1.2-.8 -2.8-3.2 -1.6-.3 .8-2.8 -.9-1 -2.5-1.4 -3.5,1.8 -1.2-1.9 -.6-2 -2.2,1.8 -.7,1.8 -4.7-1.8 -2.2-1.6 -3.7,1.4 -1.7,1.1 -.4-1.3 -2.2-.8 -.3,.7z" fill="#00ccff"/><path d="M924.1,246.9l-1.3,3 3.1,.4 2.1,2.5 -.2,2.4 2.8,.7 1.7,3.3 -1.7,1.7 1.7,1.1 3.6,3.2 0,.5 .8-.4 3.3,.1 .7,.3 3-.2 .5-2.2 2.1-.7 2.8-1.9 .9-2.8 3.9,.9 1.5,.4 2-3.4 3-1.8 .2,.7 2.6-1.9 .8-2 .7,.2 2.7-1.7 .1-1.9 .5,.1 0-4.5 -.7-6.6 -1.4-.6 -1.8-1 -3.9,1.9 -1.3,1.3 -3.1-2.1 0-1.4 -1.5,1.6 -3.3,.6 -1.1-.9 -3.6,.6 -1.4,.7 -3.8-1.8 -3.3-1 -.3,2.3 -2.6,1.1 -.5-1.9 -3.1-.8 -1.7,1.2 -1-.3 -2.5,1.3 -1.2,1.9 -1.7,3.8 -.8,2.2 1.7,0z" fill="#00ccff"/><path d="M920.1,245.8l-.2,2.3 -2.7-.6 -3,0 -.1,2.9 -3.8,.9 -1.6-.7 -1.2,.8 -1.7,4 -1.1,.3 1.9,2.5 -1.2,.3 -3.2,3.7 1,1.3 .1,2.7 2.4,.8 .2,1.1 2.3-1.8 1.2,3.3 3.8-.3 0,3.9 1.3-.4 3.9,.1 1.8,1 2.7,.8 .5-.6 .9-4 2.4-1.7 .2,.8 3.4-1.2 1.1-1 1.9,.6 2.6-1.9 0-.5 -3.6-3.2 -1.7-1.1 1.7-1.7 -1.7-3.3 -2.8-.7 .2-2.4 -2.1-2.5 -3.1-.4 1.3-3 0-1.8z" fill="#00ccff"/><path d="M967.5,247.4l-.1,1.9 -2.7,1.7 -.7-.2 -.8,2 -2.6,1.9 -.2-.7 -3,1.8 -2,3.4 -1.5-.4 -3.9-.9 -.9,2.8 -2.8,1.9 -2.1,.7 -.5,2.2 -3,.2 1.8,3 -.6,.2 1.3,1.5 2.2,3.2 -1.1-.2 -1.3,4.4 1.3,2.1 -.7,1.5 -1.3,4.6 2.1,0 1.6,2.6 -.8,2 1.2,0 1.6,2.8 .6,.4 -1.2,3 1.8,.7 2.2-.8 2.8-1 3.2,.8 .3,1.8 1.9-2.2 1.4-4.3 .3,1.3 2.7-.2 .1-4.2 3.5-.6 1.5-.1 2.1-3.9 -.2-.1 2-4 -1-6 -6-7 -3-7 5-7 0-5.5z" fill="#00ccff"/><path d="M853.3,277l.9,.7 .8,.6 2.9,2.3 1.4-.1 -.1,1.8 2.8,0 2.7,3.2 -.6,1.8 1.3,.8 4.1,4.1 .3-1.5 1.2-3.1 2.2-.3 .7-.8 3.7-2.5 .9,.5 1.2,1.2 2.8-2.4 1-1.8 3.9,0 .8-.6 .7-5.2 -1.4-1.7 .9-2.2 3.9-.2 -4.4-.9 -3-3.2 1.9-1.4 -.4-3.4 -4.7,.4 -1.8-2.7 1.5-1.5 -1.6-.5 -3.7-1.3 -1,.3 0-3.5 -1.4-.1 -.7,1.4 -3.8,3.8 -1.1,.5 -3.1-1.3 -2.8,1.6 -.7,1.6 -3.4,.1 -.7,2.5 -2.2,2.3 -2.7-1.2 -.6,.4 -3.2,3 2.2,1.7 -.4,3.5 .2-.9z" fill="#00ccff"/><path d="M901,264.9l-1.2,.6 -.7,2 -3.6-.1 -.5-.4 -2.7,2.4 0,2.2 -3.9,.2 -.9,2.2 1.4,1.7 -.7,5.2 -.8,.6 0,2.2 1.9,1.7 1.1,.3 1.5,3.2 2.7,.6 .4,1.9 -.5,2.4 2.2-.2 2,2.5 .5,.6 .5,.8 4.1,1.3 .3-1.6 3.2-1.2 3.3,1.1 .6-.7 4.9-2.1 .7,.5 2.7,1.3 3.4-1.1 -1.5-2.1 -1.7-3.1 .7-1.7 -1,0 -1-3.5 2.3-.1 .5-3 -2.2-3.2 .3-2.4 .9-2 -1.8-1 -3.9-.1 -1.3,.4 0-3.9 -3.8,.3 -1.2-3.3 -2.3,1.8 -.2-1.1 -2.4-.8z" fill="#00ccff"/><path d="M933.3,267.6l-1.9-.6 -1.1,1 -3.4,1.2 -.2-.8 -2.4,1.7 -.9,4 -.5,.6 -2.7-.8 -.9,2 -.3,2.4 2.2,3.2 -.5,3 -2.3,.1 1,3.5 1,0 -.7,1.7 1.7,3.1 1.5,2.1 0,1.1 1.1-.2 .9,.5 4.1-2 -.2-1 3.8,1.7 2.7,.1 .9-1.3 5,1.1 .6,1.2 2.9-1.8 3.3-1 -1.6-2.8 -1.2,0 .8-2 -1.6-2.6 -2.1,0 1.3-4.6 .7-1.5 -1.3-2.1 1.3-4.4 1.1,.2 -2.2-3.2 -1.3-1.5 .6-.2 -1.8-3 -.7-.3 -3.3-.1 -.8,.4z" fill="#00ccff"/><path d="M969.1,288l-1.5,.1 -3.5,.6 -.1,4.2 -2.7,.2 -.3-1.3 -1.4,4.3 -1.9,2.2 .7,1.4 1.5,1.1 2.3,3.3 -.1,.6 .3,2.1 2,2.7 -.3,.3 .4,2.8 3.6,1.8 1.2,.6 1-1.5 2.9,.9 -.2,2.1 2.8-1 3.5-2.3 2.1,.8 3.7,1.4 .8-.7 3.4-.1 .5,.3 .2-.9 0-7 -4-6 0-5 -3-6 -8-4 -3.8-1.9z" fill="#00ccff"/><path d="M868.9,291.2l-.6,.7 .2,2.8 1.3,2.4 2.5,.6 -.4,3.3 -.1,1.1 2.4,1.3 1.5,3 1,.3 2.4,2.5 .5,2.1 -.4,.5 2.3-1.3 1.3,.4 4.9,2.1 .7,0 3.3-2.2 1.5-.3 2.7,1.9 -.2-.4 -.1-4.9 -.5-1.2 3.4-2.6 1.2-.2 -2.9-3.6 2.4-2.8 -.5-.6 -2-2.5 -2.2,.2 .5-2.4 -.4-1.9 -2.7-.6 -1.5-3.2 -1.1-.3 -1.9-1.7 0-2.2 -3.9,0 -1,1.8 -2.8,2.4 -1.2-1.2 -.9-.5 -3.7,2.5 -.7,.8 -2.2,.3 -1.2,3.1 -.3,1.5z" fill="#00ccff"/><path d="M922.7,298.4l1.6,1.8 -.6,4.2 -2.2,.4 .9,2.9 2,.8 -.6,.9 -.4,2.3 1.3,1.6 1.5,1.4 -1,1.4 2.9,2.6 2.3,.5 2.9,.7 1.9-.3 -.8,.9 3.6,1.9 2.4,1.7 -1.5-1.4 2.2-4.3 0-1.5 2.2-1.8 .7,.9 -1.7-3.9 2.6-1.8 1.5-3.5 .5,.7 -.9-3.5 .8-1.8 4-3.8 -1.7,.7 .1-1.6 -1.8-.7 1.2-3 -.6-.4 -3.3,1 -2.9,1.8 -.6-1.2 -5-1.1 -.9,1.3 -2.7-.1 -3.8-1.7 .2,1 -4.1,2 -.9-.5 -1.1,.2z" fill="#00ccff"/><path d="M854.8,304.4l.5-1.4 3.9-.3 .3-1.5 1.8-1.7 -1.3-1.6 2.1-1 1.3-.3 3.7-2.4 1.2-2.3 .4-.5 -3.3-3.3 -1.3-.8 .6-1.8 -2.7-3.2 -2.8,0 .1-1.8 -1.4,.1 -2.9-2.3 -.8-.6 -.9-.7 -2.6-4.2 -1.2,1.5 .2,1.8 -2.7,2.9 -.1,1.4 -4.7-.1 .2,4.7 -1.1,1.3 .1-.8 -2.5,3.6 -.4,.7 -.8,3.1 -1.5,.8 4.8,2 .5,.3 -1.2,2.9 3.3-1.9 3.4,2.9 -.6,0 .9,2 3.8,1.9 1,2.7 -.4,1z" fill="#0099ff"/><path d="M852.8,308.8l2.3,3.6 -.7,.2 1.2,2.7 4.2,.6 .7,1.2 -1.7,2.9 2.2,.1 3.6,2.6 .4,.1 .4,.7 1.8,2.4 2.3-1.7 -.5,1 2.1-3.4 .4-2.5 4.6,1.3 .7-4 .5-2.7 1.1,0 .8-2.1 .4-.5 -.5-2.1 -2.4-2.5 -1-.3 -1.5-3 -2.4-1.3 .1-1.1 .4-3.3 -2.5-.6 -1.3-2.4 -.2-2.8 -1.2,2.3 -3.7,2.4 -1.3,.3 -2.1,1 1.3,1.6 -1.8,1.7 -.3,1.5 -3.9,.3 -.5,1.4 -3.1,3.1z" fill="#0099ff"/><path d="M919.5,296.1l-2.7-1.3 -.7-.5 -4.9,2.1 -.6,.7 -3.3-1.1 -3.2,1.2 -.3,1.6 -4.1-1.3 -.5-.8 -2.4,2.8 2.9,3.6 -1.2,.2 -3.4,2.6 .5,1.2 .1,4.9 .2,.4 -1.3,2.8 -.1,0 1.5,2.9 4-.4 1.4-2.5 2.9-.1 -.4,1.7 3.2,0 1.2-1 1.2,.7 2.9,.2 2.3-1.9 4.1-.7 .4,2.2 3.8,1 -.3-1.9 2-2.1 -1.3-1.6 .4-2.3 .6-.9 -2-.8 -.9-2.9 2.2-.4 .6-4.2 -1.6-1.8 .2-2.3 0-1.1z" fill="#0099ff"/><path d="M896.2,320.2l0,.2 1,2.2 -1.3,2.9 -1,1.7 3.5,1.1 3-.7 .8,2.7 2,1.8 -.3-.1 3.8,1 1.6-1.6 2.6,.8 .2-.8 3.9-2.6 -1.6-.5 3.5-1.9 1-.8 .1-5.1 -.7-.8 2.5-2.3 2.2-.1 -3.8-1 -.4-2.2 -4.1,.7 -2.3,1.9 -2.9-.2 -1.2-.7 -1.2,1 -3.2,0 .4-1.7 -2.9,.1 -1.4,2.5 -3.1,.3z" fill="#0066ff"/><path d="M922.7,315.4l.3,1.9 -2.2,.1 -2.5,2.3 .7,.8 -.1,5.1 -1,.8 -3.5,1.9 1.6,.5 1.6,1.2 1.9,1.2 .3,2.9 .1,.3 3.6,3.1 2.6-1.8 -1,2.6 1.8-1.6 1.3,.5 2.7-1.9 2.1-1.7 .4-2.8 .7-.5 2.3-4.5 2.5-1.1 1.4,.2 .1-.8 -2.4-1.7 -3.6-1.9 .8-.9 -1.9,.3 -2.9-.7 -2.3-.5 -2.9-2.6 1-1.4 -1.5-1.4z" fill="#0033ff"/><path d="M959.5,327.1l1.8-2.4 1.6-.2 2.5-1.7 -.7-2.5 .8-3.4 .8,1 3-2.9 -1.2-.6 -3.6-1.8 -.4-2.8 .3-.3 -2-2.7 -.3-2.1 .1-.6 -2.3-3.3 -1.5-1.1 -.7-1.4 -.3-1.8 -3.2-.8 -2.8,1 -2.2,.8 -.1,1.6 1.7-.7 -4,3.8 -.8,1.8 .9,3.5 -.5-.7 -1.5,3.5 -2.6,1.8 1.7,3.9 -.7-.9 -2.2,1.8 0,1.5 -2.2,4.3 1.5,1.4 -.1,.8 .2,1 2.3,.3 1.2,.1 4.1,.1 2,2.2 -.8,1.5 2.6,1.8 .8,0 -.7-.9 3-3 4.6,0z" fill="#0099ff"/><path d="M989.3,314.6l-3.4,.1 -.8,.7 -3.7-1.4 -2.1-.8 -3.5,2.3 -2.8,1 .2-2.1 -2.9-.9 -1,1.5 -3,2.9 -.8-1 -.8,3.4 .7,2.5 -2.5,1.7 -1.6,.2 -1.8,2.4 .1,.9 3.4,0 6,6 2,4 2,5 6,1 3-4 3-7 3-12 1.8-6.1z" fill="#0099ff"/><path d="M927,351.6l.4-.2 2,2.3 1.6-.7 2-2 5-3 7-4 7-4 3-5 -2.3-3.1 -.8,0 -2.6-1.8 .8-1.5 -2-2.2 -4.1-.1 -1.2-.1 -2.3-.3 -.2-1 -1.4-.2 -2.5,1.1 -2.3,4.5 -.7,.5 -.4,2.8 -2.1,1.7 -2.7,1.9 -1.3-.5 1.3,4.7 .3,1 -.6,3.6 1.1,2.5z" fill="#0099ff"/><path d="M927.4,351.4l-.4,.2 2-3.1 -1.1-2.5 .6-3.6 -.3-1 -1.3-4.7 -1.8,1.6 1-2.6 -2.6,1.8 -3.6-3.1 -.1-.3 -.3-2.9 -1.9-1.2 -1.6-1.2 -3.9,2.6 -.2,.8 -2.6-.8 -1.6,1.6 1.4,1 -1.5,4.4 .2,1.5 1.8,1.6 -1,2 .4,1.9 2.8,.5 -.5,2.3 -.8,3.1 3.1-.4 .1,3.1 .4,1.4 2.8,2.2 2.2,1 10.3-4.9z" fill="#0099ff"/><path d="M894.2,332.7l-3.3,2.3 .8,2.8 .9,.3 -1.7,2.5 -.7,.1 -.4,3.6 2,.5 1.6,3.7 -.6,.2 -.3,3.1 .6-2.2 3.8-.5 1.3,1.5 4.4,.5 .7-.8 1.6,.4 .5,1 2.2-.1 2.9-.3 .8-3.1 .5-2.3 -2.8-.5 -.4-1.9 1-2 -1.8-1.6 -.2-1.5 1.5-4.4 -1.4-1 -3.8-1 .3,.1 -2-1.8 -.8-2.7 -3,.7 -3.5-1.1 .7,2.6 -.6,.2z" fill="#0099ff"/><path d="M866.1,335.5l-.3,3.5 2.8,.4 2.8,2.4 -.4,1.3 .3,.1 4.1-1.5 1.5,.6 3.8,1.9 1.4-.3 1.9-1.7 1.5,.2 1.1,1.7 3.2,.2 .4-3.6 .7-.1 1.7-2.5 -.9-.3 -.8-2.8 3.3-2.3 1-3.2 -4.2,1.6 -1.8,1.1 -3.9-1.6 .3-1.7 -2.3,.7 .4,.8 -3.8-1.5 -1.8-1.5 -4.6,1.2 -1.2,1.7 -2.2-1.2 0-2.3 -1.8,0 -1.6,2.2 -3,3.6 2.3,1.2 0,.8z" fill="#0099ff"/><path d="M893.2,310.5l-1.5,.3 -3.3,2.2 -.7,0 -4.9-2.1 -1.3-.4 -2.3,1.3 -.8,2.1 -1.1,0 -.5,2.7 -.7,4 -4.6-1.3 -.4,2.5 -2.1,3.4 .5-1 -2.3,1.7 1.1,.9 1.8,0 0,2.3 2.2,1.2 1.2-1.7 4.6-1.2 1.8,1.5 3.8,1.5 -.4-.8 2.3-.7 -.3,1.7 3.9,1.6 1.8-1.1 4.2-1.6 -1.2,.9 1.6-.6 -.7-2.6 1-1.7 1.3-2.9 -1-2.2 0-.2 1.1-3.3 -1.3,1.2 -1.5-2.9 .1,0 1.3-2.8z" fill="#0099ff"/><path d="M850.8,308l.1,3.6 -3.1,2.1 -.7-1 -2.7,1.7 -2.8,3.2 -1.6,.6 2.5,1.8 -.5,1.1 -3.1,4 1.3,2.7 1.8,1.2 -2.8,3.4 2.6,.1 2.1-1.8 1.9-.3 3.2,2 1.5,.6 4.1-2.1 .4-.5 2.6,2.8 -.6,1.6 3-1.9 2.1-1.2 1.6,.9 3-3.6 1.6-2.2 -1.1-.9 -1.8-2.4 -.4-.7 -.4-.1 -3.6-2.6 -2.2-.1 1.7-2.9 -.7-1.2 -4.2-.6 -1.2-2.7 .7-.2 -2.3-3.6z" fill="#0099ff"/><path d="M834.1,338.5l-.9,2.1 2.9,.7 1,3.4 2.9,2.5 1.3,1.7 3.4,1.4 1.2,0 4,.9 -1.3-.4 2.9-2.2 1.7-1.7 2.5-2.2 .4-.2 2.4-.6 -.8-4.3 1-.4 1.6,.9 3.6-4 .5-1.7 1.6,.2 0-.8 -3.9-2.1 -2.1,1.2 -3,1.9 .6-1.6 -2.6-2.8 -.4,.5 -4.1,2.1 -1.5-.6 -3.2-2 -1.9,.3 -2.1,1.8 -2.6-.1 -1.4-1.1 -1.6,3.4 .8,2.8 -2.3-1.6z" fill="#0099ff"/><path d="M825.8,313.5l-.8,2.5 -3.2-.9 1.1,3.2 1.7,3 -2.6,3 -1.1,2.2 2.8-.3 .5,2.6 -.8-.2 .4,3.4 2.1,.6 3.9,1.8 -.7,1.4 1.3-2 2.3,2.3 2-.2 2.3,1.6 -.8-2.8 1.6-3.4 1.4,1.1 2.8-3.4 -1.8-1.2 -1.3-2.7 3.1-4 .5-1.1 -2.5-1.8 1.6-.6 -.2-2.5 -2.3-.9 -3-.7 -2.4,.8 -2.1,.4 .2-3.1 -2.5-.9 -1.1,1.2 -4.6-1.3z" fill="#0099ff"/><path d="M834.4,347.4l-2.2,1.5 -1.3,.7 .5,.8 -1,3.5 -1.5,1.2 -1.3-1.3 -1.9,3.2 -.4,.9 2.4,2.9 1.1,.3 .8,2 2.6,2.4 1,.2 0,2.9 1.7,1.4 .5,.9 -.6,3.2 4,.7 .2-.1 2.2-2.6 2-1.4 2.3,.6 1.7-1.1 .7-2.5 1.4,.1 -.2-2.3 -.1-1.7 1,.2 -.8-4.9 -.8-1.1 2.1-3.2 .9-3.3 -1.5-.3 -4-.9 -1.2,0 -3.4-1.4 -1.3-1.7 -3-2.6 .5,1.3z" fill="#0099ff"/><path d="M851.4,351.5l.9,3.4 1.4,1.1 1-2 2,.1 3.6,2.1 2.6,0 3.4-1.3 .5,.9 3.4-1.4 -.3,0 2-2.1 -2-2.9 .3-2.8 .5,.5 -.9-3.3 1.2-.7 .4-1.3 -2.8-2.4 -2.8-.4 .3-3.5 -.1-.9 -1.6-.2 -.5,1.7 -3.6,4 -1.6-.9 -1,.4 .8,4.3 -2.4,.6 -.4,.2 -2.5,2.2 -1.7,1.7 -2.9,2.2 1.3,.4z" fill="#0033ff"/><path d="M873.2,352.1l.4,1.6 2.1,1.9 1.5,1.4 3,2.2 2.5-1 -1.2,1.6 2.2-1.4 .3,.6 3.9-.7 .5-2.7 2.2-2.1 1.8,.8 -2.2-1.6 2.3-.9 .3-3.1 .6-.2 -1.6-3.7 -2-.5 -3.2-.2 -1.1-1.7 -1.5-.2 -1.9,1.7 -1.4,.3 -3.8-1.9 -1.5-.6 -4.1,1.5 -.3-.1 -1.2,.7 .9,3.3 -.5-.5 -.3,2.8 2,2.9z" fill="#0033ff"/><path d="M866.3,354.9l-3.4,1.3 -2.6,0 -3.6-2.1 -2-.1 -1,2 -1.4-1.1 -.9-3.4 -.9,3.3 -2.1,3.2 .8,1.1 .8,4.9 -1-.2 .1,1.7 .2,2.3 -1.4-.1 2.2,3.2 3.1,.8 2.8,2 2.4,1 .4-1.9 2.9-.5 .3-.3 2.2-2.3 .2-2.2 1.7,.8 -2.1-2.8 1.3,.6 2.3-4.3 -.2-.6 -1.1-4.3 .5-1.1z" fill="#0033ff"/><path d="M866.3,356.9l1.1,4.3 .2,.6 -2.3,4.3 -1.3-.6 2.1,2.8 2.3,.2 3.3,.1 .2,.1 2.2-.1 0,1.3 3.6,1.6 -.7-4.2 2-1.3 1.5-1.2 .7-3.1 .3-1.9 1.2-1.6 -2.5,1 -3-2.2 -1.5-1.4 -2.1-1.9 -.4-1.6 -1.3,.2 -2,2.1 .3,0 -3.4,1.4z" fill="#0066ff"/><path d="M881.9,381.9l.3-3.3 -2.9-1.1 .1-2.4 1.3-3.1 -3-.5 -3.6-1.6 0-1.3 -2.2,.1 -.2-.1 -3.3-.1 -2.3-.2 -1.7-.8 -.2,2.2 -2.2,2.3 -.3,.3 -2.9,.5 -.4,1.9 -1.6,2.8 2.3,.3 1.5,2.3 -1.1,3.2 1.5,1.3 1.3,2.6 -.2,1.2 4.5-1.9 5.7-1.4 5.7-3.6 3.6,1.3z" fill="#0066ff"/><path d="M879,366l-2,1.3 .7,4.2 3,.5 -1.3,3.1 -.1,2.4 2.9,1.1 -.3,3.3 -.3,.9 .6,.2 2.8,2.1 4.3-4.3 2.9-3.5 5.7-1.5 1.9-3.5 -1.7-.6 -2.8-3 1.3-2.3 -.4-.7 -2.9-3.1 .1-1.8 -1.1-.8 -3.9-3.1 0-1.3 -.5,2.7 -3.9,.7 -.3-.6 -2.2,1.4 -.3,1.9 -.7,3.1z" fill="#0099ff"/><path d="M862.3,387.2l-1.3-2.6 -1.5-1.3 1.1-3.2 -1.5-2.3 -2.3-.3 1.6-2.8 -2.4-1 -2.8-2 -3.1-.8 -2.2-3.2 -.7,2.5 -1.7,1.1 -2.3-.6 -2,1.4 -2.2,2.6 -.2,.1 -4-.7 .8,1 -.4,4.9 1.2,.5 -1.9,3.2 1.4,2.9 1.4-.1 -.8,2.1 1.5,3.5 .6,0 -.7,1.3 2.5,4 3.6-.1 1,2.6 .3,.8 .5-.3 -.6-1.8 -2.8-3.6 5,2.2 2.1,3.2 4,1 -.1,.6 .4-.6 3.5-7.8 4.3-5 .5-.2z" fill="#0099ff"/><path d="M916.9,357.6l-2.8-2.2 -.4-1.4 -.1-3.1 -3.1,.4 -2.9,.3 -2.2,.1 -.5-1 -1.6-.4 -.7,.8 -4.4-.5 -1.3-1.5 -3.8,.5 -.6,2.2 -2.3,.9 2.2,1.6 -1.8-.8 -2.2,2.1 0,1.3 3.9,3.1 1.1,.8 -.1,1.8 2.9,3.1 .4,.7 -1.3,2.3 2.8,3 1.7,.6 1.2-2.3 7-5 8-5 3.1-1.4z" fill="#0099ff"/><path d="M845.3,400.7l-.3-.8 -1-2.6 -3.6,.1 -.7,.9 -2.8,1.4 .8,.7 -2.8,1.5 -2.3,1.4 -2.5,2.7 0,1.3 -1.2-.5 -.9,3.3 -.9,2.8 -1.4-1.6 -2.7,2 -2.6,3.8 .3,1 2.2,.9 -1.3,2.4 1,1.9 4.1,.7 1.9,.7 -.7,1.9 1.3-.3 2-.8 .9,.8 2.3,0 -.1-1 3.3-2.3 1.2-.4 2.6-.7 3-1.9 .8-.8 3.1-1.6 -.2-3 1.9-.4 .8,.8 .2-.6 -.1-.1 -3.5-2.9 -1.1-4.3 .3-4.2 -.8-2.5zM853.5,401.4l-4-1 .7,1 1.4,2.9 1.8-2.3z" fill="#0099ff"/><path d="M815.3,379.8l2.5,1 1.5,.2 2.3-2 2.7,0 .9,1.5 4.1-1 .5-1.3 3.8,1.3 1.6,.5 .4-4.9 -.8-1 .6-3.2 -.5-.9 -1.7-1.4 0-2.9 -1-.2 -2.6-2.4 -.8-2 -1.1-.3 -2.4-2.9 .4-.9 -2.2,.4 -.8-1.3 -1.6-.9 -2.1,1.7 -1.7,2.3 -2-.2 -2.2-1.1 -.5,1.8 -2.9,3.7 -.5-.1 -.9,.6 .2,1.1 -.7,4.7 -.9,.7 .8,4.1 .3,.7 1.3,1.8 .8,1.6 2,1.3 1.1,2.6 .3-1z" fill="#00ccff"/><path d="M811.8,399.6l3.1,2.9 -.4,.5 1.1,2.6 3,2.3 -1,.5 -.7,3.1 3.3,1.6 .9,.8 -.7,3.2 2.6-3.8 2.7-2 1.4,1.6 .9-2.8 .9-3.3 1.2,.5 0-1.3 2.5-2.7 2.3-1.4 2.8-1.5 -.8-.7 -1.8-.5 -3.8-2.8 .3-.1 -2.3,1.4 .3-1.4 -4.1-1.1 -1.5,0 -3.6-1.9 -1.8,1.8 -1.1-2.2 -3.4-2.7 -.8,2.9 .6,2.8 -4.3,1.6z" fill="#00ccff"/><path d="M713.9,258.6l1.2,1 1.3,.6 2.7,3.2 .7,.5 .6,1.8 2.4,1.9 .5-.4 3.9-1.1 .8,.7 1.4-2 -.9,.4 4.1-4.9 .2-.9 1.4-2 -1,.2 .8-3.3 .6-.8 -2.5-2.1 -.8-4.3 .4-.7 -2.1-1.8 -.4-3.6 1.6,1 -2.1-3.1 -3.9,2.2 -.9-.8 -3.3-3.6 -2.7,2.6 -.5-.5 -3.9-3.3 -.1,.3 -.3,3.3 -3,4.5 1,.4 2.4,2.6 -2.1,.7 -1.8,1.7 2.3,2.9 .3,2.5 -.2,2.9z" fill="#0066ff"/><path d="M729.6,244.6l2.1,1.8 -.4,.7 .8,4.3 2.5,2.1 -.6,.8 -.8,3.3 3.4-2.2 1.1-.8 3.7,1 1.9-.7 2.9-1.5 1.6,1.2 2.6,1.6 1.6-1.2 .9-1 2.4-1.9 -1-3.7 2.7-1.3 -.8-2.3 -3.3,.4 -1.8-.8 -.2-.7 -1.1-1.9 -1.4-1.1 -2.3-3.2 -4.1,.5 -.1,2.1 -3.4-.2 -1.2-1 -2,1.6 -2.3,1.5 -1.1-1 -2.7,0z" fill="#0033ff"/><path d="M772.4,220.7l-1.1,.2 -3.2-.9 -.2,1 -1.8,2.1 -3.2,4.2 1.9-.7 0,2 -2,1.2 -1.1,3.9 -.8,2 1.7,1 -1.5,1.8 -3.7,1.6 2.1,3.8 .8,.3 -3.3,2.6 2.5,.7 .3-.6 4.4,.2 1.5,1 4,1 .2,.8 2.5-.2 .9-1.2 3.4,.8 2.7,2.2 1.5-2.4 -.5-1.8 .9-1.1 2.2-1.4 -1.4-1.1 -1.8-2 2.1-4.4 1.4-.8 -2.3-3.4 -.4-1.1 .5-.5 -.2-3.3 -2.4-.8 -.6-2.6 -.8-2.7 -3.1-.5 -1.1-2.3z" fill="#0099ff"/><path d="M785.1,249.2l.5,1.7 1.9,1.1 .1,.3 2.6-1.4 3.5,2.4 .8,1.4 1.9,.6 -.6,2 4.1-2.4 1.4-.4 2.9,1.1 .7-.7 1.6-1.6 -.5-1.4 3.8-.9 .8-.9 3.4-2.7 -.4-1.6 -1.7,.6 .3-2.5 2.3-3 -1.4-.2 -2-2.7 .1-.9 -.7-2.1 -2.9-1.6 -.7-1.4 -3.8-1.3 -1.1,1.9 -2.3,1.6 -.7-1.7 -1.1-1.3 -4.1,1.1 -1.1,.3 -3.5-.9 -1.9,1 -3.3,1.1 -2.9-1.8 .4,1.1 2.3,3.4 -1.4,.8 -2.1,4.4 1.8,2 1.4,1.1 -2.2,1.4 -.9,1.1z" fill="#00ccff"/><path d="M818.7,248.6l3,1.6 2.4-.5 2.1,3.2 -.6,1.1 3.6-1.1 1.7,.8 3.6,.3 .2,2.4 .7,1.2 2.1-2.7 1.6-2.9 .6-.4 -.9-1.1 1.8-1.6 1.9-4.4 1.5-.3 -.2-2 -.3-.7 1.9-3.3 1.1-3.1 -1.7-.8 -.4-4.4 .6,.8 -1.9-2.8 -1.1-1 2-1.1 -2-.5 -3,.5 -.3,2.1 -3.5-.7 -2.9-.4 -.6,2.9 -3.1,1.5 -1.2,.1 -2.9,2.4 -2.5,1.3 .1-1.8 -3.3,.4 -1.8,2.2 -1.4-.1 -2.3,1.5 -.2,3.5 1.4,.2 -2.3,3 -.3,2.5 1.7-.6 2.2,3.3z" fill="#00ccff"/><path d="M688.2,263.1l4-.5 .1-1.8 2.9,.8 2,.1 2.1-2.8 2.2-1.2 .8,.4 4.2-2.2 .4-2.1 1.8,.8 3.5-.2 -.3-2.5 -2.3-2.9 1.8-1.7 2.1-.7 -2.4-2.6 -1-.4 3-4.5 .3-3.3 -4.5,.5 -.9,2.2 -2.9-1.4 .8-2.5 -2.9,1.1 -.7,1 -4.6-2.5 .2,1.4 -2.4,2.3 -1.9,2 -1.5,1 -3.2,1 -.1,1.7 -3,1.2 0,.7 -1.8,2.3 -1.4,2.6 -.5,.9 .9,2.5 1.9,.6 -1.3,2 .1,3.3 3,0 0,1.6 -.1,.2z" fill="#0099ff"/><path d="M687.9,265.4l3.6,.9 .2,2.7 -1.6,1.9 2.7,.5 3.7,3.2 0,.4 .1,2.9 2,1.9 .8,.6 3.4-1.9 1-.4 2-1.1 1.2-3.1 .4-1.3 1.9,.9 -.3-1.9 3-3.5 .3,.2 3.6,1.4 1.2-2.8 2.7-3 -.7-.5 -2.7-3.2 -1.3-.6 -1.2-1 -1.9-1.3 .2-2.9 -3.5,.2 -1.8-.8 -.4,2.1 -4.2,2.2 -.8-.4 -2.2,1.2 -2.1,2.8 -2-.1 -2.9-.8 -.1,1.8 -4,.5 -1.6-1.6z" fill="#00ccff"/><path d="M755.7,271.8l.8-3.5 .9-1.2 -1.2-4.1 -1.8-1.4 1.2-.8 -1-3.3 -2.9-1.9 1.2-1.6 -.9,1 -1.6,1.2 -2.6-1.6 -1.6-1.2 -2.9,1.5 -1.9,.7 -3.7-1 -1.1,.8 -3.4,2.2 1-.2 -1.4,2 -.2,.9 -4.1,4.9 .9-.4 -1.4,2 1.3,.4 -.8,3.4 1.3,1.6 1.7,1.4 -.7,3 3.1,1 1.9,.3 1-2.3 3.4-.7 1.1,.8 2.7-2 2.6-1.8 1.8,1 2.7-.2 2.9-2 1.1,.7z" fill="#0099ff"/><path d="M752.9,254l-1.2,1.6 2.9,1.9 1,3.3 -1.2,.8 1.8,1.4 1.2,4.1 2.9-1 1.4,.8 1.4-1.3 2.4-1.8 1.6,1.3 3.2,1.2 1.5-1.3 3.5,.1 -1.1-2.4 2.8-.4 -.3-2.6 -1.1-4.1 1.9-.7 1.3-2.7 .6-.7 -2.7-2.2 -3.4-.8 -.9,1.2 -2.5,.2 -.2-.8 -4-1 -1.5-1 -4.4-.2 -.3,.6 -2.5-.7 0,.3 -2.7,1.3 1,3.7z" fill="#00ccff"/><path d="M763.9,285.5l.4,1.6 2-.9 .6-.1 2.5,.5 3,1 1.7,1.9 .4,.1 .7-3.5 -2.7-2.6 3-1.6 2.7,0 -2.2-1.7 1-3.1 1.2-3.3 .4-1.1 2.3-.1 -3.8-2.2 -1.2-1.2 .7-3.5 -1.3-.6 -3.5-.1 -1.5,1.3 -3.2-1.2 -1.6-1.3 -2.4,1.8 -1.4,1.3 -1.4-.8 -2.9,1 -.9,1.2 -.8,3.5 -.6-.4 1.6,2.2 -1.2,2.4 1.6,1.1 1.5,2.9 -.5,2.5 1.5,.2z" fill="#00ccff"/><path d="M781.5,272.3l4.2-1.6 .5,.6 1.5,2.3 1.3-.3 3.1-4.4 .4-1 2.2,.1 -2-3.1 2.7-1.8 .5-3.1 3.5,.9 0-2.3 .5-3.7 -4.1,2.4 .6-2 -1.9-.6 -.8-1.4 -3.5-2.4 -2.6,1.4 -.1-.3 -1.9-1.1 -.5-1.7 -4.7-1.9 .5,1.8 -1.5,2.4 -.6,.7 -1.3,2.7 -1.9,.7 1.1,4.1 .3,2.6 -2.8,.4 1.1,2.4 1.3,.6 -.7,3.5 1.2,1.2 3.8,2.2z" fill="#0099ff"/><path d="M790.7,273.7l3.3,1.9 .2,1.7 -1,.2 1.7,2.8 1.4-.3 3.8-.6 .7,1.1 1.7-1 3-2.1 0,.2 3.5,.8 .6-1.7 2.6-1.5 -.3-1.4 -1.9-.7 .7-2.8 .2-1 -3-1.8 -.9-1.7 .9-.8 -1.6-3.4 -.9-1.3 1.2-.9 -1.7-4.5 -.7,.7 -2.9-1.1 -1.4,.4 -.5,3.7 0,2.3 -3.5-.9 -.5,3.1 -2.7,1.8 2,3.1 -2.2-.1 -.4,1 -3.1,4.4z" fill="#0099ff"/><path d="M813.6,245.8l.4,1.6 -3.4,2.7 -.8,.9 -3.8,.9 .5,1.4 -1.6,1.6 1.7,4.5 -1.2,.9 .9,1.3 1.6,3.4 -.9,.8 .9,1.7 3,1.8 -.2,1 -.7,2.8 1.9,.7 .3,1.4 -1.1,2.5 1.4,1.9 4,.3 .4-1.7 3.2-1.5 1.4,1.4 .4-.2 2.6-4.3 .5-1.3 4,.3 -.9-3.2 1.4-1.8 -.3-2.7 2.3,.9 2.6-3.2 .6-3.2 1.1,.1 -.7-1.9 .3,0 -.7-1.2 -.2-2.4 -3.6-.3 -1.7-.8 -3.6,1.1 .6-1.1 -2.1-3.2 -2.4,.5 -3-1.6 -2.9,.5z" fill="#0099ff"/><path d="M825.3,276.4l3,2.3 -.9,0 2,2 4,2.9 -.1,.6 1,3.6 3.5-1.5 1.1,2.8 2.5-3.6 -.1,.8 1.1-1.3 -.2-4.7 4.7,.1 .1-1.4 2.7-2.9 -.2-1.8 1.1-1.4 .3-2.7 -2.2-1.7 -.7-.7 -.3-2.6 -2.2-1.8 -2.6-2.1 -2.2-.7 0-1.2 -1,.6 -4.6-2.4 .7,1.9 -1.1-.1 -.6,3.2 -2.6,3.2 -2.3-.9 .3,2.7 -1.4,1.8 .9,3.2 -4-.3 -.5,1.3 -2.6,4.3z" fill="#0099ff"/><path d="M699.9,289.6l3.5-1.1 2.9,1.5 .7-.7 1.8,1.2 1.1,1.9 2.3,.8 .2-2.5 3-1.8 1,.5 3.1-1.7 3-2.2 .4,.9 3.2-.2 1.3-2.7 2.9-.5 3.1,.1 -.6-2 -2.9-4 .9-.5 .7-3 -1.7-1.4 -1.3-1.6 .8-3.4 -1.3-.4 -.8-.7 -3.9,1.1 -.5,.4 -2.4-1.9 -.6-1.8 -2.7,3 -1.2,2.8 -3.6-1.4 -.3-.2 -3,3.5 .3,1.9 -1.9-.9 -.4,1.3 -1.2,3.1 -2,1.1 -1,.4 -3.4,1.9 -1.3,2.5 1.1,.4 1.5,3.1z" fill="#00ccff"/><path d="M758.1,282.5l.5-2.5 -1.5-2.9 -1.6-1.1 1.2-2.4 -1.6-2.2 -1.1-.7 -2.9,2 -2.7,.2 -1.8-1 -2.6,1.8 -2.7,2 -1.1-.8 -3.4,.7 -1,2.3 -1.9-.3 -3.1-1 -.9,.5 2.9,4 .6,2 -1.2,2.4 1.2,2.3 2.7,.2 -1.4,2.7 .7,1.4 4.3,.4 1.7,1.2 -.1-.2 3,1.4 1.6,3.6 4.3-2.1 -.6-1.3 1.4-1 -.4-.8 2.8-2.2 2.9-3 1.4-.1 2.3-1.6 -.4-3.7z" fill="#0099ff"/><path d="M778.6,272.7l-.4,1.1 -1.2,3.3 -1,3.1 2.2,1.7 -2.7,0 -3,1.6 2.7,2.6 -.7,3.5 1.9-.4 -.2-1.6 2.1,1.6 .9,2.5 4.5-.7 1.5-.8 3.7,1.4 -.5,.7 2.7,0 .3,1.5 1.9-3 1.6-2.3 -.5-.8 1.1-2.1 -.2-1.5 1-4.1 -1.4,.3 -1.7-2.8 1-.2 -.2-1.7 -3.3-1.9 -1.7-.4 -1.3,.3 -1.5-2.3 -.5-.6 -4.2,1.6 -.6,.3z" fill="#0099ff"/><path d="M816.7,291.3l1-4.6 -1.8-1.4 -1.1-1.2 2.1-1.5 -.4-2.7 -4-.3 -1.4-1.9 1.1-2.5 -2.6,1.5 -.6,1.7 -3.5-.8 0-.2 -3,2.1 -1.7,1 -.7-1.1 -3.8,.6 -1,4.1 .2,1.5 -1.1,2.1 .5,.8 -1.6,2.3 -1.9,3 1.9,1.2 1.2,1.3 -.5,1.8 1.1-1.4 1.8,2.2 .8-.7 2.9,1.1 1.8-1.3 1.4-2.2 3.3,.4 .4-.1 3.5-2.6 1.3-.9 1.7,.9 3.3-1.5z" fill="#0099ff"/><path d="M827.1,300.8l.5-2.3 3.8-2.1 1.3,.1 1.1-2.1 2.3-1.9 .1,1.2 1.5-.8 .8-3.1 .4-.7 -1.1-2.8 -3.5,1.5 -1-3.6 .1-.6 -4-2.9 -2-2 .9,0 -3-2.3 -3.4,1.5 -.4,.2 -1.4-1.4 -3.2,1.5 -.4,1.7 .4,2.7 -2.1,1.5 1.1,1.2 1.8,1.4 -1,4.6 .6,.7 1.6,2.3 -.3,.7 1.4,.7 3.9,1.6 1.4,2z" fill="#00ccff"/><path d="M760,286.4l-2.3,1.6 -1.4,.1 -2.9,3 -2.8,2.2 .4,.8 -1.4,1 .6,1.3 -.7,3 -.6,.5 2,3.7 .9,1.3 -1,1.9 1.3,2 1.5-1.5 3.5-.6 1.8,1.2 2.1-.9 3.3-2.3 -.1,.2 3.9,1.2 -.1-.9 2.3-.9 .7-1.3 .1-1.7 -.5-.1 .8-4.6 1.1-3.7 -.5-.2 .3-2.2 1.8-1 -1.7-1.9 -3-1 -2.5-.5 -.6,.1 -2,.9 -.4-1.6 -4.3-2.8z" fill="#0099ff"/><path d="M735.4,292.1l-.7-1.4 1.4-2.7 -2.7-.2 -1.2-2.3 1.2-2.4 -3.1-.1 -2.9,.5 -1.3,2.7 -3.2,.2 -.4-.9 -3,2.2 -3.1,1.7 -1-.5 -3,1.8 -.2,2.5 -2.3-.8 2.7,1.4 .1,1.6 -1.2,2.3 1.6,1 1,3.4 -1.2,2.1 1.3,.9 2,4.5 -1.3,1.4 -.6,1 1.7-2 3-.8 .5,1.2 3.2-.6 .9-2 2.7-.1 -.3,1 3-3.6 .3-1.8 4-1.3 -1.1-.8 1-.8 .6-4.4 1.5,0 2.6,0 1.8-3.5z" fill="#0066ff"/><path d="M679,306.7l-.6,1.6 1.5,3.4 2.6,.6 1,1.9 1.5,2.8 1.6,.3 2.5,.2 1.6-.3 1.3,.9 0,.6 3.6-1 1.4-.3 4,1.7 .6,.5 4-2.2 1.4-1.3 2.4,2.2 1-1.2 1.9-1.7 0-1.3 1.6-.9 .1-1 .3-.2 .6-1 1.3-1.4 -2-4.5 -1.3-.9 1.2-2.1 -1-3.4 -1.6-1 1.2-2.3 -.1-1.6 -2.7-1.4 -1.1-1.9 -1.8-1.2 -.7,.7 -2.9-1.5 -3.5,1.1 .9-3.8 -3.6,.1 -.7,3.8 -3.2,2.1 -.8-1.3 -1,1.8 -2.1,3.4 .2-.7 -3.1-.4 -1,3.5 -2.4,2.3 -3.2-.1 -.9,1.4 -3.5,1.1 2.4,2.4z" fill="#0099ff"/><path d="M728.3,311.1l3,.8 .5-.4 1.3,1.5 4.1-1.5 .6,4.4 1.9,.1 -.2,1.4 3.9-2.3 4.1,1 1.2-1.7 1.5-3.8 1.2,.3 .8-1 -.1-1.1 -1.3-2 1-1.9 -.9-1.3 -2-3.7 .6-.5 .7-3 -4.3,2.1 -1.6-3.6 -3-1.4 .1,.2 -1.7-1.2 -1.8,3.5 -2.6,0 -1.5,0 -.6,4.4 -1,.8 1.1,.8 -4,1.3 -.3,1.8 -2.5,3z" fill="#00ccff"/><path d="M772.3,290.5l-.3,2.2 .5,.2 -1.1,3.7 -.8,4.6 .5,.1 -.1,1.7 -.7,1.3 -.7,1.8 2.7,2.2 2.7,.7 .4,2.2 .5,.9 1.2,.4 1.1-3.3 3.8-1.3 .9,.5 3.5-3 .9-3 1,.6 1.9-.8 -.2-2.8 3.2-.6 .8-.7 .5-1.8 -1.2-1.3 -1.9-1.2 -.3-1.5 -2.7,0 .5-.7 -3.7-1.4 -1.5,.8 -4.5,.7 -.9-2.5 -2.1-1.6 .2,1.6 -1.9,.4 -.4-.1z" fill="#00ccff"/><path d="M824,307.1l-.8-4.8 1-.6 1.1-2.4 -1.4-2 -3.9-1.6 -1.4-.7 .3-.7 -1.6-2.3 -3.3,1.5 -1.7-.9 -1.3,.9 -3.5,2.6 -.4,.1 -3.3-.4 -1.4,2.2 -1.8,1.3 -2.9-1.1 -.8,.7 2,.3 0,3.8 .1,2.9 2.6,.9 -.1,3 -1.5,1.9 2.2,1.9 1.6,2.9 .2-1.2 3-1.7 1.5,.9 1.6,.1 2.6-2.3 1-.6 2.7,.9 1.2-1.5 2.4-2.2 1.5,.6 2.1-.1z" fill="#0099ff"/><path d="M828.2,311.9l1.1-1.2 2.5,.9 -.2,3.1 2.1-.4 2.4-.8 3,.7 2.3,.9 .2,2.5 2.8-3.2 2.7-1.7 .7,1 3.1-2.1 -.1-3.6 2,.8 -1.1-1.3 .4-1 -1-2.7 -3.8-1.9 -.9-2 .6,0 -3.4-2.9 -3.3,1.9 1.2-2.9 -.5-.3 -4.8-2 -.1-1.2 -2.3,1.9 -1.1,2.1 -1.3-.1 -3.8,2.1 -.5,2.3 -1.8-1.5 -1.1,2.4 -1,.6 .8,4.8 -.4,2.3 -.6,.6 .6,.6z" fill="#0099ff"/><path d="M739.7,316l-1.9-.1 -.6-4.4 -4.1,1.5 -1.3-1.5 -.5,.4 -3-.8 -2-3.4 -2.7,.1 -.9,2 -3.2,.6 -.5-1.2 -3,.8 -1.7,2 -.3,.2 3.9,2.8 1.1,.2 -.7,1.7 2.5-.1 3.1,1.6 .1,3.1 .5,.1 3,3.3 1.7,1.3 .2,3 1.9,.3 2.1,.9 2.2-2.4 -2-2.9 2.6,1.3 -.5-3.4 4.8-2 -1.5-2.5 2.2,.2 -1.7-1.3z" fill="#00ccff"/><path d="M768,305.2l.1,.9 -3.9-1.2 .1-.2 -3.3,2.3 -2.1,.9 -1.8-1.2 -3.5,.6 -1.5,1.5 .1,1.1 -.8,1 -1.2-.3 -1.5,3.8 3.5,.5 1.2,3.1 -1-1.1 3.5,4.2 1.9-.2 2.5,2.1 .8-.4 1.7-.3 4.4,2 1,2 1.9,1.6 -.9-1.5 4-.8 .5-1.4 2-.3 .5-1.3 -1.4-4.8 3-.4 1.2-2 -.7-.3 -2.4-3 -.5-.9 -.4-2.2 -2.7-.7 -2.7-2.2 .7-1.8z" fill="#00ccff"/><path d="M793.2,298.8l-3.2,.6 .2,2.8 -1.9,.8 -1-.6 -.9,3 -3.5,3 -.9-.5 -3.8,1.3 -1.1,3.3 -1.2-.4 2.4,3 .7,.3 -1.2,2 .3,.6 4.2,.6 1.4,.3 3.5,.1 .7,1.1 1.7,1.3 1.7-.7 2.4-1.3 4,1.3 2,1.7 1.2-4.3 -.6,0 -.8-1.9 4.3,.3 -1.6-2.9 -2.2-1.9 1.5-1.9 .1-3 -2.6-.9 -.1-2.9 0-3.8 -2-.3 -1.8-2.2 -1.1,1.4z" fill="#00ccff"/><path d="M822,324.3l2.6-3 -1.7-3 -1.1-3.2 3.2,.9 .8-2.5 -2.2-2.9 -.6-.6 .6-.6 -2.1,.1 -1.5-.6 -2.4,2.2 -1.2,1.5 -2.7-.9 -1,.6 -2.6,2.3 -1.6-.1 -1.5-.9 -3,1.7 -.2,1.2 -4.3-.3 .8,1.9 .6,0 2,2.4 2.4,1.5 .2,.3 2.3,1 2.8-1.1 3.2,1.4 1.6,2.3 .6-.7 1.7,1.1 2.3,.2 1-.1z" fill="#0099ff"/><path d="M709.2,335.8l-.3-2.5 1-3 -1.3-2.1 -.1-2.4 2.3-2.9 -.4-.7 -1.7-2.4 .7-1.5 -2.4-2.2 -1.4,1.3 -4,2.2 -.6-.5 -4-1.7 -1.4,.3 -3.6,1 0-.6 -1.3-.9 -1.6,.3 -2.5-.2 -.5,2.3 -2.8,1.3 1.7,1.7 .6,4 -3.8,.8 -.3,3.1 1.8,.6 -1.3,2 -.9,3.4 1.2-.3 4-.6 1.5,3.2 3.1,1.1 -.9-.7 2.4-1.2 1,1.3 2.7,1 1.6-1.6 2.4-.7 2.5,1.2 1.9-.6 3-2.3 1.7-.1 2.9,1z" fill="#00ccff"/><path d="M731.3,329.5l-1.9-.3 -.2-3 -1.7-1.3 -3-3.3 -.5-.1 -.1-3.1 -3.1-1.6 -2.5,.1 .7-1.7 -1.1-.2 -3.9-2.8 -.1,1 -1.6,.9 0,1.3 -1.9,1.7 -1,1.2 -.7,1.5 1.7,2.4 .4,.7 -2.3,2.9 .1,2.4 1.3,2.1 -1,3 .3,2.5 2.9,1.4 .8,.3 1.4,0 .8-.8 1.3,0 1.2,1.1 3.8,.7 2.1,0 4.2,.3 .3,.8 2.6,.1 -.6-.7 3.3-.1 .9-1 -.5-.8 -2.3-2.5 .1-.6 1.9-3.6z" fill="#00ccff"/><path d="M749,341.4l.4,0 3.7,1.5 .8-1.6 1.8-1.6 1.9,0 .6-2.4 4-3.1 1.5,.7 2.7,.8 2.2-1.8 .5-.4 3.7,0 -1.3-2.8 -1.6-3 -1.7-1.4 -1-2 -4.4-2 -1.7,.3 -.8,.4 -2.5-2.1 -1.9,.2 -2.6-3.1 -2.7,3 -.1,1.9 1.5,1.9 -1.8,.4 -2,2.9 2.1,.6 1.2,4.6 -2.9,2.6 -.8-.2 2,2.3 -1.3,.9 -3,3.9z" fill="#00ccff"/><path d="M771.5,330.7l1.3,2.8 -.4,.3 1.1,2.6 2,.2 1.2,1.8 2,2.7 1.7,.1 -.4,2.5 .9,.8 3.2,1.7 .7-.2 2.2,.2 -.3-3.8 3.2-.8 1.6,1.1 2.5-3.7 3.3-3.2 .4,1.2 2.7-1 -2.4-4.3 -.2-1.1 1.9-2.3 .1-1.3 -.8-.6 .8-2.2 -.1-1.8 -2-1.7 -4-1.3 -2.4,1.3 -1.7,.7 -1.7-1.3 -.7-1.1 -3.5-.1 -1.4-.3 -4.2-.6 -.3-.6 -3,.4 1.4,4.8 -.5,1.3 -2,.3 -.5,1.4 -4,.8z" fill="#00ccff"/><path d="M823.4,328.6l.8,.2 -.5-2.6 -3.7,.3 -2.3-.2 -1.7-1.1 -.6,.7 -1.6-2.3 -3.2-1.4 -2.8,1.1 -2.3-1 -.2-.3 -2.4-1.5 -2-2.4 -1.2,4.3 .1,1.8 -.8,2.2 .8,.6 -.1,1.3 -1.9,2.3 .2,1.1 2.4,4.3 .7-2 2.2,3 0,.7 3.4,1.9 2.6,1.7 0-2.4 3-1.1 1.9,1.7 1.5-.9 2.7-3.1 .1-.5 2.9,0 -.1-2 2.5-1z" fill="#0099ff"/><path d="M644.2,249.8l-3.9,1.2 -1,1 -2.4,3 3.6,1.6 0,2.9 -.4,.3 3.6,2.1 1.3,2.8 -.9,.5 2,2.9 1.5,2.5 -.7,.8 1.1,3.3 1.1,1.9 4.2-2.4 -.4-1.4 3.6,.8 1.6-1.5 .7-1.9 -2.8-3.5 1.7-.3 2.5-2.1 -2.2-2.9 .4-1.4 3.5-4.2 -.9-1.1 -1-.8 2.7-3 -3.1-.2 -.6-.9 -4-.6 -.8,.5 -3.8,.7 -.5-.8 -3.4-1.9 .1-.4 -2.8,1.5z" fill="#0033ff"/><path d="M636.6,253.5l-3-.5 -.5,1.7 -2.5,.3 -2-2.6 -1.8-1.1 .6,3.7 -1.8,1.7 .5,3.1 .8,3.1 -1,0 .9,3 2.2,.4 -1.5,1.5 -1.8,3.2 1.4,2 .5,2.6 -1,4 1.2-.2 0,.1 1.8-.1 3.5-.8 .2,1 3.5,1.1 .7-1.3 .9-1.5 2.1,1.5 1.9,2.2 2.3-.6 .2-4.3 3.8,.4 .4-.5 -1.1-1.9 -1.1-3.3 .7-.8 -1.5-2.5 -2-2.9 .9-.5 -1.3-2.8 -3.6-2.1 .4-.3 0-2.9 -3.6-1.6z" fill="#0066ff"/><path d="M686.7,259.7l-3,0 -.1-3.3 1.3-2 -1.9-.6 -.9-2.5 .5-.9 -2.8-3.3 -1.8-.1 -2.2-2.3 .9,1.8 -3.8-2.2 -3.7-.3 -.6-.9 -.3,1.1 -1.5,3.1 0,.8 -3.3,.2 -.8,2.6 -2.7,3 1,.8 .9,1.1 -3.5,4.2 -.4,1.4 2.2,2.9 -2.5,2.1 -1.7,.3 2.8,3.5 -.7,1.9 .9,.5 1.9,.1 1.8,2 4.3,1 1.6-2.4 3.2,0 .5,.7 3.2-.7 .2-2 1.8-.5 1-1 .6-2.1 2.6-.5 .4-.6 3.7-3.4 .9-1.9z" fill="#0066ff"/><path d="M679,301.7l.9-1.4 3.2,.1 2.4-2.3 1-3.5 3.1,.4 -.2,.7 2.1-3.4 1-1.8 .8,1.3 3.2-2.1 .7-3.8 3.2-.1 -1.2-2.5 -1.1-.4 1.3-2.5 -.8-.6 -2-1.9 -.1-2.9 0-.4 -3.7-3.2 -2.7-.5 1.6-1.9 -.2-2.7 -3.6-.9 -1.3-3.9 -.8,1.7 -3.7,3.4 -.4,.6 -2.6,.5 -.6,2.1 -1,1 -1.8,.5 -.2,2 -3.2,.7 -.5-.7 -1.7,3 1.2,2.8 1.3-.1 -1,3 1.3,2.9 1.8,1.2 -1.7,3 -.2,2 2.4,2.3 -.1,3.3 -.2,.4 2,2.7 -.2,2.6z" fill="#00ccff"/><path d="M675.5,302.8l1.1,.4 .3-3.4 -2-2.7 .2-.4 .1-3.3 -2.4-2.3 .2-2 1.7-3 -1.8-1.2 -1.3-2.9 1-3 -1.3,.1 -1.2-2.8 1.7-3 -3.2,0 -1.6,2.4 -4.3-1 -1.8-2 -1.9-.1 -.9-.5 -1.6,1.5 -3.6-.8 .4,1.4 -4.2,2.4 -.4,.5 -3.8-.4 -.2,4.3 2.3,.6 -1,3.3 -1.2,2.9 1.8,.7 -.2,1.8 .3,2 3.1,1.8 -.2,.6 -1.7,4.1 1.3,2 -.1,1.5 1.6,2.3 1.8-.1 2.1,1.2 3.4,2.2 -.9,.8 2.2-1.1 1.1-1.4 2.1,1.2 1.9,.8 1.3-1.6 3.3-.6 .3,1.4 4.3-.2 -.1-2.1 4.4,.1z" fill="#0066ff"/><path d="M625.7,306.2l-.2-1.4 4.2-.4 2.2,2.1 1.3,0 4.8-1.4 .3,.9 3.5,.5 2.8-2.5 .1-1 4.4,.8 0-1.5 .1-1.5 -1.3-2 1.7-4.1 .2-.6 -3.1-1.8 -.3-2 .2-1.8 -1.8-.7 1.2-2.9 1-3.3 -2.3-.6 -2.3,.6 -1.9-2.2 -2.1-1.5 -.9,1.5 -.7,1.3 -3.5-1.1 -.2-1 -3.5,.8 -1.8,.1 -.4,2.4 -1.3,.3 -2.6,4.2 .3,2.5 1.8,1.3 -4,.5 -.6,1.5 .5,4.1 -.9,.9 -.6,2.2 -2.7,.2 2.6,3.3 3.1-.2 0,2.5 -1.3,0z" fill="#0066ff"/><path d="M623.7,308.7l1.5-.7 -2.1,4.6 -2.6,.6 2.6,2.6 3.9,0 .1,2 -.5,1.8 1.9,.8 1.3,3.1 .1,.1 2.3,2.8 2.6,.7 -.4,1.5 1.9,.6 2.3-3.7 -1.4-1.7 2.2-2.1 -.2,.4 4-2.9 .9-3.2 .8,1.2 .3-2.5 .8-1.9 2.3-2.5 2.7,0 .1-1.2 1.4-4.6 -1.8,.1 -1.6-2.3 0,1.5 -4.4-.8 -.1,1 -2.8,2.5 -3.5-.5 -.3-.9 -4.8,1.4 -1.3,0 -2.2-2.1 -4.2,.4 .2,1.4 -4-1z" fill="#0099ff"/><path d="M673.5,305.1l.1,2.1 -4.3,.2 -.3-1.4 -3.3,.6 -1.3,1.6 -1.9-.8 -2.1-1.2 -1.1,1.4 -2.2,1.1 .1,2.2 2.2,1.1 -1.3,1.2 -2.5,2.8 1.8,3.4 1.2,2.1 -2.1,2.9 -.4,1.9 .8-.3 -.8,3.2 .4,2.3 .8,1.8 -2,5.1 2.7-2.7 1.1,.9 4.8,2.3 1.2,.1 1.9,2.1 .5-.5 2.8-.5 3.5,1.9 1.7,1 1.8-.4 -.5-3.3 .9-1.9 1,1.1 2.4-2 .9-3.4 1.3-2 -1.8-.6 .3-3.1 3.8-.8 -.6-4 -1.7-1.7 2.8-1.3 .5-2.3 -1.6-.3 -1.5-2.8 -1-1.9 -2.6-.6 -1.5-3.4 .6-1.6 -1.1-1.5z" fill="#00ccff"/><path d="M710.6,358.8l1.9-.4 1.6,1.8 .9,1.4 3.6-1.6 1.6-1.1 4.2,2.2 .2,1.2 2.8-4.8 -2.7-.5 1.6-1.7 3.3,.2 -.9-4.3 .9-1.8 -.2-1.9 2.5-.5 1.1-3.3 -.3-3.4 .6-1.4 -3.3,.1 .6,.7 -2.6-.1 -.3-.8 -4.2-.3 -2.1,0 -3.8-.7 -1.2-1.1 -1.3,0 -.8,.8 -1.4,0 -1,2.5 -2.9,.1 1.4,1.2 .8,5.4 -3.4,1.9 -.1,1.5 2.2,1.7 -2.2,.7 -1.9,4.2 2.7,2.3z" fill="#00ccff"/><path d="M739.5,317.4l1.7,1.3 -2.2-.2 1.5,2.5 -4.8,2 .5,3.4 -2.6-1.3 2,2.9 -2.2,2.4 -1.9,3.6 -.1,.6 2.3,2.5 .5,.8 -.9,1 1.1,1 4.6,1.7 1.4-.1 3.4-1.3 -.5,.7 2.2,2 0-.1 3-3.9 1.3-.9 -2-2.3 .8,.2 2.9-2.6 -1.2-4.6 -2.1-.6 2-2.9 1.8-.4 -1.5-1.9 .1-1.9 2.8-3 -1.2-3.1 -3.5-.5 -1.2,1.7 -4.1-1z" fill="#00ccff"/><path d="M622.9,354.8l1.4,.6 4.3-.4 1.4-.1 3.8,1.6 .2,1 3.1-1 .5-.7 2.7,1.5 1.2,1 2.4-1.7 .2-2.5 3.5-2.1 -1-.4 -.3-.6 1.6-4.4 1.2-1.7 1.5-3.2 -2,.3 1.2-3.3 -.4,.9 -2.2-2.9 -3.4-1.1 -1.6-1.8 -1.5,2 .2-1.4 -4.6-2.5 -2.2-.1 -2.1,1.7 .5,.9 -1.2,.7 -2.4,2.2 -1.4,2.3 -4.4,.8 -1,1.4 -2.4,1.7 -.7,.4 .3,1.3 -2.2,2.8 -.4,2.4 .4,0 2.8,1.5 1.9-.2 -.9,2.8z" fill="#0066ff"/><path d="M648.1,361.5l3.2,1.1 .8-1.2 2.7-2.7 1.3-.1 2.7-.3 1.5-2.9 1.5-.9 3.6,1 -.2-1.4 3.4-1.5 2.3,1.2 .2-.1 4.1-2.3 1.3-3.1 -.7,.2 -1.9-2.8 1.6-2.7 -1.7-1 -3.5-1.9 -2.8,.5 -.5,.5 -1.9-2.1 -1.2-.1 -4.8-2.3 -1.1-.9 -2.7,2.7 -.5-.7 -2.3-1.1 -2.7,2.1 -1.2,3.3 2-.3 -1.5,3.2 -1.2,1.7 -1.6,4.4 .3,.6 1,.4 -3.5,2.1 -.2,2.5 2.4,2.9 .1-.1 .2,3.1z" fill="#0099ff"/><path d="M675.8,348.5l.7-.2 -1.3,3.1 1.8,2.7 1.5,.4 -1.5,2.9 .9,1.3 2.9,.8 -.8,3.3 -.8,1.2 2.5,2.1 1.1,3.4 -.5,.7 1.9,2.5 1.1,2.2 1.8-1.1 -.4,1.1 4.1,.9 1.1-1.8 3.1-4.1 1.7,.2 .1-4.5 2-1.6 .9,1.3 1.9-2.7 2.6-2.9 1.8,.6 -2.1-3.7 -1.6-1.2 .3-1.7 -2.3-2.9 -2.8-.1 0-2.6 -.3-1.1 -1.6-.6 -.3-2.8 -1.5-.1 -3.3-2.3 -.4-1.6 -2.3-.8 -1.5-3.2 -4,.6 -1.2,.3 -2.4,2 -1-1.1 -.9,1.9 .5,3.3 -1.8,.4 -1.6,2.7z" fill="#00ccff"/><path d="M756.3,357.2l-.2-.4 .8,1.6 2.1,.6 1.8,3.3 2-1.3 -.4-3.5 2.8-.9 .1,1 3.4-2.3 1.4-3.3 2.9,.8 2.3,1 1.1-3.4 2.5-2.5 -.3,1.1 2.6-.8 -.3-3.7 -.9-.8 .4-2.5 -1.7-.1 -2-2.7 -1.2-1.8 -2-.2 -1.1-2.6 .4-.3 -3.7,0 -.5,.4 -2.2,1.8 -2.7-.8 -1.5-.7 -4,3.1 -.6,2.4 -1.9,0 -1.8,1.6 -.8,1.6 -3.7-1.5 -.4,0 2.1,3.1 -.3,1.6 .2,2.3 2.6,3 .8,.1 -1.2,3 1.1,.9z" fill="#0099ff"/><path d="M573,241.4l3.2,.4 .8,2.5 1.4,1.5 .8,.3 4.6,1.2 1.7-.7 1.9,1.3 -2.4-4.3 .3-1.3 2.8-2.9 -.7-4.4 -1.9,.6 1.2-3.1 .8-.9 -.7-.8 .8-4.4 .3-1.7 -1.7-3.1 -1.1-3.1 .5-.2 -1.8-2.5 -1.6,2.3 -.3,1.5 -3,1 -.5,2.8 -.8,.2 .4,.7 -1.4,7.1 0,5 -3.6,3.6 -1.8,1.4z" fill="#0099ff"/><path d="M590.6,222.3l.1,3.4 1.4-.2 1.3,2.3 3.1-1.7 4.1,1 -.5,2.5 2.1,.2 -.5-.9 3.7-2.2 .7-.1 2.7,1.1 .1-1.1 .9-2.2 -.8-.7 -2.3-3.2 .4-1.2 -.3-.9 -1.6-3.1 .3-.6 -.8-1.7 -2.6-3 .2-.6 -.4-2.6 -2.1,1.1 -3.7-2.1 -2.4-1.9 -3.5,1 .3,1.3 -2.7-.8 -.6,.4 -.7,4.7 .1,1.9 .1,1.7 -3.3,0 .4,1.7 1.8,2.5 -.5,.2 1.1,3.1z" fill="#00ccff"/><path d="M631.2,222.7l-.2,2.2 -3.1-.2 -.6,1.3 -2.3,.8 -2.8-.1 -.9,3.1 -3.7,3.1 .8-.3 2.3,2.1 -1.1,1.4 -2.3,.9 1.3,3.9 1.8,1.8 -1.2,3.1 -.7,2.2 .8,.7 2.6,2.5 -1.4,0 2.4,.8 3.9-.7 1.8,1.1 2,2.6 2.5-.3 .5-1.7 3,.5 .3,1.5 2.4-3 1-1 3.9-1.2 -.4-1 0-2.5 .1-1.9 1.4-4.3 0,.1 -1.2-2.1 1.1-1.1 1.7-1.4 -2-2 -4.7-1.3 -.5-3 1.4,.1 -2.7-4.1 -3.6-.9 -.2-1.7 0-.4z" fill="#0099ff"/><path d="M662,232.1l-3.8,1.9 -1.6-.9 -1.4-1.5 -3.6,1.3 .6,.9 -3.4-1.2 -1.2,.5 -.7,2.5 -1.7,1.4 -1.1,1.1 1.2,2.1 0-.1 -1.4,4.3 -.1,1.9 0,2.5 2.8-1.5 -.1,.4 3.4,1.9 .5,.8 3.8-.7 .8-.5 4,.6 .6,.9 3.1,.2 .8-2.6 3.3-.2 0-.8 1.5-3.1 .3-1.1 .6,.9 .2-2.1 1.1-1.5 -1.7-1.6 -1.1-3.4 1,.8 -2-3.6 -3.7-1.1z" fill="#0033ff"/><path d="M551,267l2.2-.6 .2,.8 3.9,.3 1.9,2.7 -.5,1.3 2.4,1.6 1.9-.6 4.2,.8 .9,0 2.7,.1 .7-3 2.9-1.4 2.3,.7 -.3-1.7 .3-2.8 2.1-.2 .8-2.4 0-.5 -.7-4 .3-1.2 2.3-3.2 .4-1.3 -1.5-.6 1.8-2.5 1.6-2 -4.6-1.2 -.8-.3 -1.4-1.5 -.8-2.5 -3.2-.4 -1.8,0 -2.2,1.6 -4,4 -5,3 -1,3 4,3 2,4 -3,4 -5,.5 -6,1.5 -.7,.3z" fill="#0066ff"/><path d="M585.5,246.6l-1.7,.7 -1.6,2 -1.8,2.5 1.5,.6 -.4,1.3 -2.3,3.2 -.3,1.2 .7,4 0,.5 -.8,2.4 -2.1,.2 -.3,2.8 4.3,.4 -.1,2.3 2.5,.1 2.1,3.5 3.3-1.4 1.3,.4 -.3,.8 3.3,2.8 2.4,.9 3.4-1.8 -.1-1.2 3.4,1 -.9-.4 1.5-2.9 -.6-1.7 2-1.9 2.1-.7 -2.3-2.2 -.1-1.1 3.5-4.8 -.3-2.8 -2.1,.6 .3-4.1 -1.6,1.3 -2.8-1.8 -1.7,1 -2.7-1.6 .7-1.8 -.8-1.6 -4.4-2 -1.1,.6 -1.4-.9 -1.7,.2 -.1,.7z" fill="#0099ff"/><path d="M607.1,260.1l-3.5,4.8 .1,1.1 2.3,2.2 -2.1,.7 -2,1.9 4.2,.8 1.9,2.6 2.9,.1 .3,.2 1.2-.3 2.5,.2 2.5,3.5 3.6,.4 0-2.4 2.2,1.9 .1,1.6 3.4,0 .9-3.8 -.5-2.6 -1.4-2 1.8-3.2 1.5-1.5 -2.2-.4 -.9-3 1,0 -.8-3.1 -.5-3.1 1.8-1.7 -.6-3.7 -3.9,.7 -2.4-.8 1.4,0 -2.6-2.5 -.1,.4 -3.3,3.1 -1.2,.8 -2.6-1.6 -3,2.1 -.9,4 -1.4,.1z" fill="#0066ff"/><path d="M532.2,297.8l2.1-.9 -.2-.4 2.8-1.9 0-.9 2.9-.5 2-2 2.1-1.3 .2-2.5 -1.1-1.8 1.3,.1 .8-5 -2.9-2 -.4-2.3 2.5-3.5 -.6-.4 -1.3-1.3 1-2.2 -.1-.5 -3.3,0 -5-2 -5-2 -4,1 -6,3.5 -.5,7 4.5,6 4,7 3,6 0,5.1z" fill="#0066ff"/><path d="M543.4,269l-1,2.2 1.3,1.3 .6,.4 -2.5,3.5 .4,2.3 2.9,2 -.8,5 -1.3-.1 1.1,1.8 -.2,2.5 .5,.4 2.7,2.9 1.5,.5 3-.3 -.2,1.1 3.3,.4 .9,.3 3.2-2.9 .2-2.3 3.3,.1 2.4-1.4 1.6-2 2.6,1 -1.2-1.6 -1.4-1 .9-2.3 -.5-2.6 -2-1.6 1-4 1.5-1.3 -4.2-.8 -1.9,.6 -2.4-1.6 .5-1.3 -1.9-2.7 -3.9-.3 -.2-.8 -2.2,.6 -.7-.7 -6.3,2.2 -.7,0z" fill="#0033ff"/><path d="M591.8,287.5l-1.3-1.5 2-.1 -1.9-4.7 3.3-1 1.6-1.9 -.3-.5 -2.4-.9 -3.3-2.8 .3-.8 -1.3-.4 -3.3,1.4 -2.1-3.5 -2.5-.1 .1-2.3 -4.3-.4 .3,1.7 -2.3-.7 -2.9,1.4 -.7,3 -2.7-.1 -.9,0 -1.5,1.3 -1,4 2,1.6 .5,2.6 -.9,2.3 1.4,1 1.2,1.6 -.7,2 -.5,2.1 2.4,1.6 3.7,.8 .4-2.8 1.8,.7 1.4,2.7 1.1,.1 2.5-.6 .4-2.3 2-.8 1-.1 2.2-2 2-2.1z" fill="#0033ff"/><path d="M605,304.5l1.2-1.2 1.3,.6 1.7-1.1 2.1-2.7 2.3-.9 -2.9-.3 -1.7-2.8 .6-2.7 -1.7-.8 -1.6-3 .2-1.8 -1.8-.2 -1.1-2.9 1-1.3 -1.8-1.2 -2-3.6 1.7-1.4 -.6-1.4 -3.4-1 .1,1.2 -3.4,1.8 .3,.5 -1.6,1.9 -3.3,1 1.9,4.7 -2,.1 1.3,1.5 -3.2-.5 1.9,3 2.8,.5 -.1,3.7 -1.3,.8 2.6,2.1 4.2,1.6 .3,1.1 -1.1,3.3 1.7,.6 2.2,3z" fill="#0033ff"/><path d="M620,299.4l.6-2.2 .9-.9 -.5-4.1 .6-1.5 4-.5 -1.8-1.3 -.3-2.5 2.6-4.2 1.3-.3 .4-2.4 0-.1 -4.5,0 -.1-1.6 -2.2-1.9 0,2.4 -3.6-.4 -2.5-3.5 -2.5-.2 -1.2,.3 -.3-.2 -2.9-.1 -1.9-2.6 -4.2-.8 .6,1.7 -1.5,2.9 .9,.4 .6,1.4 -1.7,1.4 2,3.6 1.8,1.2 -1,1.3 1.1,2.9 1.8,.2 -.2,1.8 1.6,3 1.7,.8 -.6,2.7 1.7,2.8 2.9,.3 1.1,1.8 .1,1.5 1.8-.8 .7-2.1z" fill="#0033ff"/><path d="M569,306.7l-.5,1.4 -.6,1.8 4.1,3.1 3.3-.1 .4-.7 1.6-1.8 2,.6 1.5,.7 2.9-2.2 -.5-1.9 -1.5-1.1 1.1-3.6 -1.1-.9 -2.7-1.1 1-2.4 .8-.9 -2.3-2.7 -1.1-.1 -1.4-2.7 -1.8-.7 -.4,2.8 -2.9-.6 -.9,.7 -3.3,2.5 1.8,3.7 .7,1.5 -2.9,.5 -.5,.8 -.5,2.9z" fill="#0033ff"/><path d="M621.1,316l-.6-2.8 2.6-.6 2.1-4.6 -1.5,.7 -2-3.5 1.3,0 0-2.5 -3.1,.2 -2.6-3.3 -.7,2.1 -1.8,.8 -.1-1.5 -1.1-1.8 -2.3,.9 -2.1,2.7 -1.7,1.1 -1.3-.6 -1.2,1.2 -3.2,2.2 -.7-.7 -1.2-.5 0,2.7 1.7,2.3 -.7-.1 -1.3,3.5 1.6,1.4 1.1,2.5 2.5-1.4 -.3,3.5 3.9,1.5 1.8-.8 4.3,0 -.1-.2 3,1.3 -.1-2.6 2.6-2.9z" fill="#0033ff"/><path d="M525.6,320.6l4.3-.4 1,.9 1.2-1 3-1 .6,2 2.9,1.3 .6-2 2.6-2.6 1.5-.3 -1.5-2.4 -.5,.2 1.7-2.7 1.2-2.5 -.8-1 -5,.3 -1.6-3 1.6,0 -2.6-4.4 -3.6,.8 -.4-3.3 -.8,1 0,2.5 -1,10 -4,7 -.9,.9z" fill="#0033ff"/><path d="M516.1,338.1l1.7,1.8 2.5,.1 -.3-1.1 3.2,2.7 1.5,1.5 4.7-2.1 .5,.3 2.6,2 -.7,1.4 2.3-.9 2.3-4.6 1-1.2 -.2-.1 .7-2.4 1.4-2 2.5-3.3 1.7,1.1 -.4-2.3 1.3-3.4 -.6-1 .2-1.6 -1.9-1.5 -2.9-1.1 -.6,2 -2.9-1.3 -.6-2 -3,1 -1.2,1 -1-.9 -4.3,.4 -.5,.3 -7.1,7.1 -5,7 1.1,3z" fill="#0033ff"/><path d="M617.3,319.1l.1,2.6 -3-1.3 -1.4,2.9 1.5,2.2 -.8,4.3 -1.9,1.1 .8,.6 .6,3.3 -1.3,.8 -.3,3.4 1.5,2.8 1.1,1 -.5,3.2 1.5,2.6 1.9-.6 2.2-2.8 -.3-1.3 .7-.4 2.4-1.7 1-1.4 4.4-.8 1.4-2.3 2.4-2.2 1.2-.7 -.5-.9 2.1-1.7 .3-3.2 .4-1.5 -2.6-.7 -2.3-2.8 -.1-.1 -1.3-3.1 -1.9-.8 .5-1.8 -.1-2 -3.9,0 -2.6-2.6 .6,2.8 -1.2,.2z" fill="#0099ff"/><path d="M531.8,299.5l.4,3.3 3.6-.8 2.6,4.4 -1.6,0 1.6,3 5-.3 .8,1 1.9-1.3 1,1 3.3,0 -.5-2.1 4.2-.6 -.4-1.9 -2.6-1 1.1-1.4 2.1-3.7 -1.7-2.3 -1.2-2.3 .2-1.1 -3,.3 -1.5-.5 -2.7-2.9 -.5-.4 -2.1,1.3 -2,2 -2.9,.5 0,.9 -2.8,1.9 .2,.4 -2.1,.9 -1.2,2.3 0,.4z" fill="#0033ff"/><path d="M565.8,303.3l.5-.8 2.9-.5 -.7-1.5 -1.8-3.7 3.3-2.5 1.4-1.1 -1.3,.2 -2.4-1.6 .5-2.1 .7-2 -2.6-1 -1.6,2 -2.4,1.4 -3.3-.1 -.2,2.3 -3.2,2.9 -.9-.3 -3.3-.4 1.2,2.3 1.7,2.3 -2.1,3.7 -1.1,1.4 2.6,1 .4,1.9 -1.1,1.4 3,2.7 .2-1.6 4.3-1.7 -.2,.8 2.9-.1 2.1-2.4z" fill="#0033ff"/><path d="M599.6,303.7l-1.7-.6 1.1-3.3 -.3-1.1 -4.2-1.6 -2.6-2.1 1.3-.8 .1-3.7 -2.8-.5 -1.9-3 -2,2.1 -2.2,2 -1,.1 -2,.8 -.4,2.3 -2.5,.6 2.3,2.7 -.8,.9 -1,2.4 2.7,1.1 1.1,.9 -1.1,3.6 1.5,1.1 3.6,1.4 .1,2.5 3.5-1.2 -.4-2.1 4.3,.5 .3-.3 2.3-2.5 3-.4 1.2,.5 .7,.7z" fill="#0033ff"/><path d="M563.2,308.6l-2.9,.1 .2-.8 -4.3,1.7 -.2,1.6 1.4,.4 -1.3,2.9 -.8,1.1 2.2,.6 .6,3.3 1.5-.3 1.7,4.3 2-1.2 3.8,1.9 -.2-.9 .3,.5 2.7,.2 1.4,.8 2.3-4.2 -2-2.1 -1.5-2.9 3.2,.4 2-3.1 -3.3,.1 -4.1-3.1 .6-1.8 .5-1.4 -3.7-.5z" fill="#0033ff"/><path d="M553,308.5l1.1-1.4 -4.2,.6 .5,2.1 -3.3,0 -1-1 -1.9,1.3 -1.2,2.5 -1.7,2.7 .5-.2 1.5,2.4 -1.5,.3 -2.6,2.6 2.9,1.1 1.9,1.5 -.2,1.6 .6,1 .7-.5 4.4,2.8 -.1-2.2 1.9-2.1 1.4-.1 1.5-.8 3.1-2.6 .8-.6 -.6-3.3 -2.2-.6 .8-1.1 1.3-2.9 -1.4-.4z" fill="#0033ff"/><path d="M573.1,322.7l1.5-.2 3.4,1.8 2.3,.7 2.2,.6 .6,.3 1.2-.7 1.7,1 1.5,.7 1.3-4.5 -2.3-1.8 -1.2-2.5 2.3-3.6 .7,.2 -1.6-2.8 .2-.4 -.1-2.5 -3.6-1.4 .5,1.9 -2.9,2.2 -1.5-.7 -2-.6 -1.6,1.8 -.4,.7 -2,3.1 -3.2-.4 1.5,2.9 2,2.1 -2.3,4.2z" fill="#0033ff"/><path d="M602.2,320.5l.1-2.7 -1.1-2.5 -1.6-1.4 1.3-3.5 .7,.1 -1.7-2.3 0-2.7 -3,.4 -2.3,2.5 -.3,.3 -4.3-.5 .4,2.1 -3.5,1.2 -.2,.4 1.6,2.8 -.7-.2 -2.3,3.6 1.2,2.5 2.3,1.8 -1.3,4.5 -1.5-.7 3.8,3.1 1-.3 1.5-.7 1.8-1.5 .5,1 1.7,2.3 1.9-2.7 .6-1.8 .4-3z" fill="#0033ff"/><path d="M536.8,341.6l2.9,3.3 2.9,.2 2.5-1 .5,.9 2,.5 1,1 3.2-1.8 .6-3.5 2.6-.7 .6-2.1 -1,.2 .5-4.1 .5,.3 -2.6-2 -3-.3 -.1-3.4 -.4-1.2 -4.4-2.8 -.7,.5 -1.3,3.4 .4,2.3 -1.7-1.1 -2.5,3.3 -1.4,2 -.7,2.4 .2,.1 -1,1.2 -1.1,2.1z" fill="#0033ff"/><path d="M565.8,345.4l.9,.6 1.1-3.3 1-2.6 1.4-1.3 1.3-.6 -.6-2.9 -2.8-.1 -1.1-3.2 -2.3-1.1 -2.3,.1 -.4,2.3 -4.2,.3 .2-.8 -2.9,1.7 -.5,4.1 1-.2 -.9,3.1 2.7,.1 .2,1.9 .6,0 3.6,1.4 2-1 -1.4,3.1z" fill="#0033ff"/><path d="M582.7,347.7l2.1,.5 1.3-1 4.5,.8 .2,3.8 2.2-.9 .6-1.7 .8-2.6 -1.4-1.9 1-1.6 1.8-2.9 -2-.1 -1.3-1.7 .5-3.4 -2,.2 -.8-4 2.1-2.9 -1.5,.7 -1,.3 -1.6-1.1 -1.3,2.9 -2.9,1.9 -.5,2.8 -1.1,.6 1.2,.1 -3,4.7 -.5,.9 -.2,2.4 2.1-.4 .9,3.1z" fill="#0033ff"/><path d="M558,332.8l-.2,.8 4.2-.3 .4-2.3 2.3-.1 2.3,1.1 2.8-1.9 -2-3.5 -.6-2.8 -.3-.5 .2,.9 -3.8-1.9 -2,1.2 -1.7-4.3 -1.5,.3 -.8,.6 -3.1,2.6 -1.5,.8 -1.4,.1 -1.9,2.1 .1,2.2 .4,1.2 .1,3.4 3,.3 2.2,1.6z" fill="#0033ff"/><path d="M567.8,326.6l2,3.5 -2.8,1.9 1.1,3.2 2.8,.1 .6,2.9 -1.3,.6 .7,.2 4.4-.8 1.6,.3 2.3,2.6 .9,1 .5-.9 3-4.7 -1.2-.1 1.1-.6 .5-2.8 2.9-1.9 1.3-2.9 1.6,1.1 -3.8-3.1 -1.7-1 -1.2,.7 -.6-.3 -2.2-.6 -2.3-.7 -3.4-1.8 -1.5,.2 -1.8,2.1 -1.4-.8 -2.7-.2z" fill="#0033ff"/><path d="M566.2,362.9l.2,2.9 -.1,.1 2.8-1.4 .9-1.1 -.4-4.3 1,.2 1.8-.4 1.7-4.1 2.7-1 -.2-1.5 .2-.5 1.6-2.8 .9-3.3 3.6,1.5 -.9-3.1 -2.1,.4 .2-2.4 -.9-1 -2.3-2.6 -1.6-.3 -4.4,.8 -.7-.2 -1.4,1.3 -1,2.6 -1.1,3.3 -.9-.6 -3.4,1.6 1,.1 1.5,4.8 -2.4,3 -1,.8 2.7,3.7 .2,.1 -1.2,1.3 .9,3.1z" fill="#0033ff"/><path d="M598.8,325.6l-.6,1.8 -1.9,2.7 .4-.3 2.9,2.5 4.1-1.5 -1,2 .3-.2 3.9,3.3 1.9,1 1.8,2.3 1-.2 .3-3.4 1.3-.8 -.6-3.3 -.8-.6 1.9-1.1 .8-4.3 -1.5-2.2 1.3-2.7 -4.1,0 -1.8,.8 -3.9-1.5 .3-3.5 -2.5,1.4 -.1,2.7 -3,2.1z" fill="#0033ff"/><path d="M530,376l3-.6 -.1-1.4 .4-1.2 .5-2.7 3.4-2.4 -.5-1.3 -1.4-1.4 1.4-2.5 -1-3.3 -2.5-1.2 1.4-2.8 .7-3.6 -2-.6 .3-2.5 .1-3.4 -2.1,0 .9-1.8 -2.6-2 -.5-.3 -4.7,2.1 -1.5-1.5 -3.2-2.7 .3,1.1 -2.5-.1 -1.7-1.8 -2-.1 1.9,5 5,10 5,10 2,7 1.9,6.5z" fill="#0033ff"/><path d="M531.6,345.1l2.1,0 -.1,3.4 -.3,2.5 2,.6 -.7,3.6 -1.4,2.8 2.5,1.2 1,3.3 -1.4,2.5 1.4,1.4 1,2.5 4.3-1.3 -.5-1.4 3.7,1.3 1.3-.1 1.4-2.1 3.3,0 .2,.7 3.2-2.3 1.4-1.3 .3-3.5 -2.4-1.1 -1.6-1.5 0-3 -1.7-.6 -.9-1.6 .5-2.9 -1.8-.4 -.8-2.3 -2-.5 -.5-.9 -2.5,1 -2.9-.2 -2.9-3.3 -2.4-.4 -.3,2.6 -2.2,.8z" fill="#0066ff"/><path d="M563.2,360.8l1.2-1.3 -.2-.1 -2.7-3.7 1-.8 2.4-3 -1.5-4.8 -1-.1 1.4-3.1 -2,1 -3.6-1.4 -.6,0 -.2-1.9 -2.7-.1 .4-1 -2.7,.7 -.6,3.5 -3.2,1.8 -1-1 .8,2.3 1.8,.4 -.5,2.9 .9,1.6 1.7,.6 0,3 1.6,1.5 2.4,1.1 -.3,3.5 .6,1.2 2.4,.7 3.3,0 1.8-.4z" fill="#0033ff"/><path d="M581.3,368l2.5,.8 1.4,.6 2.7-1.8 -.4-1 2.5-2.5 2.2,1 -2-3.2 .6-4 3-1.8 -1-2.1 -1.9,.5 2.1-3.6 -2.2,.9 -.2-3.8 -4.5-.8 -1.3,1 -2.1-.5 .2-.5 -3.6-1.5 -.9,3.3 -1.6,2.8 -.2,.5 .2,1.5 -2.7,1 -1.7,4.1 -1.8,.4 -1-.2 .4,4.3 -.9,1.1 -2.8,1.4 1.7,2.4 1.9-.9 3.9,.3 2.5-.5 1.2,3 .8,1.9 1.9-2.2z" fill="#0033ff"/><path d="M594.6,327.8l-.5-1 -1.8,1.5 -2.1,2.9 .8,4 2-.2 -.5,3.4 1.3,1.7 2,.1 -1.8,2.9 -1,1.6 1.4,1.9 -.8,2.6 3.6-1 .6,1.2 2-.7 2.9-1.9 .1,.7 4.7,1.2 -.2-1.3 4.2-.6 1.6,1.7 2.1,.1 -1.5-2.6 .5-3.2 -1.1-1 -1.5-2.8 -1,.2 -1.8-2.3 -1.9-1 -3.9-3.3 -.3,.2 1-2 -4.1,1.5 -2.9-2.5 -.4,.3z" fill="#0066ff"/><path d="M658,307.9l-3.4-2.2 -2.1-1.2 -1.4,4.6 -.1,1.2 -2.7,0 -2.3,2.5 -.8,1.9 -.3,2.5 -.8-1.2 -.9,3.2 -4,2.9 .2-.4 -2.2,2.1 1.4,1.7 -2.3,3.7 -1.9-.6 -.3,3.2 2.2,.1 4.6,2.5 -.2,1.4 1.5-2 1.6,1.8 3.4,1.1 2.2,2.9 .4-.9 2.7-2.1 2.3,1.1 .5,.7 2-5.1 -.8-1.8 -.4-2.3 .8-3.2 -.8,.3 .4-1.9 2.1-2.9 -1.2-2.1 -1.8-3.4 2.5-2.8 1.3-1.2 -2.2-1.1 -.1-2.2z" fill="#0099ff"/><path d="M591.5,367.2l2.1,2.5 2.9,.4 1.5-1.8 -.1,1 3.1-.1 .9-.3 2.3-5 .3-.5 -.4-.3 2.7-3.6 2-1.4 2.6-1.2 -.1-.6 2.7-2 -1.6-2.9 2.7,1.3 1.6-2.3 .4-2.4 -1.9,.6 -2.1-.1 -1.6-1.7 -4.2,.6 .2,1.3 -4.7-1.2 -.1-.7 -2.9,1.9 -2,.7 -.6-1.2 -3.6,1 -.6,1.7 -2.1,3.6 1.9-.5 1,2.1 -3,1.8 -.6,4 2,3.2 -2.2-1 -2.5,2.5z" fill="#0066ff"/><path d="M536.8,390.8l1.8,1 3.4,2.2 2.2,.9 2.4-2.1 1.5-1.5 2,.9 2.6-.9 .3-2.3 4.1,.3 -.5,.7 3.6-1.9 .7-1.7 0-1.2 -.9-.3 .9-2 3.3-4.4 -.9-1.3 -2.2-2.3 2.8,.6 2.2-3.7 -1.9-1.6 .4-3.4 1.8-1 -.2-2.9 -2.1,1 -1.8,.4 -3.3,0 -2.4-.7 -.6-1.2 -1.4,1.3 -3.2,2.3 -.2-.7 -3.3,0 -1.4,2.1 -1.3,.1 -3.7-1.3 .5,1.4 -4.3,1.3 -.3-1.3 -3.6,2.5 -.5,2.7 -.4,1.2 .1,1.4 -3,.6 -.1,.5 1.1,3.5 4.5,9.9 .1,0 0,.1 .4,1 -.8,1.3z" fill="#0099ff"/><path d="M578.3,372.1l-.8-1.9 -1.2-3 -2.5,.5 -3.9-.3 -1.9,.9 -1.7-2.4 .1-.1 -1.8,1 -.4,3.4 1.9,1.6 -2.2,3.7 -2.8-.6 2.2,2.3 .9,1.3 -3.3,4.4 -.9,2 .9,.3 0,1.2 -.7,1.7 -.4,2.9 3.3-1 2.5,4 -.7,.7 2.2,2.7 1.7-.6 2.2-1.5 2.6-.4 -.7,1.5 2-2.2 1.6-4 2.4,.2 1.8-.2 1.2-3.7 2-1.7 .3,.2 -1.5-1.9 1-1.5 -1.1-1.2 -2.4-3.4 .8-.8 .8-2.1 -1.6-4.2z" fill="#0099ff"/><path d="M604.2,388.7l1-.9 -.7-4.9 .4-1.4 1.3-1.5 -1.6-2.9 -2.1-.2 .2-3 -.4-.6 -2.9-2 -1.5-2 .1-1 -1.5,1.8 -2.9-.4 -2.1-2.5 -4-.6 .4,1 -2.7,1.8 -1.4-.6 -2.5-.8 -1.1,1.9 1.6,4.2 -.8,2.1 -.8,.8 2.4,3.4 1.1,1.2 -1,1.5 1.5,1.9 3.2,1.8 1.2,.1 -.8,.5 3.6-.5 2.1,2.2 3.4,1.4 .7,2.1 .4-.3 4.2,.5 -.3-1.9 2.2,1z" fill="#0066ff"/><path d="M607.1,377.2l-.4-1.7 2.6-.8 .2,.6 2.2-2 2.2-2.8 1.4,.7 3.9,.6 .9-2.7 3.7-2.1 -1.4-.4 -2.2-3.5 1.8,.3 1.3-3.8 -2-3.2 -.4-1.9 .9-2.8 -1.9,.2 -2.8-1.5 -.4,0 -1.6,2.3 -2.7-1.3 1.6,2.9 -2.7,2 .1,.6 -2.6,1.2 -2,1.4 -2.7,3.6 .4,.3 -.3,.5 -2.3,5 -.9,.3 -3.1,.1 1.5,2 2.9,2 .4,.6 -.2,3 2.1,.2z" fill="#0099ff"/><path d="M608.5,388.1l2.6,1.3 2.7-1 0-1.2 2.6,.5 1.6-2.3 1.9-3.1 3.8,.6 .4-.2 2.3-2.2 3,.3 -.5-3.3 -2.6-.5 -1.2-2.6 0-2.3 -2.1-.6 -.6-3.4 1.4-1.1 -3.7,2.1 -.9,2.7 -3.9-.6 -1.4-.7 -2.2,2.8 -2.2,2 -.2-.6 -2.6,.8 .4,1.7 -2.5-.1 1.6,2.9 -1.3,1.5 -.4,1.4 .7,4.9 -1,.9 -.1,3.2 .7-1.3 3.3-.9z" fill="#0099ff"/><path d="M574.9,397.1l1.5,1.7 1.2,2.1 1.3,.1 2.7,1.6 .9-1.1 -.2,2.4 3.9,.1 3.5,3 .6-.7 1.6-3.2 2-.3 -.2,.7 2.7-2.7 1.2-1.8 2-.4 -.3-1.4 2.2-1.5 .7-2.9 -4.2-.5 -.4,.3 -.7-2.1 -3.4-1.4 -2.1-2.2 -3.6,.5 .8-.5 -1.2-.1 -3.2-1.8 -.3-.2 -2,1.7 -1.2,3.7 -1.8,.2 -2.4-.2 -1.6,4 -1,1.2z" fill="#0066ff"/><path d="M633.9,379.6l1.1-1.5 1.5,1.5 4.1-3.7 -.1-2.3 1.7,.9 -.3-2.3 2.3-2.2 -.4-1.6 4.5-1.2 .8-.6 -1.1-4 -1.4-.1 -.2-3.1 -.1,.1 -2.4-2.9 -2.4,1.7 -1.2-1 -2.7-1.5 -.5,.7 -3.1,1 -.2-1 -3.8-1.6 -1.4,.1 -4.3,.4 -1.4-.6 -2-.3 .4,1.9 2,3.2 -1.3,3.8 -1.8-.3 2.2,3.5 1.4,.4 -1.4,1.1 .6,3.4 2.1,.6 0,2.3 1.2,2.6 2.6,.5 .5,3.3 0,.1 .6,2.4 3.8-.1z" fill="#0066ff"/><path d="M660.5,390.2l1.1-1.6 .7-3.1 -.5-1.3 1.8,1.5 .2-2.7 3.6-2.7 -3-.9 -2.7-.8 0-.8 -1.2-1 -3.2-3.2 -1.4-.1 -.3-4.3 -2.1-.4 -2.7-1.1 -.9-2 -.8,.9 -.8,.6 -4.5,1.2 .4,1.6 -2.3,2.2 .3,2.3 -1.7-.9 .1,2.3 -4.1,3.7 -1.5-1.5 -1.1,1.5 -.1,3.6 1.4,1.5 -.1,1 2.3,3.5 1.1,1.7 1.3-.8 1.8,.5 .6,.9 1.8-1.2 3.4-1.3 .5,1.5 4,1.9 1.9-1.2 3.8-2 .1,.2z" fill="#0066ff"/><path d="M655.3,404.6l-.7-1.4 .9-3.1 .9-.2 .3-2.8 -.3-3.5 -.4-1.1 1.7-3.1 -.1-.2 -3.8,2 -1.9,1.2 -4-1.9 -.5-1.5 -3.4,1.3 -1.8,1.2 -.6-.9 -1.8-.5 -1.3,.8 -1.9,1.5 -2.5,1.3 1.5,.9 -.1,3.2 -.5,.7 1,3.2 3.9,.8 -.3,1.4 .5,.7 2.6,2.9 2.8-.8 2.6-2.5 3.3,1.4 .1,2.8 2.4-1z" fill="#0033ff"/><path d="M626.2,401.8l1-.6 2.8-1.6 .8,.8 4,.3 .7-2.9 .1-3.2 -1.5-.9 2.5-1.3 1.9-1.5 -1.1-1.7 -2.3-3.5 .1-1 -1.4-1.5 -3.8,.1 -.6-2.4 0-.1 -3-.3 -2.3,2.2 -.4,.2 -3.8-.6 -1.9,3.1 -1.6,2.3 -2.6-.5 0,1.2 -2.7,1 -2.6-1.3 -.4,1.6 1.3,2 .7,.4 2.3,2.4 2,1.8 1.9,1.9 1.3,.7 -.4,1.2 2.1-.9 4.5,2.6 .5-.9z" fill="#0099ff"/><path d="M527.9,422l.9-1.9 1.9-.1 3,.8 .8-2.3 2.4-1.5 2.4,1.2 .8-1 2.8-1.7 2,1.2 .6,0 1.6-3.2 -.9-1.4 -2-3 .6-1.7 -.8-2.2 -2.1-3.6 1.2-.4 .9-1.9 -2.3-3.7 -.5,0 .8-1.6 -3.4-2.2 -1.8-1 -1.6,1.5 -4.2,6.7 -6,4 -3,10 2.8,8.4zM535.6,389.9l-.1,0 .1,.1z" fill="#00ccff"/><path d="M564.9,394.7l.7-.7 -2.5-4 -3.3,1 .4-2.9 -3.6,1.9 .5-.7 -4.1-.3 -.3,2.3 -2.6,.9 -2-.9 -1.5,1.5 -2.4,2.1 -2.2-.9 -.8,1.6 .5,0 2.3,3.7 -.9,1.9 -1.2,.4 2.1,3.6 .8,2.2 -.6,1.7 2,3 .9,1.4 -1.6,3.2 1.3,.3 3.8,.4 1.7,.6 -1.1,2.3 3.8,.2 .7-.1 2.6-3.1 2.2-.9 1.9,.8 2.7-2 0-2.5 -1.8-3.1 1.8,.7 1.8-1.7 -1.3-4.5 .3-1.5 2.4-3 -.3-1.4 -.9-.8z" fill="#00ccff"/><path d="M583.5,422.3l-.2-4.6 .4-1.5 2.6-.5 .4-3.9 -2.6-2 2.3-2.1 3.3-.7 -3.5-3 -3.9-.1 .2-2.4 -.9,1.1 -2.7-1.6 -1.3-.1 -1.2-2.1 -1.5-1.7 -1.3-2.2 -2.6,.4 -2.2,1.5 -1.7,.6 .9,.8 .3,1.4 -2.4,3 -.3,1.5 1.3,4.5 -1.8,1.7 -1.8-.7 1.8,3.1 0,2.5 -1,.3 4,.7 2.7,3.7 3-.8 .6,1.3 .7-.1 3.7-.3 1.3,4.1 2.6,0z" fill="#00ccff"/><path d="M583.5,422.3l-.8,1.8 -.1,3 2.6,.7 1.5,.8 2.1-.8 -.1-.2 3.5,.7 1.4-2.2 1.6-1.6 2.7,1 1.3-.8 2.1-1.9 1.7,.3 3-2.1 -2.9-.3 2.3-4.3 .4-.4 2.1-1.5 -2.8-.6 -1.6-3.4 1.2-1.2 -1.3-1.5 -2.4-3.3 1-.5 -.3-2.7 -4.1-2.3 -1.2,1.8 -2.7,2.7 .2-.7 -2,.3 -1.6,3.2 -.6,.7 -3.3,.7 -2.3,2.1 2.6,2 -.4,3.9 -2.6,.5 -.4,1.5z" fill="#00ccff"/><path d="M621.1,411.5l2.5-.8 -2.5-3.3 .9-2.9 2.3-3.6 -.5,.9 -4.5-2.6 -2.1,.9 .4-1.2 -1.3-.7 -1.9-1.9 -2-1.8 -2.3-2.4 -.7-.4 -1.3-2 -3.3,.9 -.7,1.3 -2.2-1 .3,1.9 -.7,2.9 -2.2,1.5 .3,1.4 -2,.4 4.1,2.3 .3,2.7 -1,.5 2.4,3.3 1.3,1.5 -1.2,1.2 1.6,3.4 2.8,.6 1.6,.8 3.5-1.4 -.5,.3 2.9,1.1 2.1-2 1-1.9z" fill="#0099ff"/><path d="M621.6,414.2l1.4,.2 -.6,3 2.9,1.8 3,1.2 .7,1.5 1.7-1.9 2-2 -.3-.7 2.6-2.5 .4-1.2 1.6,1.3 1.3-2.9 .9-2.3 -.7-2.6 1.1-3.2 .3-1.4 -3.9-.8 -.8-2.6 -.4,1.6 -4-.3 -.8-.8 -2.8,1.6 -1,.6 -1.9-.9 -2.3,3.6 -.9,2.9 2.5,3.3 -2.5,.8 -2.6-.1z" fill="#0066ff"/><path d="M657.3,411.3l-2.8-.7 -.6-3.2 -2.4,1 -.1-2.8 -3.3-1.4 -2.6,2.5 -2.8,.8 -2.6-2.9 -.5-.7 -1.1,3.2 .7,2.6 -.9,2.3 -1.3,2.9 2.6,.5 4.8,1.8 -.6-.1 -.3,1.2 4.5,.2 2,2.9 .4,0 1.4-2.5 -.2-1.5 1.1-2.1 .6-.7 4.4-.1z" fill="#0033ff"/><path d="M659.3,410.9l.3,2.7 4.5,2.1 1.9-1.4 4-1.6 -.1,1.5 2.2,2 -.3-1 4.4-2.2 -.5-2.3 -3.8-2.6 -.8-.4 .6-3.1 -2.7-1.4 -2-1.1 .9-3.1 -.8-.4 -1.4-2.2 .4-2.4 -1.3-.3 -2.4-2.9 .2-1.2 -1-1 -1.1,1.6 -2.8-.8 -1.7,3.1 .4,1.1 .3,3.5 -.3,2.8 -.9,.2 -.9,3.1 .7,1.4 -1.4,2.8 .6,3.2 2.8,.7 0,.4z" fill="#0066ff"/><path d="M667.8,380.2l3.5,.8 1-1.9 2.3-1.5 1.8,1 2.1-.5 2-2.2 1.3,.2 3.4,.8 .1-2 -1.1-2.2 -1.9-2.5 .5-.7 -1.1-3.4 -2.5-2.1 .8-1.2 .8-3.3 -2.9-.8 -.9-1.3 1.5-2.9 -1.5-.4 -1.8-2.7 -4.1,2.3 -.2,.1 -2.3-1.2 -3.4,1.5 .2,1.4 -3.6-1 -1.5,.9 -1.5,2.9 -2.7,.3 -1.3,.1 -2.7,2.7 -.8,1.2 -3.2-1.1 -1.5,1 1.4,.1 1.1,4 .8-.9 .9,2 2.7,1.1 2.1,.4 .3,4.3 1.4,.1 3.2,3.2 1.2,1 0,.8 2.7,.8 3,.9z" fill="#0099ff"/><path d="M543.1,438.4l1.4-3 2.3-.1 2.5,.4 .6-2.4 1.6-3.2 -.2,.1 -.3-2.8 1.1,.4 .7-3 -1.2-3.6 -.4-.9 1.1-2.3 -1.7-.6 -3.8-.4 -1.3-.3 -.6,0 -2-1.2 -2.8,1.7 -.8,1 -2.4-1.2 -2.4,1.5 -.8,2.3 -3-.8 -1.9,.1 -.9,1.9 -3.1-.6 1.2,3.6 7,8 7.9,5.9z" fill="#00ccff"/><path d="M536.8,459l.3-.3 3.2-2.3 1.7,.2 1.6,2.4 1.8-.1 .1-1.6 4.5,.3 1.8,.5 2.9-1.1 2.6,.2 1.8,2.1 3.9-.3 -1.5-4.4 .9-1.6 .3-.8 .7-.5 4.1-2.5 -2.3-3 -1.9-2.2 .8-.4 .1-1.7 -4,1 -2.3-2.3 -.4-.4 -1.4-3.1 -1.7-1.3 -2.8-2.2 -1.7-.3 -.6,2.4 -2.5-.4 -2.3,.1 -1.4,3 -2.2,.5 .1,.1 1,6 -5,8 -1.6,5.5z" fill="#00ccff"/><path d="M566.9,443.1l1.5,.2 3.5-3.7 .4-1.2 .9,1.6 1.5-3.5 .5-3.1 2.6,1.2 .3-2.7 4.1-3.8 .9,.7 2.1-1 -2.6-.7 .1-3 -2.6,0 -1.3-4.1 -3.7,.3 -.7,.1 -.6-1.3 -3,.8 -2.7-3.7 -3.6-.6 -2.1,1.6 -1.9-.8 -2.2,.9 -2.6,3.1 -.7,.1 -3.8-.2 .4,.9 1.2,3.6 -.7,3 -1.1-.4 .3,2.8 .2-.1 -1.6,3.2 1.7,.3 2.8,2.2 1.7,1.3 1.4,3.1 .4,.4 2.3,2.3 4-1 -.1,1.7 -.8,.4z" fill="#00ccff"/><path d="M595.5,449.2l.6-2.8 -2.7-3 -1.4-.1 1.5-2.8 -.9-2 -1.9-1.6 .4-3.9 -.9-.9 -2.3-1.5 .9-2.8 -2.1,.8 -1.5-.8 -2.1,1 -.9-.7 -4.1,3.8 -.3,2.7 -2.6-1.2 -.5,3.1 -1.5,3.5 -.9-1.6 -.4,1.2 -3.5,3.7 -1.5-.2 -3.6,.9 1.9,2.2 3.4,.4 .9,3.3 .1,.3 4,1.4 1.9-.7 3.2,.3 .1,2 .5,1.4 3.9,2 1.1-.5 2.2,.3 1-1.9 3.4,.3 -.1-.9 2.6-1.7 -.1-.6 1.9-1.3z" fill="#00ccff"/><path d="M606.8,448.8l.8-.8 1.5-.3 0-2.1 2.2-1.9 0-1.1 2.6-1 1.8,.5 -1.2-4.4 -2-1.3 1.4-3.3 -.9-.6 -2.4,.4 -2.6-2.1 -1-4.6 -5,.3 -.7-3.7 -2.1,1.9 -1.3,.8 -2.7-1 -1.6,1.6 -1.4,2.2 -3.5-.7 .1,.2 -.9,2.8 2.3,1.5 .9,.9 -.4,3.9 1.9,1.6 .9,2 -1.5,2.8 1.4,.1 2.7,3 -.6,2.8 -.3,1.1 2.9,0 3.2-.1 1.9,.1 .8,2z" fill="#0099ff"/><path d="M610.6,432.9l2.4-.4 .9,.6 3.1,0 1-.3 2-2.7 .7-1.9 .8,.9 .9-.5 .6-3.4 2-1.6 1.8-.6 1.5-2.6 -3-1.2 -2.9-1.8 .6-3 -1.4-.2 -3.1-2.8 -1,1.9 -2.1,2 -2.9-1.1 .5-.3 -3.5,1.4 -1.6-.8 -2.1,1.5 -.4,.4 -2.3,4.3 2.9,.3 -3,2.1 -1.7-.3 .7,3.7 5-.3 1,4.6z" fill="#0099ff"/><path d="M640.6,434.3l.9-.7 3.8-4.7 .4-.5 2.3,1.1 .8-3.9 -1-1.1 .8-3.1 1.4,0 -2-2.9 -4.5-.2 .3-1.2 .6,.1 -4.8-1.8 -2.6-.5 -1.6-1.3 -.4,1.2 -2.6,2.5 .3,.7 -2,2 -1.7,1.9 -.7-1.5 -1.5,2.6 -1.8,.6 3.4,2.4 1.9,.9 .8,4 .8-1.2 2.6,3.3 3.2-1.7 0,2.3 .1,.6z" fill="#0033ff"/><path d="M641.3,436.5l1.4,3.6 .2,.2 4.1,2.6 3.3-1.2 -.9,1.4 1.7-.2 2.4,2.5 2.4,1.4 2-.4 1.6-1.6 2.7-.3 -1.8-1.8 -2.2-1.4 1.3-3.1 .1-.1 -2.7-1.5 -.3-2.8 .1-.7 -2-3.1 -.2-1.8 -2.2-.9 -.1-.8 -3.4-.9 -.8,3.9 -2.3-1.1 -.4,.5 -3.8,4.7 -.9,.7 -2.8-.1 2.3,2.3z" fill="#0033ff"/><path d="M633.8,448.8l1.7-3 -1.4-2.2 1.8-1.9 1,.8 3-4.4 .2-1.6 -2.3-2.3 -.1-.6 0-2.3 -3.2,1.7 -2.6-3.3 -.8,1.2 -.8-4 -1.9-.9 -3.4-2.4 -2,1.6 -.6,3.4 -.9,.5 -.8-.9 -.7,1.9 -2,2.7 -1,.3 -3.1,0 -1.4,3.3 2,1.3 1.2,4.4 -1.8-.5 .8,2.4 4.3-1.1 2.4,.2 1.5,1.8 .4,1.5 1.5,2.1 3.8-2.7 1.6,1.4 2.2,2.8z" fill="#0066ff"/><path d="M603.4,453.9l2.2,3.3 .8,.5 0,2.9 2.4,2 1.1,.7 -.6,3.2 2.3,.5 3,1.7 -.1-1.5 2.6-1.9 -.1-.6 1.5-1.8 1.7-2 .8-.5 3.5-1.6 .8-2.3 3.4,.7 1.1-.1 1.3-3.7 1.9-1.9 -1.3-1.6 .7,.1 -2.2-2.8 -1.6-1.4 -3.8,2.7 -1.5-2.1 -.4-1.5 -1.5-1.8 -2.4-.2 -4.3,1.1 -.8-2.4 -2.6,1 0,1.1 -2.2,1.9 0,2.1 -1.5,.3 -.8,.8 -2.8,3.5z" fill="#00ccff"/><path d="M567.5,449.2l-4.1,2.5 -.7,.5 -.3,.8 -.9,1.6 1.5,4.4 -1.4,1.1 .3,2.5 1.6,2.4 -1-.5 -1.3,3.8 3.6,0 2.3-2.3 1.6-.2 4.5,2.5 1.3,.2 2.6-1.8 .5,.1 1.3,.7 3.6-1 .5,0 2.3-1.3 2.1-2.3 -2.2-.1 -1.3-4 2.6-2.4 -2.2-.3 -1.1,.5 -3.9-2 -.5-1.4 -.1-2 -3.2-.3 -1.9,.7 -4-1.4 -.1-.3 -.9-3.3 -3.4-.4z" fill="#0099ff"/><path d="M545,476.3l1.1-1.9 2.5-1.6 1.4,.3 1.2-2.4 3.7-2.6 .4,1.1 1.5,.1 4-1.7 .4,.7 1.3-3.8 1,.5 -1.6-2.4 -.3-2.5 1.4-1.1 -3.9,.3 -1.8-2.1 -2.6-.2 -2.9,1.1 -1.8-.5 -4.5-.3 -.1,1.6 -1.8,.1 -1.6-2.4 -1.7-.2 -3.2,2.3 -.3,.3 -1.4-.5 -.4,1.5 1,5 7,8 1.6,3.1z" fill="#0099ff"/><path d="M556.9,488.1l.4-.2 2.2-2.1 -.1-3.2 -.7-1.5 2.9-3.2 -.2,.1 -2.3-3.2 3-2.5 2.1-1.9 -1.4-2.4 -1.6,.3 -.4-.7 -4,1.7 -1.5-.1 -.4-1.1 -3.7,2.6 -1.2,2.4 -1.4-.3 -2.5,1.6 -1.1,1.9 -.4-.2 3.4,6.9 5,9 3.9-1.5z" fill="#0033ff"/><path d="M565.5,491.4l.8,.8 .4,.2 3.2-2.4 .1-1.8 1-3.5 2.2-1.1 1.3-3.6 -.2-.7 -3.4,.2 -1.5-2.4 -.3-.5 -2.1-3.2 -1.3-.9 -.4-1.2 -2.5-3.3 1.4,2.4 -2.1,1.9 -3,2.5 2.3,3.2 .2-.1 -2.9,3.2 .7,1.5 .1,3.2 -2.2,2.1 -.4,.2 0,2.4 4.1-1.5 4.5,2.7z" fill="#0033ff"/><path d="M565.3,471.3l.4,1.2 1.3,.9 2.1,3.2 .3,.5 1.5,2.4 3.4-.2 .2,.7 3.1-.5 1.2,1.6 2.1-1.1 2.7-1.6 .9,1 3.1-.5 1.5-2.7 -1.4-3.7 -3.1-.8 1-1 .2-3.1 -2.8-1.1 -.5,0 -3.6,1 -1.3-.7 -.5-.1 -2.6,1.8 -1.3-.2 -4.5-2.5 -1.6,.2 -2.3,2.3 -1.8,0z" fill="#0033ff"/><path d="M589.5,492l.7-.1 2.5-.5 -1.4-4.1 -2-.9 2.5-3.7 1.4-3.6 -2.4,.6 -.5-3.6 -1.2,.1 -1.5,2.7 -3.1,.5 -.9-1 -2.7,1.6 -2.1,1.1 -1.2-1.6 -3.1,.5 -1.3,3.6 -2.2,1.1 -1,3.5 -.1,1.8 -3.2,2.4 4.3,2.6 7,2 8-3 5,1.5zM565.5,491.4l0,.3 .8,.5z" fill="#0066ff"/><path d="M603.2,450.3l-1.9-.1 -3.2,.1 -2.9,0 -1.9,1.3 .1,.6 -2.6,1.7 .1,.9 -3.4-.3 -1,1.9 -2.6,2.4 1.3,4 2.2,.1 -2.1,2.3 -2.3,1.3 2.8,1.1 -.2,3.1 -1,1 3.1,.8 1.4,3.7 1.2-.1 .5,3.6 2.1,.8 1.7-1.9 2.9-1.7 1.9,1 1.6-.4 3.8-2.1 0,.5 4.6,1 .3-1.8 3.1-.9 -2.2-3.6 1.6,1.1 2.4-3 -3-1.7 -2.3-.5 .6-3.2 -1.1-.7 -2.4-2 0-2.9 -.8-.5 -2.2-3.3 .6-1.6z" fill="#0099ff"/><path d="M615.5,477.3l4.3,0 2,.3 4.2,.9 .1,.6 2.2-.1 .5,.3 2.1,.7 3.4,0 0-2.4 1.5-4.4 2.6,.7 -2.4-1.9 .4-1.4 3.7-3.6 -.5-2.4 -.3-.4 .3-2.8 .5,.2 -1.6-2.6 -3.3-.4 -.4-4 .8-1 -2.6-2.1 -1.9,1.9 -1.3,3.7 -1.1,.1 -3.4-.7 -.8,2.3 -3.5,1.6 -.8,.5 -1.7,2 -1.5,1.8 .1,.6 -2.6,1.9 .1,1.5 -2.4,3 -1.6-1.1 2.2,3.6 .8,.7 0,1.7z" fill="#0099ff"/><path d="M614.2,501.5l-2.3-1.9 1-3.5 1.5-3.3 -1.1-.2 -.1-2 .8-2.1 -.5-1.2 .6-4.5 .9-2.8 -1.4-.5 0-2.9 0-1.7 -.8-.7 -3.1,.9 -.3,1.8 -4.6-1 0-.5 -3.8,2.1 -1.6,.4 -1.9-1 -2.9,1.7 -1.7,1.9 -.2-.1 -.9,2.3 -2.5,3.7 2,.9 1.4,4.1 -2.5,.5 -.7,.1 1.5,3.5 5,1.5 5,5 12,1 1.1,.4z" fill="#00ccff"/><path d="M629.5,506.5l.9-1.2 1.5-2.9 -.7-3.4 .3-.7 2.7-2.9 -.3-.8 -1.6-2 2.4-4.5 .9-1.2 -2.8-2.2 1.5-.8 2.8-1.3 -2.8-2.6 -3.4,0 -2.1-.7 -.5-.3 -2.2,.1 -.1-.6 -4.2-.9 -2-.3 -4.3,0 -1.9-.7 0,2.9 1.4,.5 -.9,2.8 -.6,4.5 .5,1.2 -.8,2.1 .1,2 1.1,.2 -1.5,3.3 -1,3.5 2.3,1.9 -.1,1.9 15.7,5.2z" fill="#0099ff"/><path d="M634.3,507.4l.7-2.3 1.4,.1 2.5-1.7 1.3-2 3.3,1.4 .3,.4 3.5-3.6 .4-2.5 1.5-.5 -1.1-1.8 1-2.4 3.1-3.5 0,.3 1.2-1.5 -1.2,.6 -1.4-2.1 -1.6-2.5 -.5-.3 -3.6,0 -1.9,.6 -4-.4 .1-3.2 -2.4-.5 .2,2.6 -2.8,1.3 -1.5,.8 2.8,2.2 -.9,1.2 -2.4,4.5 1.6,2 .3,.8 -2.7,2.9 -.3,.7 .7,3.4 -1.5,2.9 -.9,1.2 .3,2.1 1.2,.4 -.5,1.1z" fill="#0066ff"/><path d="M652.6,485.2l-.4-5.2 1.3-1.5 0-2.5 1.7,.2 .7-2.8 -1.9-3 1.5-.9 -1.4-2.8 -3.1-2 1.1-.4 -2.5-1.3 -1.2-.9 -4.6-1.1 -.7-.2 -2.5,.2 -1,.4 -.3,2.8 .3,.4 .5,2.4 -3.7,3.6 -.4,1.4 2.4,1.9 -2.6-.7 -1.5,4.4 0,2.4 2.8,2.6 -.2-2.6 2.4,.5 -.1,3.2 4,.4 1.9-.6 3.6,0 .5,.3 1.6,2.5z" fill="#0033ff"/><path d="M652.2,488.4l1.2-.6 1.6,1.1 3.5-.6 -.7-1.2 2.5,3.6 1.1,1.7 4.2-2.2 1.7,1 1.6,1.2 .7,.4 1.6,2.2 1.7-3.5 1.2-1.2 2.3-2.8 -1-.2 -1.6-2.1 1.6-1.3 1.2-3.8 -1.5-3.2 .4-3 -1.7-.8 -.8-2.1 1.5-2.7 -3.9,.3 .6,1.9 -4.4-.1 .5-1.1 -4.1,1.3 -.5,1.8 -3-.7 -1.9-.4 -1.9,2.1 -.7,2.8 -1.7-.2 0,2.5 -1.3,1.5 .4,5.2 -1.8,1.1z" fill="#0033ff"/><path d="M647.1,502.3l1.9,1.7 2-.7 1.4,3.2 .6,.5 3.6,3.2 1.2-1.3 3.4-1.8 .1,.4 4,.6 -.6-1.9 4.2-1.5 -.6,.8 2.8-.8 -1.6-1.9 .1-4 2.9-.8 -1.1-2.8 -.2-.2 -1.6-2.2 -.7-.4 -1.6-1.2 -1.7-1 -4.2,2.2 -1.1-1.7 -2.5-3.6 .7,1.2 -3.5,.6 -1.6-1.1 -1.2,1.5 0-.3 -3.1,3.5 -1,2.4 1.1,1.8 -1.5,.5 -.4,2.5 -3.5,3.6z" fill="#0033ff"/><path d="M635.6,453.6l-.8,1 .4,4 3.3,.4 1.4,2.3 .7-.3 2.5-.2 .7,.2 1.6-1.8 2.1-.4 .8-4.7 1.8-.4 -2.6-1.6 3.6,.6 .1-3.4 2.8-2.7 -.5-1.2 -2.4-2.5 -1.7,.2 .9-1.4 -3.3,1.2 -4.1-2.6 -.2-.2 -1.4-3.6 -1.2,0 -.2,1.6 -3,4.4 -1-.8 -1.8,1.9 1.4,2.2 -1.7,3 -1.4,1.2 -.7-.1 1.3,1.6z" fill="#0033ff"/><path d="M648.4,462.1l1.2,.9 2.5,1.3 .2-2.1 3.8,.2 1.3-1.5 2.7-3.1 1.3-.1 .8,.8 3.7-1.8 -2.3-3.1 -.8-1.4 1.2-1.7 -.6-1.7 0-.9 -2.1-2 .9-1.4 -2.7,.3 -1.6,1.6 -2,.4 -2.4-1.4 .5,1.2 -2.8,2.7 -.1,3.4 -3.6-.6 2.6,1.6 -1.8,.4 -.8,4.7 -2.1,.4 -1.6,1.8z" fill="#0033ff"/><path d="M615.1,535.9l4.1-.6 0-.8 1.4,3.8 1.4,.7 3.5,.2 3.2-.6 .7,.8 2,3.1 1.1-.5 2.4-1.5 1.1-1.5 1.9-.4 2.9-1.4 .9-1.6 2-2.8 -1.1,0 -1-2.4 3.6-1 1.1-4.1 -2.3-1 -.2-.9 -.2-2.5 -.4-.9 -3.5-.4 -1.8-2.9 .7,1.4 -2.1-2.3 -3.7-1.3 0-2.2 .2-1.6 -2.2-1.1 -3.8,8.4 -6,10 -7.1,6.2z" fill="#0066ff"/><path d="M633,510.7l-.2,1.6 0,2.2 3.7,1.3 2.1,2.3 -.7-1.4 1.8,2.9 3.5,.4 .4,.9 .2,2.5 1.8-1.2 1.6-.4 2.9-4.9 -.6,0 1.4-1 -.7-2.1 3.6-2.5 1-2.4 1.8,1.3 -3.6-3.2 -.6-.5 -1.4-3.2 -2,.7 -1.9-1.7 -3.3,1 -.3-.4 -3.3-1.4 -1.3,2 -2.5,1.7 -1.4-.1 -.7,2.3 -3.3,2.3z" fill="#0033ff"/><path d="M654.8,508.9l-1,2.4 -3.6,2.5 .7,2.1 -1.4,1 .6,0 -2.9,4.9 -1.6,.4 -1.8,1.2 .2,.9 4.5,.6 1.5-.4 3.4-.5 1.1,1.3 .9,1 2.1-1.3 1-.5 4.7,2.3 -.4-1.9 2.9-2.5 .1-1.4 3.1-1.1 1.7-.9 2.3-2 -2.4-2.6 -.5-2.1 .8-1.3 -1.9-2.1 -1.8-.3 1.2-3.1 .6-.8 -4.2,1.5 .6,1.9 -4-.6 -.1-.4 -3.4,1.8 -1.2,1.3z" fill="#0066ff"/><path d="M650.2,542.6l4.8-1.5 1.6,3.9 1,.2 1.2,3.2 1-.6 2.5-2.3 -1-2.9 3.2,1.2 2.1-1.5 -1.4-2.1 -2.2-2.9 .8-1.8 .4-3 -1.8-1.4 .2-2.1 1.7-1.9 -1.1-.3 -4.7-2.3 -1,.5 -2.1,1.3 -.9-1 -1.1-1.3 -3.4,.5 -1.5,.4 -4.5-.6 2.3,1 -1.1,4.1 -3.6,1 1,2.4 1.1,0 -2,2.8 1.6-.8 1.9,4.4 1.8-.6 3.1,3.7z" fill="#0099ff"/><path d="M670.6,519l-1.7,.9 -3.1,1.1 -.1,1.4 -2.9,2.5 .4,1.9 1.1,.3 -1.7,1.9 -.2,2.1 1.8,1.4 -.4,3 -.8,1.8 2.2,2.9 1.4,2.1 1.3-1.3 1.4,.2 2.4,1.4 -.2-.7 3.8-2 3.8,1.1 .9-.7 2.7-1.1 -.8-2 1.2-2.8 -1.9-1.1 -2.2-1.5 1.6-3.1 -.5-.5 -3.5-2.3 -.6-2.5 -.2-.4 -2.9-3 -1.1-1.6 .4-.8z" fill="#0033ff"/><path d="M676.1,517.9l.4,.4 2.2-1.3 .5,.2 2.4,2.3 3.7-.2 .9-2.4 3.9,0 1.9,1.7 -.4-1.9 -.4-4.8 1.5-.6 1.4-2.3 -.8-1.6 .2-.5 2-3.6 -.4-2.2 -1.9-3.8 1.6,.1 -.3-2.7 -4.1,1.5 -1.6,.7 -4.2-2.3 0-.4 -2.4,1.2 -.3-.6 -3.6-1.2 -2.5-1.1 -2.9-1 -1.7,3.5 .2,.2 1.1,2.8 -2.9,.8 -.1,4 1.6,1.9 -2.8,.8 -1.2,3.1 1.8,.3 1.9,2.1 -.8,1.3 .5,2.1 2.4,2.6 -.7,.6z" fill="#0033ff"/><path d="M671.8,518.4l1.1,1.6 2.9,3 .2,.4 .6,2.5 3.5,2.3 .5,.5 -1.6,3.1 2.2,1.5 1.9,1.1 -1.4,3.3 4.5-1 0-1.9 2.5-1.9 0-1.9 1.1,.6 0-3.4 3.9-3.2 1.6,1.3 1-2.8 -1.9-.2 -1.3-1.9 .1-.3 -1.2-2.5 -1.9-1.7 -3.9,0 -.9,2.4 -3.7,.2 -2.4-2.3 -.5-.2 -2.2,1.3 -.4-.4 -3.9-.3z" fill="#0033ff"/><path d="M705.8,513l-1.6-4.3 4.2-.2 .8-1.5 2.5-1.2 -.4-3.7 -2.2-1 .7-2.4 -.5-.2 -2.9-3.1 -2.9,2.5 -.2-1.5 -2.3-3.1 -.2,.6 -2.4,3 -3.6,.5 -1.6-.1 1.9,3.8 .4,2.2 -2,3.6 -.2,.5 .8,1.6 -1.4,2.3 -1.5,.6 .4,4.8 .4,1.9 1.2,2.5 -.1,.3 1.3,1.9 1.9,.2 .4-.2 1.1-3.6 0,.3 1.4-1.8 2-1.3 2.9-3.4z" fill="#0033ff"/><path d="M682.7,539.2l1.6,1.5 -.1,2.4 1.2,.2 2.4,1.8 3,1 2.5-1 3.9,.1 -.2,.8 3-1.2 1.3-1.1 1.6,1.9 1.6,1.6 1.9-4.7 -.5-2.2 -2.6-2.1 1.3-3.8 2.2-.1 -1.3-1.7 -.8-1.8 1.1-1.9 -.5-1.2 -4.4-1.2 -1-3.1 -1,.9 -2.2-1 -.4,.2 -1,2.8 -1.6-1.3 -3.9,3.2 0,3.4 -1.1-.6 0,1.9 -2.5,1.9 0,1.9 -4.1,.9z" fill="#0033ff"/><path d="M725.6,525.4l-3.2-1.4 -.6-3 -.3,0 -2.5-1.3 -2.1,3.2 -.6,.5 -1.5-.5 -2.2,1.5 -.8,.9 -3-.9 0,1.2 -3,3.3 -1.1,1.9 .8,1.8 1.3,1.7 -2.2,.1 -1.3,3.8 2.6,2.1 .5,2.2 -1.9,4.7 1.6,0 -.3-2.1 4.6-1.1 .1,1.1 3.7-1 1.5-2.2 2.2,.1 2.8,.7 1.4-2 2.8-1.3 2,1.1 1.6-.4 -2.3-.3 -.3-3.9 2-2.5 -.2-.7 -1-3.8 1.3,.7 .1-2.7z" fill="#0033ff"/><path d="M664.6,557.2l.2,.9 2.1-2.3 .2,.5 4,1.8 1.7,1.1 3.7,1.1 -.3-1.4 2.3-.8 .3,3.7 4.4,1.5 -1.4-4.8 2.4-2 1.9-2.9 -2.9,.6 .2-1.6 3.4-4.2 -.7-2 -.7-3.1 -1.2-.2 .1-2.4 -1.6-1.5 -2.7,1.1 -.9,.7 -3.8-1.1 -3.8,2 .2,.7 -2.4-1.4 -1.4-.2 -1.3,1.3 -2.1,1.5 -3.2-1.2 1,2.9 -2.5,2.3 2,3.8 -.3-.6 -.8,2.3z" fill="#0033ff"/><path d="M702.9,545.6l-1.6-1.9 -1.3,1.1 -3,1.2 .2-.8 -3.9-.1 -2.5,1 -3-1 -2.4-1.8 .7,3.1 .7,2 -3.4,4.2 -.2,1.6 2.9-.6 -1.9,2.9 -2.4,2 1.4,4.8 2.3,1.2 -.9,1.1 -.2,2.8 1.9,.1 3,.1 .5-.2 2.2,.8 1.1,2.3 3.9,.2 2-2.4 3.2,.4 0,3.6 2.7-2.7 .2-2.5 2.4,.1 -.2-.7 2.2-2.6 .5-2 .5-1.6 -2.7-4.2 -1.3-.2 1-2.4 -1.2-2.5 -1,.7 2-3.6 .5-.8 -1.7-1.1 -1.6,0z" fill="#0066ff"/><path d="M638.5,558.9l-.3,.8 2.7,.8 2.6-2 .5-1.5 4.6,1.2 .9,.4 3.3-1.3 2.5,.5 2,1.8 2.2-.9 1.3-3.3 -.1-2.1 .8-2.3 .3,.6 -2-3.8 -1,.6 -1.2-3.2 -1-.2 -1.6-3.9 -4.8,1.5 -.1-.3 -3.1-3.7 -1.8,.6 -1.9-4.4 -1.6,.8 -.9,1.6 -2.9,1.4 -1.9,.4 -1.1,1.5 -2.4,1.5 1.9,4.3 -1.1-.1 -.1,1.7 2.7,2.2 -.3,2.1 -.9,1.1 1.4,4.2 -1.2,2.7z" fill="#0099ff"/><path d="M609.5,559l.4,2.3 2.3,0 .6,1.9 4-1.7 2.2,.7 1.3,3.9 .5-.4 1.4,.4 4-.4 1.6,1.4 2.6,2.4 1-3 1.9-2.4 -1.5-2 2.5-.1 .6-1.8 1.2-2.7 -1.4-4.2 .9-1.1 .3-2.1 -2.7-2.2 .1-1.7 1.1,.1 -1.9-4.3 -1.1,.5 -2-3.1 -.7-.8 -3.2,.6 -3.5-.2 -1.4-.7 -1.4-3.8 0,.8 -4.1,.6 -1.2-1.7 -.9,.8 -3,10 -3,13 -.2,.4z" fill="#0066ff"/><path d="M630,568.8l-.1,3.4 4.2-.7 1.9-.4 .4,1.8 2.3-.6 1.3,4.6 4.8-.9 .8,1.1 .4,.2 2.1-.7 1.4,4.1 3.9-.4 .2-.8 2.7-2.2 -.6-1.2 2.1,.1 .3-1.9 2.2-4.9 -.2-.3 -1.8-2.2 .4-1.6 0-.6 -1.9-2.1 .4-2.4 2.3-1.5 -2.2,.9 -2-1.8 -2.5-.5 -3.3,1.3 -.9-.4 -4.6-1.2 -.5,1.5 -2.6,2 -2.7-.8 .3-.8 -3.6,1.3 -.6,1.8 -2.5,.1 1.5,2 -1.9,2.4 -1,3z" fill="#0099ff"/><path d="M661.4,572.6l2.4,2.2 4.1,2.4 0-.5 2.1,.4 .6-.8 4.6,2.9 .8,2.5 3.4-3.9 -1.2-2.7 1.1,1.2 1.4-3.5 3.1-3 2,.5 .5-1.8 -1.9-.1 .2-2.8 .9-1.1 -2.3-1.2 -4.4-1.5 -.3-3.7 -2.3,.8 .3,1.4 -3.7-1.1 -1.7-1.1 -4-1.8 -.2-.5 -2.1,2.3 -.2-.9 -3.9-3.9 .1,2.1 -1.3,3.3 -2.3,1.5 -.4,2.4 1.9,2.1 0,.6 -.4,1.6 1.8,2.2 .2,.3 -2.2,4.9z" fill="#0066ff"/><path d="M702.2,569.7l-3.2-.4 -2,2.4 -3.9-.2 -1.1-2.3 -2.2-.8 -.5,.2 -3-.1 -.5,1.8 -2-.5 -3.1,3 -1.4,3.5 -1.1-1.2 1.2,2.7 -3.4,3.9 -1.3,.5 .7,1.2 1.8,2.5 -1.9,.4 -1.6,3.1 3.8,1.4 3.1,0 -.3,3.1 -.3,1 2.3,3.1 1.9-.3 .3,3.3 .7-.2 3.8-3.3 .6-1 2.3,.4 2.4-1.9 1.3-.7 4,1.1 1-2.2 2.2-3.3 1.3-.1 -1.5-1.3 1.3-3.5 1.5-2.6 -1.3-1.1 0-3.5 1.4-.5 -1.6-1.7 -2.2-2.1 .5-.2z" fill="#00ccff"/><path d="M707.3,567.5l.2,.7 -2.4-.1 -.2,2.5 -2.7,2.7 -.5,.2 2.2,2.1 1.6,1.7 -1.4,.5 0,3.5 1.3,1.1 -1.5,2.6 -1.3,3.5 4.6-.5 1.9-.7 4,1.1 .3,1.1 1.9-.8 -.1-.4 2.7,2.3 2.1,1.5 4-2 2.3-1.5 2.1,2.4 .8,2.4 .9-1.2 1.9-1.5 2.3,1.9 -1.2-1.2 2.7-2.3 .8-2.2 -2.3-3.8 .4-2.2 2-1.2 -3.6-3.4 -.2-.1 .5-1.5 -3.1-2.8 -2.7,0 .1-2.1 -.9,0 -2.3-1.2 -1.4-3.5 -.3-.9 -3.7,.2 0,2.2 -3.4,.8 -1.8-2 -4.1-1.5 -.3,1z" fill="#0099ff"/><path d="M599.9,589.5l2.1,1.7 3.9-1.6 0-1.8 2.5,1 2,.1 1.7-2.9 2.4-1 3-2.4 2.3-1.5 .5,1.2 2.5-.8 .5-2.1 3.2,.5 -.5-2 3-1 .1-5.2 -.5-.9 1.2-1.9 -2-1.8 -1.6-1.4 -4,.4 -1.4-.4 -.5,.4 -1.3-3.9 -2.2-.7 -4,1.7 -.6-1.9 -2.3,0 -.4-2.3 -2.7-.6 -3.8,6.6 -5,10 -1,12.9z" fill="#0066ff"/><path d="M608.8,593.4l2.7,1.2 -1.5,1.9 1,1.7 4.2,2.1 1.3,3.1 -.8-.7 2.2,3 3.2,0 .4-2 2.3,.3 -.6-1.9 .9-1.8 1.2-2.1 3.7-1.4 .7,.4 1.5-3.2 .4-3 -1.4-1 .8-2.4 -1.3-2.5 -2.4,.2 .9-2.5 .7-1.6 -2.4-1.3 -3.2-.5 -.5,2.1 -2.5,.8 -.5-1.2 -2.3,1.5 -3,2.4 -2.4,1 -1.7,2.9 -2-.1 -2.5-1 0,1.8 -.7,1.6z" fill="#0099ff"/><path d="M628.6,570.8l.5,.9 -.1,5.2 -3,1 .5,2 2.4,1.3 -.7,1.6 -.9,2.5 2.4-.2 1.3,2.5 -.8,2.4 1.4,1 3.2,2.9 1.3,.6 -.2,.7 2.8,.4 1.8-1.5 4.4,3.9 -.3,1.2 2.4-.8 1.2,1.6 2.9-.9 -.9-2.1 1.6-.8 0-2.8 -.6-3.3 1.2-2.1 -.5-2.4 -2-2.3 1.2,.5 2.3-3.5 -3.9,.4 -1.4-4.1 -2.1,.7 -.4-.2 -.8-1.1 -4.8,.9 -1.3-4.6 -2.3,.6 -.4-1.8 -1.9,.4 -4.2,.7 .1-3.4z" fill="#0099ff"/><path d="M657.8,576.2l-2.1-.1 .6,1.2 -2.7,2.2 -.2,.8 -2.3,3.5 -1.2-.5 2,2.3 .5,2.4 -1.2,2.1 .6,3.3 0,2.8 -1.6,.8 1,2.3 2.6,.7 1.1-2.2 2.7-.7 1.4,.5 2.4-2.5 1.7-2.3 1.6,.6 3.2-.9 .3-2.1 3.1,.8 2.3,.5 .1-2.3 1.6-3.1 1.9-.4 -1.8-2.5 -.7-1.2 1.3-.5 -.8-2.5 -4.6-2.9 -.6,.8 -2.1-.4 0,.5 -4.1-2.4 -2.4-2.2 -3.3,1.7z" fill="#0099ff"/><path d="M651.7,602.1l-1.8,2.3 1.8,2.4 .2,.7 4.1,.5 5,5 10,5 8.2-2.5 1.4-1.4 1.1-3.7 -.3,.6 -1.3-1.4 4-3.2 .9-2.6 -2.3-3.3 1.8,.5 -.3-3.3 -1.9,.3 -2.3-3.1 .3-1 .3-3.1 -3.1,0 -3.8-1.4 -.1,2.3 -2.3-.5 -3.1-.8 -.3,2.1 -3.2,.9 -1.6-.6 -1.7,2.3 -2.4,2.5 -1.4-.5 -2.7,.7 -1.1,2.2 -1.7-.4z" fill="#0066ff"/><path d="M620.3,624.1l-.4-4.7 2.2-1.7 -1.1-1.4 -1-1.5 1.3-2.7 -1.2,.4 -1.1-4.3 2.1-2.5 -3.2,0 -2.2-3 .8,.7 -1.3-3.1 -4.2-2.1 -1-1.7 1.5-1.9 -2.7-1.2 -3.6-2.2 .7-1.6 -3.9,1.6 -2.1-1.7 -2.9-1.6 0,.1 -1,12 -3,13 3,10 5,4 12-2 7.8-.6z" fill="#0066ff"/><path d="M631.2,594l-1.5,3.2 -.7-.4 -3.7,1.4 -1.2,2.1 -.9,1.8 .6,1.9 -2.3-.3 -.4,2 -2.1,2.5 1.1,4.3 1.2-.4 -1.3,2.7 1,1.5 1.1,1.4 -2.2,1.7 .4,4.7 .5,.3 5.2-.4 7-2 10,1 5,0 5,1 -2-4 -6-3 -2-7 5-3 3.9,.5 -.2-.7 -1.8-2.4 1.8-2.3 .5-3.3 -4,1.2 -1.2-1.6 -2.4,.8 .3-1.2 -4.4-3.9 -1.8,1.5 -2.8-.4 .2-.7 -1.3-.6 -3.2-2.9z" fill="#0099ff"/><path d="M732,590.7l-1.9,1.5 -.9,1.2 -.8-2.4 -2.1-2.4 -2.3,1.5 -4,2 -2.1-1.5 -2.7-2.3 .1,.4 -1.9,.8 -.3-1.1 -4-1.1 -1.9,.7 -4.6,.5 1.8,1.5 0-.3 -.1,2.6 -.3,2.5 3,.9 1.2,3.1 -1.5,.7 1.3,.7 2.1,3.1 -.4,.8 .9,2.7 2,2.6 -1,.1 -.1,2.6 2.2,1.4 1,0 2.9-2.6 1.4-.3 2.5-.4 1.6-3.2 1.7-1 3.5,1.1 .2-1.6 2.8-1.3 3.2,1.1 -.2-1.2 3.8-2.3 .1,.2 .4-2.7 -2-2.5 -.5-.4 .5-3 -2.3-.8z" fill="#0099ff"/><path d="M691.8,605l3.9-.3 1.4,4.1 .3,.3 1.5,1.7 2.2,.5 2.9,.1 1.1,1.5 -.6,1.2 2.9,2.2 3.1,1.7 1.2-4.5 -.2-1.4 .1-2.6 1-.1 -2-2.6 -.9-2.7 .4-.8 -2.1-3.1 -1.3-.7 1.5-.7 -1.2-3.1 -3-.9 .3-2.5 .1-2.6 -1.6,.2 -2.2,3.3 -1,2.2 -4-1.1 -1.3,.7 -2.4,1.9 -2.3-.4 -.6,1 -3.8,3.3 2.8-.5 3,1.9z" fill="#0099ff"/><path d="M729.1,526.9l2.4-2.2 2.3-.1 1.3,1.2 2.8-1.3 1.4-1.5 2,1.2 2.3-.1 1.3-2.2 2.5-.2 1.7,.9 1.5-1.8 -.2-3.1 .4-1.3 .8-2.7 1.2,.8 .9-3.5 -4.2-.6 -.1-1.4 -1.2-1.9 -3.2-2.3 -1.2-1 -1.4-1.3 -1,.6 -1.6-1.6 -3.4,.1 -.3,.5 -1.2,3 -3,.6 -1.1-.7 -3.4,2.2 -1.5,1.2 -.9-.9 -3.7,1.9 -1.6,2.3 -2.1,1.3 .9,1.5 1.3,.6 -.7,2.4 -.1,2.2 2.5,1.3 .3,0 .6,3 3.2,1.4 2.5,1.5z" fill="#0099ff"/><path d="M707.2,625.9l1.3-1.5 -1.3-4.7 -.1-.1 4.4-1.1 -4.1-2.2 -2.9-2.2 .6-1.2 -1.1-1.5 -2.9-.1 -2.2-.5 -1.5-1.7 -.3-.3 -1.4-4.1 -3.9,.3 -.8-2.8 -3-1.9 -2.8,.5 -.7,.2 -1.8-.5 2.3,3.3 -.9,2.6 -4,3.2 1.3,1.4 .3-.6 -1.1,3.7 -1.4,1.4 1.8-.5 12,5 14,6.4z" fill="#0066ff"/><path d="M733.8,631.5l1.1-3.4 -.3-2.1 -.3-2 1.1,.1 .3-3.1 -.4-3.6 .7-1.1 .8-3.8 -.3-1.4 .4,.2 1-3.5 .1-3.1 .1-2.9 -3.8,2.3 .2,1.2 -3.2-1.1 -2.8,1.3 -.2,1.6 -3.5-1.1 -1.7,1 -1.6,3.2 -2.5,.4 -1.4,.3 -2.9,2.6 -1,0 -2.2-1.4 .2,1.4 -1.2,4.7 1,.3 -4.4,1.1 .1,.1 1.3,4.7 -1.3,1.5 -.2,.5 2.2,1 11.4-3.4 6.8,5.7 6.3,3z" fill="#0066ff"/><path d="M662.6,389.6l-.2,1.2 2.4,2.9 1.3,.3 -.4,2.4 1.4,2.2 .8,.4 -.9,3.1 2,1.1 2.7,1.4 -.6,3.1 .8,.4 3.8,2.6 .5,2.3 .3-.9 2.4-.5 2.6-2.5 1.5-.2 3.5,1.8 0-1.4 2-2.3 -2.6-2.5 1.3-2.2 2.6,.6 -1.8-4.5 -1.2-3 2.1-1.1 .5-4.3 -1.1,0 .7-.5 .3-4.3 -.5-1 1.4-3.4 .3-4.1 -1.9,.8 -1.9-2.6 .4-1.1 -1.8,1.1 -.1,2 -3.4-.8 -1.3-.2 -2,2.2 -2.1,.5 -1.8-1 -2.3,1.5 -1,1.9 -3.5-.8 -.4,.1 -3.6,2.7 -.2,2.7 -1.8-1.5 .5,1.3 -.7,3.1z" fill="#0066ff"/><path d="M690.2,380.8l-1.4,3.4 .5,1 -.3,4.3 -.7,.5 1.1,0 -.5,4.3 -2.1,1.1 1.2,3 1.8,4.5 -2.6-.6 -1.3,2.2 2.6,2.5 .7-.2 2.1,4 1.3-.2 2.9,2.7 2.6-1.5 -1.5,1.9 3.5-.5 .9,.4 2.5-2.2 1.2-2 3,.6 1.2-.5 1.4-2.4 3.9-.1 .2,.1 1,0 -2.3-1.5 -1.1-2.8 2.3-2 .4-2.8 -1.6-3.6 .3-.5 .1-2.8 -1.7-.8 .6-.6 -1.5-2.8 -.8-2.4 -4.6,.7 -.6-1 -1.8,.6 .1-2.4 -3.5-1.2 -3.8-2.4 -1,1.5 -1.7-.7 -.1-1.7 -2.7-.2z" fill="#0066ff"/><path d="M669.9,414.2l.1-1.5 -4,1.6 -1.9,1.4 -4.5-2.1 -.3-2.7 -2.3,1 .7,2.6 -4.4,.1 -.6,.7 -1.1,2.1 .2,1.5 -1.4,2.5 -.4,0 -1.4,0 -.8,3.1 1,1.1 3.4,.9 .1,.8 2.2,.9 -.2,1 2.9-1.2 1.8-.3 3.7,.8 2.6-1 1.1-1 4.1,1.7 .7,1.6 2.3-1.5 .4-2.8 -1.5-1.7 .2-2 2.4-.2 -.1-2.1 -2.8-1.2 -.2-2.3z" fill="#0033ff"/><path d="M654.7,430l2,3.1 -.1,.7 .3,2.8 2.7,1.5 -.1,.1 -1.3,3.1 2.2,1.4 1.8,1.8 -.9,1.4 2.1,2 .4-3.3 3.8-2.8 .7,1 3.2,.3 .5-3.3 .3-2.6 -.7-1.4 3.6,.5 .7-4.2 -2.3-1.4 -.1-2.4 -2.3,1.5 -.7-1.6 -4.1-1.7 -1.1,1 -2.6,1 -3.7-.8 -1.8,.3 -2.6,1.1z" fill="#0033ff"/><path d="M701.6,430.3l-1.1-.4 -2.1-2.7 .6-1.4 -.3-.8 -1.5-1.7 1.4-3.1 1.3-.6 -2.3-5.2 -1-.7 1.5-1.9 -2.6,1.5 -2.9-2.7 -1.3,.2 -2.1-4 -.7,.2 -2,2.3 0,1.4 -3.5-1.8 -1.5,.2 -2.6,2.5 -2.4,.5 -.3,.9 -4.4,2.2 .3,3.1 2.8,1.2 .1,2.1 -2.4,.2 -.2,2 1.5,1.7 -.4,2.8 .1,2.4 2.3,1.4 2.1-.6 1.5,2 1.2,1.2 .4-2.1 3.4-1.5 1.4,1.9 4.3,1.9 .9-1.6 3.4-1.7 1,2 2.5,2.3 1.4-.8z" fill="#0066ff"/><path d="M702.1,439.1l1.2-2.4 .1-.3 -2.3-1.9 -1.7,.6 -1.4,.8 -2.5-2.3 -1-2 -3.4,1.7 -.9,1.6 -4.3-1.9 -1.4-1.9 -3.4,1.5 -.4,2.1 -1.2-1.2 -1.5-2 -2.1,.6 -.7,4.2 -3.6-.5 .7,1.4 -.3,2.6 1.8,1.2 .7,2.5 1.7-.4 1.9,4.1 .9,1.3 1.7,2.1 2,1.2 .8,1.6 1.1,1.8 .6-1.1 4.8,.3 .9,.6 3-1.2 2.4-1 2.3,1.5 .1-1.7 .9-1.4 -.6-4.3 3.5,1.1 .7-2.3 2.6-2.1 -2-3z" fill="#0099ff"/><path d="M673.6,466.1l.6-1.7 3.3-2.3 .3-.7 3.2-.1 .1-3.2 2.6-2.3 -1.1,1.1 2-1.7 -1.1-1.8 -.8-1.6 -2-1.2 -1.7-2.1 -.9-1.3 -1.9-4.1 -1.7,.4 -.7-2.5 -1.8-1.2 -.5,3.3 -3.2-.3 -.7-1 -3.8,2.8 -.4,3.3 0,.9 .6,1.7 -1.2,1.7 .8,1.4 2.3,3.1 .4,1.2 -1.5,1.4 3.2,2.2 3.7-.1 -.7,3.9 .2,1.8z" fill="#0099ff"/><path d="M657.8,471.3l1.9,.4 3,.7 .5-1.8 4.1-1.3 -.5,1.1 4.4,.1 -.6-1.9 3.9-.3 -.9-.4 -2.4-.8 -.2-1.8 .7-3.9 -3.7,.1 -3.2-2.2 1.5-1.4 -.4-1.2 -3.7,1.8 -.8-.8 -1.3,.1 -2.7,3.1 -1.3,1.5 -3.8-.2 -.2,2.1 -1.1,.4 3.1,2 1.4,2.8 -1.5,.9 1.9,3z" fill="#0033ff"/><path d="M673,471l.8,2.1 1.7,.8 -.4,3.3 4,1 -.5-1.3 3.7-2.1 1.2,.5 1.2,.1 3.7-2.4 -.5-1 4.1,.9 .6-1.2 1.9-2.2 3,.4 .1,.4 1-.7 2-1.8 -1.6-3.5 -.9-2.8 1.6-2 -1.2-1.6 -.8-3.4 .9-.2 -2.3-1.5 -2.4,1 -3,1.2 -.9-.6 -4.8-.3 -.6,1.1 -2,1.7 1.1-1.1 -2.6,2.3 -.1,3.2 -3.2,.1 -.3,.7 -3.3,2.3 -.6,1.7 -2.4,1 2.4,.8 .9,.4z" fill="#0099ff"/><path d="M705.8,443.6l-2.6,2.1 -.7,2.3 -3.5-1.1 .6,4.3 -.9,1.4 -.1,1.7 -.9,.2 .8,3.4 1.2,1.6 -1.6,2 .9,2.8 1.6,3.5 -2,1.8 3.5-.7 .5,.2 3.3,.7 1.9-.5 3.7-.8 2,1.3 1,2 1.1-.4 .7-1.8 3.7,.4 1.7,2.2 3.9-.2 .5-2.5 2.5,0 -2-1.9 .6-.2 .6-3.3 -3.9-1.8 -2.7-1.7 1-3.3 -.7-.1 -2.3-2.3 -.6-.7 -1.5-.4 -2.8-2.7 -.3-.2 .3-2.7 -2.1-1.6 -1.8-.6 -.9-2.8 -2.3,0 .6-2.1 -4-.5z" fill="#00ccff"/><path d="M709.5,443.2l.9,2.8 1.8,.6 2.1,1.6 -.3,2.7 .3,.2 2.8,2.7 1.5,.4 .6,.7 2.3,2.3 .7,.1 -1,3.3 2.7,1.7 3.9,1.8 -.6,3.3 -.6,.2 3,2.9 2.7-1.1 -.3-4 2-.3 1.9,1.3 1-2.4 3.8-2.6 -.1-1.2 -.2-.4 -1.9-1.7 .5-2.2 .1-1 -3.1-2.8 -.4-1.4 1.3-.8 -1.9-4.1 -1.4-1.8 .5-.6 -1.8-3.9 -1.1-2.5 1.5-1.2 -.4-.5 -2.2-.3 -2.4,0 -2.5-1.1 -2.1,.9 -2.2,1.9 -1.9-.2 -2.6-1 -.4,1.1 -2.3,1.8 .2-.4 -3.4,.2 -.4,3 -2.9,2z" fill="#0099ff"/><path d="M707.8,441.1l-.6,2.1 2.9-2 .4-3 3.4-.2 -.2,.4 2.3-1.8 .4-1.1 2.6,1 .5-3.2 -.3-.8 -1.9-1.6 .6-3.9 -.6-1.2 -2.6-1.9 1.2-4.3 1.1-1.4 -2.2-1.5 -.2-4.2 .8-.9 -1.6-.8 .4-3.8 -3.9,.1 -1.4,2.4 -1.2,.5 -3-.6 -1.2,2 -2.5,2.2 -.9-.4 -3.5,.5 1,.7 2.3,5.2 -1.3,.6 -1.4,3.1 1.5,1.7 .3,.8 -.6,1.4 2.1,2.7 1.1,.4 -2.2,4.8 1.7-.6 2.3,1.9 -.1,.3 -1.2,2.4 1.7,1.5z" fill="#00ccff"/><path d="M736.2,404.9l-1.8-2.1 -.3,0 .1-2.6 -2.4-3.2 0-.6 1.1-2.1 -2.9-2 -1.2-.6 1.9-3.3 -1.8-2.9 -2.2-.4 -3.1-.6 -.5-.4 -3.3,2.6 -1.5,.9 -1.7-.8 -2.8,1.7 -1.4,1.2 -.6,.6 1.7,.8 -.1,2.8 -.3,.5 1.6,3.6 -.4,2.8 -2.3,2 1.1,2.8 2.3,1.5 -1,0 -.1,1.3 3,.1 1.8-.4 2.9,.7 3.9,.3 1.2-.6 3.2,.7 -.3,1.6 2.3-.6 1.4-2.1 2-.9z" fill="#00ccff"/><path d="M733.7,408.1l-1.4,2.1 .8,3.1 -.5,.5 -1.6,2.1 .5,.7 1.2,3 -1,4.6 -1.1-.2 1,2.8 -.1,1 -2.1,.9 -.5,3.9 1.2,2.4 2.2,.3 .4,.5 2.3-.8 1.3,1.4 1.9-.8 2.5-2 .2,.5 4.1,.4 -.7-2.3 4.2-1 .3,1 2.6-1.3 2.1-2.1 1.6,.6 .2-.5 -.5-1.1 -2.5-2.6 .4-.8 1.1-3 -2.6-2.3 -1.4,0 .9-3 -1.3-2.1 -1.2-1.7 .9-3.4 -1.5-.6 -.8-.9 -.7,.2 -3.2-1.2 -2,.2 -1.7,1.9 -1.2,.5 -2.3-1.8z" fill="#0099ff"/><path d="M738,409l1.2-.5 1.7-1.9 2-.2 3.2,1.2 .7-.2 -.8-2.5 2.9-3.2 1-.6 -2-2.6 .8,.2 2.8-2.6 -1-4.4 -2.4-.5 1.7-3.6 2.1-.3 -1.8-1 -.7-2.6 .1-.4 -1.8-1 -.4-2.1 -3.4,.1 -2.4,2.2 -3.3-1.1 -1.4-3.7 -1.3,.2 -1.4,2.5 -2.3-1 -.5,.8 0-1 -4.2,1.8 -.4,4.1 2.2,.4 1.8,2.9 -1.9,3.3 1.2,.6 2.9,2 -1.1,2.1 0,.6 2.4,3.2 -.1,2.6 .3,0 1.8,2.1 -.5,2.3z" fill="#00ccff"/><path d="M763.5,431l-1.3-2.3 1.2,.1 1.3-2.6 2.5-3.6 .9-.9 -.7-1.3 1.2-.9 1.2-4.7 3,0 -.3-1.8 .3-.2 .6-4.5 1.3,1 -1.1-2.3 -4.1-.3 -2.4-1.8 1,.5 -1.6-1.1 -1.4,.1 -2.5,2.1 -1.3,.3 -2.2-1.3 -2.3,1.1 -1.2,1.7 -3.6-1 -.2-.7 -4.2,1.7 1.5,.6 -.9,3.4 1.2,1.7 1.3,2.1 -.9,3 1.4,0 2.6,2.3 -1.1,3 -.4,.8 2.5,2.6 .5,1.1 -.2,.5 3.6,3.6 2.5,0 .2,0z" fill="#00ccff"/><path d="M761.2,435.6l.2-2.6 -.2,0 -2.5,0 -3.6-3.6 -1.6-.6 -2.1,2.1 -2.6,1.3 -.3-1 -4.2,1 .7,2.3 -4.1-.4 -.2-.5 -2.5,2 -1.9,.8 -1.3-1.4 -2.3,.8 -1.5,1.2 1.1,2.5 1.8,3.9 -.5,.6 1.4,1.8 1.9,4.1 -1.3,.8 .4,1.4 3.1,2.8 -.1,1 -.5,2.2 1.9,1.7 .2,.4 .8,.6 3.1-2 .4-3.7 .2,1.1 1-.3 1.4-4.4 4.3-.2 .7,.5 2.5-4.3 -1.1-2 2.4,.4 .5-2.6 2.4-2.3 1.6-.2 2-1.1 -.8-1.2 .4-3.4z" fill="#00ccff"/><path d="M763.6,434.7l4.3,2.3 1.8,.8 3.4-2.1 .2-1.1 3.2,1.2 1.4,.3 1.9-3 3.2,.4 .4,.8 3-2.8 .4-2.6 .9-.1 1-3.1 1.4-2.7 -.2-1.5 -3,.3 -1.9-2.4 .3,.3 -1.4-3 -2.2-.8 0-1.9 -.5-1.8 -3.3-.3 -.8-1.7 -2.7-.7 -1-1.2 -.6,4.5 -.3,.2 .3,1.8 -3,0 -1.2,4.7 -1.2,.9 .7,1.3 -.9,.9 -2.5,3.6 -1.3,2.6 -1.2-.1 1.3,2.3 -2.1,2 -.2,2.6 1.2-.5z" fill="#00ccff"/><path d="M769.3,383.9l1,1.6 .3,5.4 -1.2,.6 0,1.8 .9,1.2 -1.1,1.5 -1.6,3.2 .3,1.9 .2,4.3 -1-.5 2.4,1.8 4.1,.3 1.1,2.3 -1.3-1 1,1.2 2.7,.7 .8,1.7 1.9-2.6 -.2-4.2 3.8,.8 2-.3 2.6-4.1 .7-.8 0,1.1 1.4-2.8 -2.2-.2 1.2-2 -2.5-1.3 -4.7-3.3 .6-.2 .6-3.1 -4.7,1.5 -2.5-2.4 1,.4 -1.8-2 -3.2-2.5 -1.6-1z" fill="#0099ff"/><path d="M791.9,397l-1.8,2 -1.4,2.8 0-1.1 -.7,.8 -2.6,4.1 -2,.3 -3.8-.8 .2,4.2 -1.9,2.6 3.3,.3 .5,1.8 0,1.9 2.2,.8 1.4,3 -.3-.3 1.9,2.4 3-.3 .2,1.5 1.6,.2 2.6,.5 2.8-2.9 .6-2.1 3,1.1 -.3-.5 -.9-4.8 1.8-.5 .3-3.7 -2.9-2.1 -.2-1.3 .3-.7 -1.6-3.4 1.2-.2 -.8-2.8 -.4-.1 -4.2-2.6z" fill="#0099ff"/><path d="M786.8,428.9l-.4,2.6 -3,2.8 -.4-.8 -3.2-.4 -1.9,3 .3,1.7 2.3,2.5 .6,.2 -.3,3 2.5,1.3 1.4,1.4 -1.8,3.3 1.2-1.1 4.5,.7 1.6,1.4 2.4,2.8 2.6-1.7 .4-1.9 3.7-.5 .5-1 3.6-1.7 .2-.5 2.9-.4 0-.2 -3.9-.7 -3.1-2.7 1-1.2 -.5-3.8 -3.6,.7 -1.9-2.2 .2-1 -1.4-.8 -2.5-.7 -1.3-.7 -1.1-3.6z" fill="#0099ff"/><path d="M780.4,450.2l.4,0 -1.4,3.7 .3,1.1 -3.8-.3 -1.1,2.2 -2.5,2 -1.4,1.6 -1.1,1.4 1.9-.1 .2,.1 3.9,1.2 .8-1 2.4-1.2 2,1.3 .8,.9 3.1-1.5 -.1-.7 3.3,1.3 .3-.5 2.8-2.3 .5-2.8 2.2,.3 .2-1.2 -2-2.1 .5-.3 -2.4-2.8 -1.6-1.4 -4.5-.7 -1.2,1.1z" fill="#0066ff"/><path d="M762,438.5l.8,1.2 -1,2.1 2.1,2.9 1.8,1.1 -1.8,2.1 1.6,2.1 2.7,.6 -1.5,2.5 .6,3 2.7,.2 -.6,1.6 .4,4 1.1-1.4 1.4-1.6 2.5-2 1.1-2.2 3.8,.3 -.3-1.1 1.4-3.7 -.4,0 2.5-.7 1.8-3.3 -1.4-1.4 -2.5-1.3 .3-3 -.6-.2 -2.3-2.5 -.3-1.7 -1.4-.3 -3.2-1.2 -.2,1.1 -3.4,2.1 -1.8-.8 -4.3-2.3 -1.2,.4z" fill="#0066ff"/><path d="M770.5,470l1.9,1.9 2.2-.8 1.2-.9 .5,1.9 3,1.6 1.3-1.2 4.7-1 1.2,1.5 3.4,1 .5-1.4 2-.7 1.8,1.7 2,1.3 -1.6-2.7 1.7-2.8 -1.3-.4 -2.2-2.8 .7-3.9 -.9-.9 -1.4-2 -2.8,2.3 -.3,.5 -3.3-1.3 .1,.7 -3.1,1.5 -.8-.9 -2-1.3 -2.4,1.2 -.8,1 -3.9-1.2 -.2-.1 -2.2,4.6 -1.3,1.1 -.7,1.5z" fill="#0033ff"/><path d="M794.2,473.6l-1.8-1.7 -2,.7 -.5,1.4 -3.4-1 -1.2-1.5 -4.7,1 -1.3,1.2 -3-1.6 -.5-1.9 -1.2,.9 -2.2,.8 -1.9-1.9 -4.6-1.6 1.2,2.5 -2.1,4 -1.5,1 -.6,1.7 1.8,.1 1.7,3.1 -.5,1.9 1.2,.1 1.3,2.7 -1.1,1.7 3.9,.6 .1-1.9 3-1.5 2.8,1 .6-1.4 3.4-2.6 1.8,.8 1.6,.1 3-1.7 1.5,.7 2.4,.4 2.1-2.9 1.8-1.1 2.8,.6 1.3-2.1 -1.2-1.6 -2,.3z" fill="#0066ff"/><path d="M760.8,440.8l-1.6,.2 -2.4,2.3 -.5,2.6 -2.4-.4 1.1,2 -2.5,4.3 -.7-.5 -4.3,.2 -1.4,4.4 -1,.3 -.2-1.1 -.4,3.7 -3.1,2 -.8-.6 .1,1.2 -.4,2.9 4-.6 2.4,2.6 1.4-2.1 1.1,1.1 -.1,2.8 4.4,.1 1.3,2.6 2.3-1.5 .4,.5 2.1,1.7 4.5,1.4 .9,2 2.1-4 -1.2-2.5 1.5,.6 .8-1.5 1.3-1.1 2.2-4.6 -1.9,.1 -.4-4 .6-1.6 -2.7-.2 -.6-3 1.5-2.5 -2.7-.6 -1.6-2.1 1.8-2.1 -1.8-1.1 -2.1-2.9 1-2.1z" fill="#00ccff"/><path d="M729.9,469.4l-1.7,3.6 -1.1,1.1 1.5,3.1 .7,2.8 -1.7-.1 2.2,2.9 4.1,.6 .2,1.8 -.3,2.4 2.1,0 1,2.7 3.4,.1 1.1-.6 1.4-3 4.2-.5 .6,.6 2.1-2.2 2.2-1.3 1.5,1 3.3-1.4 0-1.8 2.1,.9 3.3-.8 .2-3.1 2.4-.5 -1.8-.1 .6-1.7 1.5-1 -.9-2 -4.5-1.4 -2.1-1.7 -.4-.5 -2.3,1.5 -1.3-2.6 -4.4-.1 .1-2.8 -1.1-1.1 -1.4,2.1 -2.4-2.6 -4,.6 .4-2.9 -3.8,2.6 -1,2.4 -1.9-1.3 -2,.3 .3,4 -2.7,1.1z" fill="#00ccff"/><path d="M707.3,494.6l3.3,.7 .7-2.4 3.6-3.1 .8,.3 1.7-1 1.3-3.9 -.2-.4 2.7,1.5 .2-2.9 3.5-3.2 2,1.1 2.4-1.3 -.7-2.8 -1.5-3.1 1.1-1.1 1.7-3.6 -3.8,.1 -.5,2.5 -3.9,.2 -1.7-2.2 -3.7-.4 -.7,1.8 -1.1,.4 -1-2 -2-1.3 -3.7,.8 -1.9,.5 -3.3-.7 -.5-.2 -3.5,.7 -1,.7 1.6,2.1 2,2.1 -1.3,1.3 -.1,.4 1.4,4.1 -1.1,.5 -.1,3.7 2.5,3.1 -.4,1.8 -2,1.8 .8,2.9 .1-.8 2.3,3.1 .2,1.5 2.9-2.5z" fill="#0099ff"/><path d="M676.6,480.1l-1.2,3.8 -1.6,1.3 1.6,2.1 1,.2 -2.3,2.8 -1.2,1.2 2.9,1 2.5,1.1 3.6,1.2 .3,.6 2.4-1.2 0,.4 4.2,2.3 1.6-.7 4.1-1.5 .3,2.7 3.6-.5 2.4-3 .1-.1 -.8-2.6 2-1.8 .4-1.8 -2.5-3.1 .1-3.7 1.1-.5 -1.4-4.1 .1-.4 1.3-1.3 -2-2.1 -1.6-2.1 -.1-.4 -3-.4 -1.9,2.2 -.6,1.2 -4.1-.9 .5,1 -3.7,2.4 -1.2-.1 -1.2-.5 -3.7,2.1 .5,1.3 -3.8-1z" fill="#0099ff"/><path d="M800.2,477.5l-.8-1.3 -1.3,2.1 -2.8-.6 -1.8,1.1 -2.1,2.9 -2.4-.4 -1.5-.7 -3,1.7 -1.6-.1 -1.8-.8 -3.4,2.6 -.6,1.4 -2.8-1 -3,1.5 -.1,1.9 -3.9-.6 .6,1 2,1.4 4.2,1.7 .3,.9 1.6-.8 0,1 3.4,1.1 .9,.6 2.1-1.4 .2-2.3 3.4-.8 .6-1.6 3.6-2.3 1.5,.3 2.3,.1 2.3-3.2 .5-1.7 2.6,1.7 -.4-.7 2.7-3.8 -1.1-2.7z" fill="#00ccff"/><path d="M794.1,455.7l-.2,1.2 -2.2-.3 -.5,2.8 1.4,2 .9,.9 -.7,3.9 2.2,2.8 1.3,.4 -1.7,2.8 1.6,2.7 2-.3 1.2,1.6 .8,1.3 .4-1.8 1.8,1.1 1.4,.4 4.1-1.9 .6,0 2.1,0 2.5-3.3 1.8-1.5 -1.9-3.4 3.3-1.3 -.5-3.7 -2.3-2.2 2-3.4 1.9-.6 -2.5-1.9 -.7-1.5 .2-1.1 0-1.3 -3.9-3.2 -1.5,1.4 -1.4-2.3 -1.2,2.1 .1-2.5 -2.9,.4 -.2,.5 -3.6,1.7 -.5,1 -3.7,.5 -.4,1.9 -3.1,2z" fill="#0099ff"/><path d="M811.2,421.9l-4.2-1.2 -1-.7 -2-1.1 0-1.5 -3.6,1.9 .3,.5 -3-1.1 -.6,2.1 -2.8,2.9 -2.6-.5 -1.6-.2 -1.4,2.7 -1.2,3.7 .9-.7 1.1,3.6 1.3,.7 2.5,.7 1.4,.8 -.2,1 1.9,2.2 3.6-.7 .5,3.8 -1,1.2 3.1,2.7 3.9,.7 -2.9-1.6 1.2-3.9 2.7-.6 .4-1.8 0,.1 -.8-4.9 3.1-1.9 1.3-3 -2,1.1 2.1-2.7 .9-2.1 .7-3.3z" fill="#00ccff"/><path d="M714.2,502.6l.9,1.9 -.5,2.3 1.2,2 2.5,.8 1.4,2.1 1.6-2.3 3.7-1.9 .9,.9 1.5-1.2 3.4-2.2 1.1,.7 3-.6 1.2-3 .3-.5 3.4-.1 -2.3-2.2 1-1 -.3-5 -2.1-1.3 .8-1.7 -1-2.7 -2.1,0 .3-2.4 -.2-1.8 -4.1-.6 -1.6-2.2 -1.3,.7 -2-1.1 -3.5,3.2 -.2,2.9 -2.7-1.5 .2,.4 -1.3,3.9 -1.7,1 -.8-.3 -3.6,3.1 -.7,2.4 -3.3-.7 -.9,.8 2.9,3.1 .5,.2 -.7,2.4 2.2,1z" fill="#00ccff"/><path d="M736.1,492l2.1,1.3 .3,5 -1,1 2.3,2.2 1.6,1.6 1-.6 1.4,1.3 1.2,1 3.2,2.3 1.2,1.9 .1,1.4 4.2,.6 0-1.8 2.1,.5 .4,.7 3.3-2.1 -.8-4.3 2.6,0 2.4-2 -1.6-1.4 1.6-4.8 0-.1 3.5-1.9 0-.7 -.4-4.7 1.1-.2 -.6-1 1.1-1.7 -1.3-2.7 -1.2-.1 .5-1.9 -1.7-3.1 -2.4,.5 -.2,3.1 -3.3,.8 -2.1-.9 0,1.8 -3.3,1.4 -1.5-1 -2.2,1.3 -2.1,2.2 -.6-.6 -4.2,.5 -1.4,3 -1.1,.6 -3.4-.1z" fill="#00ccff"/><path d="M783.5,496.4l-1.4,1.2 .4,2.1 5.1,2.7 .9-1.2 -1.5,2.6 3.7,.8 .9-1.7 -.7,.1 4-2.5 .1-2.3 2.2-3.4 -1.9,1.2 2.4-3.3 1.2-1.9 2.3-3.1 -.1-1.9 1.5-1.2 1.4-4.8 -2.3-1.4 -2.7,3.8 .4,.7 -2.6-1.7 -.5,1.7 -2.3,3.2 -2.3-.1 -1.5-.3 -3.6,2.3 -.6,1.6 -3.4,.8 -.2,2.3 -2.1,1.4z" fill="#0099ff"/><path d="M788.8,511.7l1-.2 .2-2.2 .7-2.9 0-1.8 -3.7-.8 1.5-2.6 -.9,1.2 -5.1-2.7 -.4-2.1 1.4-1.2 -4.1-2.9 -3.4-1.1 0-1 -1.6,.8 -.3-.9 -4.2-1.7 -2-1.4 -1.1,.2 .4,4.7 0,.7 -3.5,1.9 0,.1 -1.6,4.8 1.6,1.4 -2.4,2 -2.6,0 .8,4.3 2.4-1.9 2.6,2.2 -.3,2.3 1.1,.5 4.6,2.1 1.7-1.7 2.4,1.6 -.7,1.2 3.9,3 2-.7 1.6,1.8 2.3-2.4 3.5-.2 .2-2.1 2.5-1.5z" fill="#00ccff"/><path d="M816.3,504.3l.1-.5 -4.4,1.8 -1.8,.1 -2.3-.8 -3.4,1.5 -1.8,1.3 -2.7-1.8 -.6-1.3 -3.4,1.4 -.3,.4 -1.4-1.1 -3.6,1.1 -.7,2.9 -.2,2.2 -1,.2 .5,.8 -.3,3.2 2.8,.4 2.9,3.5 .1,.4 .8,1.6 2.7,0 2.3,1.4 1.4-.4 .4,3.7 .5,.4 3.6-2.4 1.8-3.2 2.4,0 2.4,.4 .5-1.8 3.1-.8 .4,.6 3.5-2 1-2.7 -.4-.9 .1-1.4 .7-1.5 -.7-1.4 -.1-3.5 -2,.2z" fill="#00ccff"/><path d="M821.2,506.1l.8-1.9 3.1,.6 .8-.7 2.5-3.3 .3-2.1 -2.1-3 2.1,.9 1.4-1.7 -1.3-3.5 1.1-2.9 1.4-2.3 0-2.2 .2-1.8 -1.6-.8 -1.1-.8 -1.8-3.3 -4.1,.3 .2-.7 -1.9-.3 -.4,.5 -4.3-4.5 -2.8,.6 -.6-1.2 -2.5,3.3 -2.1,0 -.6,0 -4.1,1.9 -1.4-.4 -1.8-1.1 1.1,2.7 2.3,1.4 -1.4,4.8 -1.5,1.2 3.3,1.8 1.4,2.2 -.4-.7 1.7,2.2 2.2,.3 .9,2.4 1.8,2.7 1.6,.4 -.4,3 1.4,.6 4.1,3.1 .7,2.5z" fill="#00ccff"/><path d="M821.3,509.6l.7,1.4 -.7,1.5 -.1,1.4 .4,.9 1.5,3.1 -.7,1.3 2.2,1 1.9,2.9 -.4,.6 2,3.8 3.5,1.7 -.2,1.3 2.4-2.1 .3-1.4 4.1,1.1 2-1.3 .9-2.2 3.3,.4 1.4-1.5 2.7-3.1 1.8,.2 .7,.7 4.1-1.6 1,.1 .8,.5 3.3-3.1 -3-2.4 .8-3.1 -.1-.5 -3.7-2.4 -1.9,2.2 -1-2 -1.1-1.9 -2.3-.7 -3.3-.2 -2.5,1.6 -1.7-1.4 -.4-3.7 -2.2,1 -2.3,1.8 -3.7-1.9 -1.4-1.5 -1.8-1.1 -.2-.2 -2.5,3.3 -.8,.7 -3.1-.6 -.8,1.9z" fill="#00ccff"/><path d="M701.2,516.9l-2,1.3 -1.4,1.8 0-.3 -1.1,3.6 2.2,1 1-.9 1,3.1 4.4,1.2 .5,1.2 3-3.3 0-1.2 3,.9 .8-.9 2.2-1.5 1.5,.5 .6-.5 2.1-3.2 .1-2.2 .7-2.4 -1.3-.6 -.9-1.5 2.1-1.3 -1.4-2.1 -2.5-.8 -1.2-2 .5-2.3 -.9-1.9 -2.9-.5 .4,3.7 -2.5,1.2 -.8,1.5 -4.2,.2 1.6,4.3 -1.7,.5z" fill="#0033ff"/><path d="M749.6,523.2l1.1,1 2.1,2.2 .7-.7 2,1.2 1.1,1 5.2,2.3 .4,2 1-2.1 .8,2.5 3.3-.9 4,3.5 -.2,1.2 2.3,.1 .9,.1 0-2 3-.6 .5-2.5 -.5-.8 -.1-4 .8-.9 2.3-2.8 -2.3-2.7 2.8-1.6 -1.6-1.8 -2,.7 -3.9-3 .7-1.2 -2.4-1.6 -1.7,1.7 -4.6-2.1 -1.1-.5 .3-2.3 -2.6-2.2 -2.4,1.9 -3.3,2.1 -.4-.7 -2.1-.5 0,1.8 -.9,3.5 -1.2-.8 -.8,2.7 -.4,1.3 .2,3.1z" fill="#00ccff"/><path d="M778,525.8l-.8,.9 .1,4 .5,.8 -.5,2.5 -3,.6 0,2 1.7,2.7 -.9,.7 3.6-1 .3,2 3,1.1 1.4-1.6 4.4-.9 1.8,.8 1.6-.1 3.3-.9 .8,1.1 2.1,1.8 -.2-.9 4-2.1 .5-1 .5-1.4 -.4-2.4 .3-.3 .5-4.5 -.4-3.6 .2,.2 -.4-3.7 -1.4,.4 -2.3-1.4 -2.7,0 -.8-1.6 -.1-.4 -2.9-3.5 -2.8-.4 .3-3.2 -2.5,1.5 -.2,2.1 -3.5,.2 -2.3,2.4 -2.8,1.6 2.3,2.7z" fill="#00ccff"/><path d="M813.1,544.8l1.4-.4 2.3-2.4 2.3-.3 -.1,1 3.9-1.7 1-1.8 2,.7 1.6-.6 2-2.7 1.7-1.8 1.1-2 -1-.5 .1-1.8 .2-1.3 -3.5-1.7 -2-3.8 .4-.6 -1.9-2.9 -2.2-1 .7-1.3 -1.5-3.1 -1,2.7 -3.5,2 -.4-.6 -3.1,.8 -.5,1.8 -2.4-.4 -2.4,0 -1.8,3.2 -3.6,2.4 -.5-.4 -.2-.2 .4,3.6 -.5,4.5 -.3,.3 .4,2.4 -.5,1.4 -.5,1 -.7,.1 1.5,2.8 4.4,.4 .6,1.6 1.3,1 1.5-1.5 1,.5z" fill="#0099ff"/><path d="M840.1,548.2l1.4-.5 .7-1.9 1.5,.9 2.7,1.6 2.7,.7 2.7,.6 1-.5 1.4-.4 1.4,1.1 3.8-1.5 .9-1.2 3.8,.3 -1.1-2.3 -2.7-2.8 .5-1.4 .4-3.3 -1.6-3.1 1-1.4 1.5-2.4 -1.8-2.3 -1,.7 1.3-3.9 -1-.2 -1-2.6 1.9-3.4 -.1-1.7 -.2-.1 -3.3,3.1 -.8-.5 -1-.1 -4.1,1.6 -.7-.7 -1.8-.2 -2.7,3.1 -1.4,1.5 -3.3-.4 -.9,2.2 -2,1.3 -4.1-1.1 -.3,1.4 -2.4,2.1 -.1,1.8 1,.5 -1.1,2 -1.7,1.8 1.8,1.3 2.6,3 .2,.2 1.1,3 2.8,.5z" fill="#00ccff"/><path d="M728,529.6l-1.3-.7 1,3.8 .2,.7 -2,2.5 .3,3.9 2.3,.3 -.3,2.8 1.2,.2 4,2.1 1.6-.2 -1.8,1.4 2.9,.6 .1,1.6 2.3-.3 1.9-2.8 2.6,.6 .8,.7 3.6-3.6 -.3-2.5 .4-1.2 .9-.7 .2-3.6 1.9-1.8 -.4-3.2 2.5-2.1 .2-1.7 -2.1-2.2 -1.1-1 1-2.4 -1.5,1.8 -1.7-.9 -2.5,.2 -1.3,2.2 -2.3,.1 -2-1.2 -1.4,1.5 -2.8,1.3 -1.3-1.2 -2.3,.1 -2.4,2.2 -1,0z" fill="#0066ff"/><path d="M750.5,533.4l-1.9,1.8 -.2,3.6 -.9,.7 -.4,1.2 .3,2.5 -.8,.6 3.4-.5 2,3.9 2.9,.3 1.4-1.4 -.3,1.7 3.1-.4 1.4,1.9 4.1,2.7 .2-2.6 3.7-1.8 1.6,.4 .8-2 2.5-2 .7,1 1.7-.2 -.7-4.8 .9-.7 -1.7-2.7 -.9-.1 -2.3-.1 .2-1.2 -4-3.5 -3.3,.9 -.8-2.5 -1,2.1 -.4-2 -5.2-2.3 -1.1-1 -2-1.2 -.7,.7 -.2,1.7 -2.5,2.1z" fill="#00ccff"/><path d="M707.8,548.3l-.5,.8 -2,3.6 1-.7 1.2,2.5 -1,2.4 1.3,.2 2.7,4.2 -.5,1.6 -.5,2 .3-1 4.1,1.5 1.8,2 3.4-.8 0-2.2 3.7-.2 .3,.9 2.5-1.2 .4-3.9 .3-.6 .1,0 2.7-3.8 1.4-1.5 2.2-2.1 -1.4,.7 2-3.8 -.1-2.5 1.8-1.4 -1.6,.2 -4-2.1 -1.2-.2 .3-2.8 -1.6,.4 -2-1.1 -2.8,1.3 -1.4,2 -2.8-.7 -2.2-.1 -1.5,2.2 -3.7,1 -.1-1.1 -4.6,1.1 .3,2.1z" fill="#0099ff"/><path d="M737.8,579.7l1.8-2.9 -.3-1.6 2.7,1.5 0-1.3 3.4-4.2 1.4-.8 2.7,1.1 2.5-2.8 -1.8-2 -3.1-2.9 .3-.4 -.6-2.2 -2.2-2.7 .4-.3 -.1-2.5 -2.2-2.3 -.6-.4 -1-2.7 -2.6-2 -2.3,.3 -.1-1.6 -2.9-.6 .1,2.5 -2,3.8 1.4-.7 -2.2,2.1 -1.4,1.5 -2.7,3.8 -.1,0 -.3,.6 -.4,3.9 -2.5,1.2 1.4,3.5 2.3,1.2 .9,0 -.1,2.1 2.7,0 3.1,2.8 -.5,1.5 .2,.1 3.6,3.4z" fill="#0066ff"/><path d="M743.8,546.8l-.8-.7 -2.6-.6 -1.9,2.8 2.6,2 1,2.7 .6,.4 2.2,2.3 .1,2.5 -.4,.3 2.2,2.7 .6,2.2 -.3,.4 3.1,2.9 1.8,2 1.3-.6 2.8,1 -.6-.4 4.2-2.4 -.2-2.2 -1.2-1.8 1.7,.3 .4-4.5 1.1-2.4 .1-3.1 .5-.5 2.5-.1 -4.1-2.7 -1.4-1.9 -3.1,.4 .3-1.7 -1.4,1.4 -2.9-.3 -2-3.9 -3.2,.5z" fill="#0099ff"/><path d="M781.6,560.6l-1.3-1.4 .3-.7 -1.9-2.7 -.6-1.2 .4-1.6 -2.6-3.6 -1-.8 1.5-.7 -2.3-2.9 -.7-1 -2.5,2 -.8,2 -1.6-.4 -3.7,1.8 -.2,2.6 -2.5,.1 -.5,.5 -.1,3.1 -1.1,2.4 -.4,4.5 -1.7-.3 1.2,1.8 .2,2.2 -4.2,2.4 3.2,2.1 2.9-.7 1.1,.9 1.4,1.9 1,.6 1.4,3.7 2.6-.5 .1-2.6 3.4-.7 1,.1 1.3-2.4 1.4-2.2 1.1,.7 3.6,.2 -.2-1.2 1.1-4.7 1.7,.6z" fill="#0066ff"/><path d="M784.6,565.3l4-.9 -.1-2.7 2.9-.3 2,.4 1.4-2.2 2.4-1.4 -1.1-.1 .2-2.7 3.3-.9 -1.2-4.2 -.8-.9 2.5-1.4 1-2.4 .4-2.1 -.9-3.9 -3.4,1.8 .2,.9 -2.1-1.8 -.8-1.1 -3.3,.9 -1.6,.1 -1.8-.8 -4.4,.9 -1.4,1.6 -3-1.1 -.3-2 -3.6,1 .7,4.8 -1.7,.2 2.3,2.9 -1.5,.7 1,.8 2.6,3.6 -.4,1.6 .6,1.2 1.9,2.7 -.3,.7 1.3,1.4 2,3.9z" fill="#0099ff"/><path d="M798.4,561.3l-.3,.7 3.3,3.3 2.2-.7 -.2,1.9 2-.7 2.7,1.6 .2,.6 1.5-1.1 .9-3.3 2.1-1.3 1.6,1 2.3-1 -.8-1.2 -1.8-3.9 1-1.7 -.5-2.1 -3-2.9 0-1.6 .9-3 -1.7-1.7 -1-.5 -1.5,1.5 -1.3-1 -.6-1.6 -4.4-.4 -1.5-2.8 1,4.1 -.4,2.1 -1,2.4 -2.5,1.4 .8,.9 1.2,4.2 -3.3,.9 -.2,2.7 1.1,.1z" fill="#0066ff"/><path d="M812.5,545.9l-.9,3 0,1.6 3,2.9 .5,2.1 -1,1.7 1.8,3.9 .8,1.2 .6-.5 1.8-1.2 2,2.2 3.7,2.5 2.5-1.8 2.5-1.4 -1-.1 1.7-1.3 -1.4-.1 2.8-4.3 2.4-1.6 -1.9-2.1 1.6-.2 .1-3.6 2.6-2.3 1.3-1.9 -2.8-.5 -1.1-3 -.2-.2 -2.6-3 -1.8-1.3 -2,2.7 -1.6,.6 -2-.7 -1,1.8 -3.9,1.7 .1-1 -2.3,.3 -2.3,2.4 -1.4,.4 -2.3-.6z" fill="#0099ff"/><path d="M830.6,567.5l3.6,.7 .1,1.2 2.6,.6 .3-.8 3-.8 .9,1.4 2.7,.2 .2-1.8 3-1 .1,.2 3.3-1.7 .3-3.1 2.7-.1 -.8-2.5 -.9-1.3 3.5-1.9 .5-3.7 -2.9-1.1 1.4-3.3 -1.4,.4 -1,.5 -2.7-.6 -2.7-.7 -2.7-1.6 -1.5-.9 -.7,1.9 -1.4,.5 -2.1-3.6 -1.3,1.9 -2.6,2.3 -.1,3.6 -1.6,.2 1.9,2.1 -2.4,1.6 -2.8,4.3 1.4,.1 -1.7,1.3 1,.1 -.9,2.6z" fill="#0099ff"/><path d="M781.9,563.9l-1.1,4.7 .2,1.2 2.5,1.4 0,.1 .2,3.2 3.8-.3 2.1,1.2 -1.2,2.3 1.5,1.3 2.8,1.3 .4-.9 1.5-1.9 2.7,.3 1.3-.7 3.7-3.4 .1-1.6 2.9,.7 1.2-1.1 2.7-1.8 -1.1-2.5 -2.7-1.6 -2,.7 .2-1.9 -2.2,.7 -3.3-3.3 .3-.7 -1.2-3.1 -2.4,1.4 -1.4,2.2 -2-.4 -2.9,.3 .1,2.7 -4,.9 -1-.8z" fill="#0033ff"/><path d="M809.2,569.9l-2.7,1.8 1.3,2.6 3.2,.3 .1,2.4 -.3,2.2 2.4,.3 .2,2.9 3.4-.5 .8,.9 3.5-1.8 1-2.8 1.2,.1 1.9,.3 .6-1.9 3.6-.6 -1.9-1.8 .9-.5 3-4.8 -.8-1.5 -1.7-2.8 .9-2.6 -2.5,1.4 -2.5,1.8 -3.7-2.5 -2-2.2 -1.8,1.2 -.6,.5 -2.3,1 -1.6-1 -2.1,1.3 -.9,3.3 -1.5,1.1z" fill="#0033ff"/><path d="M837.4,592.8l.8-2.2 1.6-2.9 2.6,.5 2.7-.4 -.1-2.1 .5-2.4 -1.1-2.8 1.2-2.9 -1,.3 -1.8-3.5 .9-1.6 -2.6-3 -.9-1.4 -3,.8 -.3,.8 -2.6-.6 -.1-1.2 -3.6-.7 .8,1.5 -3,4.8 -.9,.5 1.9,1.8 1.7,1.4 -1.5,1.1 .5,3 2.1,.1 -.2,2.5 .1,1.5 2.3,.8 .3,3.2 -.9,.4z" fill="#0066ff"/><path d="M789.9,579.4l2.5,2.4 .9,2.8 1.6,.8 2.2,3.5 -.6,.9 -.4,1.8 3.2,2.5 2,.2 -.6,3.1 2.1,.7 1.1-2.7 2-1.2 1.6,1.6 .8-.8 4-1.9 .4-2.9 1,0 -.2-2.2 -.7-1.9 .6-3.7 -.2-2.9 -2.4-.3 .3-2.2 -.1-2.4 -3.2-.3 -1.3-2.6 -1.2,1.1 -2.9-.7 -.1,1.6 -3.7,3.4 -1.3,.7 -2.7-.3 -1.5,1.9 -.4,.9 -2.8-1.3z" fill="#0066ff"/><path d="M820.9,598.1l1.3-2.2 3.2,3.5 1.4-.4 1.8-2.2 0-2 2,.7 2.9-3.3 .3-2.1 .9-.4 -.3-3.2 -2.3-.8 -.1-1.5 .2-2.5 -2.1-.1 -.5-3 1.5-1.1 -1.7-1.4 -3.6,.6 -.6,1.9 -1.9-.3 -1.2-.1 -1,2.8 -3.5,1.8 -.8-.9 -3.4,.5 -.6,3.7 .7,1.9 .2,2.2 -1,0 -.4,2.9 1.1-.5 4,3.7 1.3,.5z" fill="#0033ff"/><path d="M736.6,593.4l-.5,3 .5,.4 2,2.5 -.4,2.7 3,2 .4-1.4 3.1-2 -.4-.6 3.2,1.5 1.3-2.9 2.9-2.9 2.7,1.2 .7-1.5 2.6-4.5 1.9,1 .8-3.4 1.8-2.2 3,1.5 .8-2.2 .3-3.6 0-2.1 1.1-1.2 .7-2.2 -1.6,.7 -1.4-3.7 -1-.6 -1.4-1.9 -1.1-.9 -2.9,.7 -2.9-1.8 -2.5-.9 -1.3,.6 -2.5,2.8 -2.7-1.1 -1.4,.8 -3.4,4.2 0,1.3 -2.7-1.5 .3,1.6 -1.8,2.9 -1.1,0 -2,1.2 -.4,2.2 2.3,3.8 -.8,2.2 -2.7,2.3 1.2,1.2z" fill="#00ccff"/><path d="M767.4,578.7l-1.1,1.2 0,2.1 -.3,3.6 1.3-1 2.8,3.3 1.3-.1 .3,1.9 2.3,2.7 2.7,1.7 .2,2.5 3.1-3.4 .2-2.6 2,.5 -1.4-1.5 2.6-2.4 1.2-1.3 4.3-1.2 -.3-.7 2-1.7 -.7-2.9 0-.4 -1.5-1.3 1.2-2.3 -2.1-1.2 -3.8,.3 -.2-3.2 0-.1 -2.5-1.4 -3.6-.2 -1.1-.7 -1.4,2.2 -1.3,2.4 -1-.1 -3.4,.7 -.1,2.6 -1.2,.2z" fill="#0099ff"/><path d="M842.8,574.4l1.8,3.5 1-.3 -1.2,2.9 1.1,2.8 1.1-1 2.5,.5 1-1.9 2.5-2.3 2.2,.5 .1,0 4.3-2.3 0-.4 2.4,1.3 -.3-2.1 .2-.7 -3.8-3.1 -2.6-.5 2-3.3 -.8-2.2 -4.4-.7 -1.2-2.5 -.3,3.1 -3.3,1.7 -.1-.2 -3,1 -.2,1.8 -2.7-.2 2.6,3z" fill="#0099ff"/><path d="M809.7,396.6l-2.9,.8 -1.2,2.3 -2.4,.2 -.9-.8 -2.9,1.6 -1,1.9 -1.2,.2 1.6,3.4 -.3,.7 .2,1.3 2.9,2.1 -.3,3.7 -1.8,.5 .9,4.8 3.6-1.9 0,1.5 2,1.1 1,.7 4.2,1.2 2-1.1 3.3,.7 .9,.2 1.7-2 1.9-1.5 1.9,.8 -2.2-.9 -.3-1 .7-3.2 -.9-.8 -3.3-1.6 .7-3.1 1-.5 -3-2.3 -1.1-2.6 .4-.5 -3.1-2.9 -2.2-2.1z" fill="#00ccff"/><path d="M821,418.2l-1.9,1.5 -1.7,2 -.9-.2 -3.3-.7 -.7,3.3 -.9,2.1 -2.1,2.7 2-1.1 -1.3,3 -3.1,1.9 .8,4.9 0-.1 -.4,1.8 -2.7,.6 -1.2,3.9 2.9,1.6 0,.2 -.1,2.5 1.2-2.1 1.4,2.3 1.5-1.4 3.9,3.2 0,1.3 -.2,1.1 2.9-3 2.3-.7 1.8-1.7 -.6,.5 .5-4 .8-2 2.9-1.9 .4-.2 -.5-3.1 .9-3.2 1.4-1.6 2.7-.5 -.7-1.2 .2-3.6 -1.3,.3 .7-1.9 -1.9-.7 -4.1-.7 -1-1.9 1.3-2.4z" fill="#00ccff"/><path d="M850.8,415l-.8-.8 -1.9,.4 .2,3 -3.1,1.6 -.8,.8 -3,1.9 -2.6,.7 -1.2,.4 -3.3,2.3 .1,1 -2.3,0 1.8,2.3 1.8,3.2 1.5,1.1 1.3,2.3 1.4,.2 2,2.6 1.6-.1 .9,.3 1.6,3.4 2.4,0 1.3,2.8 .5,2 2.2,2.4 2.5,1.7 2.4-1.2 1.4-1.2 3,.9 .8-.3 .6-.6 -.1-.1 -1-8 4-10 -3.7-7.2 -2.9-2.8 -4.9-2.9 -3.5-2.7z" fill="#00ccff"/><path d="M829,429.9l.7,1.2 -2.7,.5 -1.4,1.6 -.9,3.2 .5,3.1 -.4,.2 -2.9,1.9 -.8,2 -.5,4 .6-.5 -1.8,1.7 -2.3,.7 2.1,1.6 2.6,1.9 3.7,0 1.2,0 2.1-.6 -.1,.3 3.6,2.8 1.7,.6 4.5-2 .3,1.3 2.6,2.4 -.2-1.4 3.3-1.7 1.9,.4 2-1.3 3.4-3 .3-.1 2.8-.2 -2.5-1.7 -2.2-2.4 -.5-2 -1.3-2.8 -2.4,0 -1.6-3.4 -.9-.3 -1.6,.1 -2-2.6 -1.4-.2 -1.3-2.3 -1.5-1.1 -1.8-3.2 -1.8-2.3 -.9-.8 -2,.8z" fill="#00ccff"/><path d="M814.9,470.5l-1.8,1.5 .6,1.2 2.8-.6 4.3,4.5 .4-.5 1.9,.3 -.2,.7 4.1-.3 1.8,3.3 1.1,.8 1.6,.8 .8-2.5 3.2-.7 -.2,.7 2.9-.1 -.3-5 -1.1-2.1 3.2-2.6 .5-.2 -.7-1.4 .4-3.9 .9-1.3 3-2.9 -1.2,.1 -1.7-3.9 .2,1.4 -2.6-2.4 -.3-1.3 -4.5,2 -1.7-.6 -3.6-2.8 .1-.3 -2.1,.6 -1.2,0 -3.7,0 -2.6-1.9 -2.1-1.6 -2.9,3 .7,1.5 2.5,1.9 -1.9,.6 -2,3.4 2.3,2.2 .5,3.7 -3.3,1.3z" fill="#00ccff"/><path d="M852.1,450.7l-.3,.1 -3.4,3 -2,1.3 -1.9-.4 -3.3,1.7 1.7,3.9 1.2-.1 -3,2.9 -.9,1.3 -.4,3.9 .7,1.4 -.5,.2 -3.2,2.6 1.1,2.1 .3,5 -2.9,.1 3,2.4 1.5-2.1 3.7,1.1 .9,1.2 .4,.1 2.1,3.6 1.9-.9 4.3-1.4 -.1,2.6 2.2,.6 .4,1.9 2.9-3.4 1.7-2.6 -.7-1.4 1.6-.3 -1.1-1.5 3-3.9 1.6-1.8 -1.9-1.9 1.5-.4 1.6-4.4 2-1.6 -.8-1.4 3-3.4 -.5-1.7 .9-1.9 -7.3-9.1 -.6,.6 -.8,.3 -3-.9 -1.4,1.2 -2.4,1.2z" fill="#00ccff"/><path d="M867.8,465.6l-2,1.6 -1.6,4.4 -1.5,.4 1.9,1.9 -1.6,1.8 -3,3.9 1.1,1.5 -1.6,.3 .7,1.4 -1.7,2.6 -2.9,3.4 1.4,1 4.5-1.7 .6-1.4 3.2,2.1 .3,2.6 3.2-.9 .2-2.1 2.4,.5 1.4,2 3.5-.4 3.3-1.7 1.9,.4 1.8,1.8 .9-2 .9-3.4 -.8-.8 2.7-.3 1.3-4.3 2.8-1.1 -1.1-1.8 1.4,.1 .2-2.8 -.6-.6 -5,1 -10-7 -5-10 -.6-.8 -.9,1.9 .5,1.7 -3,3.4z" fill="#00ccff"/><path d="M828.6,501l1.8,1.1 1.4,1.5 3.7,1.9 2.3-1.8 2.2-1 .4,3.7 1.7,1.4 2.5-1.6 3.3,.2 2.3,.7 1.1,1.9 1,2 1.9-2.2 1.9-3.2 .9,.5 -1.6-3 .6-1.1 2.5-1.5 -1-4.7 -1.5-1.8 2.3-1.9 1.3-1 -2.6-1.3 -1.4-1 -.4-1.9 -2.2-.6 .1-2.6 -4.3,1.4 -1.9,.9 -2.1-3.6 -.4-.1 -.9-1.2 -3.7-1.1 -1.5,2.1 -3-2.4 .2-.7 -3.2,.7 -.8,2.5 -.2,1.8 0,2.2 -1.4,2.3 -1.1,2.9 1.3,3.5 -1.4,1.7 -2.1-.9 2.1,3 -.3,2.1z" fill="#00ccff"/><path d="M883.7,508l.2-2.5 1.4-4.4 -1.9-.2 -1-3.4 1.4-1.5 -1.1-.8 -1.2-1.8 1.8-2.4 -1.8-1.8 -1.9-.4 -3.3,1.7 -3.5,.4 -1.4-2 -2.4-.5 -.2,2.1 -3.2,.9 -.3-2.6 -3.2-2.1 -.6,1.4 -4.5,1.7 2.6,1.3 -1.3,1 -2.3,1.9 1.5,1.8 1,4.7 -2.5,1.5 -.6,1.1 1.6,3 -.9-.5 -1.9,3.2 3.7,2.4 .1,.5 -.8,3.1 3,2.4 .2,.1 .6-.6 3.9,1.4 .2,0 3.4-2.1 .7-.5 2.1,1.1 1.7-1 .9-1.9 2.9,.5 .1,1.3 4.2-1.7 -.3-2.1 2.7-2.3z" fill="#00ccff"/><path d="M906.9,506.2l.5-4.3 3.2-.6 -.5-1.5 .3-1.4 .6-4.6 1.2-.1 -2.2-1.7 -7-5 -7-8 -4.4-4.4 -.2,2.8 -1.4-.1 1.1,1.8 -2.8,1.1 -1.3,4.3 -2.7,.3 .8,.8 -.9,3.4 -.9,2 -1.8,2.4 1.2,1.8 1.1,.8 -1.4,1.5 1,3.4 1.9,.2 -1.4,4.4 -.2,2.5 1.7-1.2 4.9,.4 1.4,.4 3-1.3 .5-.2 1.5,2.3 3.1,.3 .4-2.5 3.4-.5 1.3,2.1z" fill="#00ccff"/><path d="M907.1,509.6l-.3,3.1 .9,.7 2.3,2.8 -.7,1.2 -.6,.2 2.8,3.3 2.2,.7 2.5-.8 .1,.5 3.1,1.7 .9,.3 4.6-1 2.3,.4 3,1.3 1.7-.3 .2-1.1 2.4,.6 .6,1.3 4.5-.3 1.4-.4 0-.8 -1-6 -4-7 -4-1 -3-4 -4-3 -8-1 -2-5 -2.8-2.3 -1.2,.1 -.6,4.6 -.3,1.4 .5,1.5 -3.2,.6 -.5,4.3 -2,1.6z" fill="#00ccff"/><path d="M798.9,490.8l-1.2,1.9 -2.4,3.3 1.9-1.2 -2.2,3.4 -.1,2.3 -4,2.5 .7-.1 -.9,1.7 0,1.8 3.6-1.1 1.4,1.1 .3-.4 3.4-1.4 .6,1.3 2.7,1.8 1.8-1.3 3.4-1.5 2.3,.8 1.8-.1 4.4-1.8 -.1,.5 3.1,2.1 -.7-2.6 -4.1-3.1 -1.4-.6 .4-3 -1.6-.4 -1.8-2.7 -.9-2.4 -2.2-.3 -1.7-2.2 .4,.7 -1.4-2.2 -3.3-1.8 .1,1.9z" fill="#0099ff"/><path d="M880.8,511.7l.3,2.1 -4.2,1.7 2,2.4 3.8,2.4 -.4,.3 .6,2.8 2.9,1.8 -.7,.4 -.5,3 3.3,1.1 1.2,.8 .2,3 2.2-1.2 3.6,1.8 .9,1.7 1.1-.3 1.3,1.4 2.7-3.7 1.6,1.4 2.2-3.1 .5-2.4 -.5-2 2.1-.7 1.3-1.2 2.9-4.6 -2.5-3 .6-.2 .7-1.2 -2.3-2.8 -.9-.7 .3-3.1 -2.2-1.8 -1.3-2.1 -3.4,.5 -.4,2.5 -3.1-.3 -1.5-2.3 -.5,.2 -3,1.3 -1.4-.4 -4.9-.4 -1.7,1.2 -.2,1.4z" fill="#0099ff"/><path d="M866.2,545.8l1.3,2 2.5-.9 .3-1.4 2.2-2.2 2-.1 1.5,.1 3.4-2.9 .7-2 3.4,1.6 .1-.3 2.3-3.8 .6-1.7 .9,.9 1.9-1.6 -.2-3 -1.2-.8 -3.3-1.1 .5-3 .7-.4 -2.9-1.8 -.6-2.8 .4-.3 -3.8-2.4 -2-2.4 -.1-1.3 -2.9-.5 -.9,1.9 -1.7,1 -2.1-1.1 -.7,.5 -3.4,2.1 -.2,0 -3.9-1.4 -.6,.6 .1,1.7 -1.9,3.4 1,2.6 1,.2 -1.3,3.9 1-.7 1.8,2.3 -1.5,2.4 -1,1.4 1.6,3.1 -.4,3.3 -.5,1.4 2.7,2.8 1.1,2.2z" fill="#00ccff"/><path d="M939.6,524.2l-4.5,.3 -.6-1.3 -2.4-.6 -.2,1.1 -1.7,.3 -3-1.3 -2.3-.4 -4.6,1 -.9-.3 -3.1-1.7 -.1-.5 -2.5,.8 -2.2-.7 -.2-.5 -3,4.8 -1.3,1.2 -2.1,.7 .5,2 -.5,2.4 -2.2,3.1 -1.6-1.4 -2.7,3.7 2.9,.7 1,2.7 -1.4,2.1 1.8,.9 1.4,3.7 -.6,2.7 1.6,.7 .8,2.7 -.4,2 2.2,1 1,3.7 -.1,.1 2.4-.9 7-6 3-10 0-4 2-4 6,0 7,4 2-2 3-6 0-7.2z" fill="#00ccff"/><path d="M887.4,535.1l-.9-.9 -.6,1.7 -2.3,3.8 -.1,.3 -3.4-1.6 -.7,2 -3.4,2.9 -1.5-.1 -2,.1 -2.2,2.2 -.3,1.4 -2.5,.9 2.6-.1 .9,3.1 1.4,1.4 1.7,2.4 2.9,.8 .3,.8 2.1-1.4 1.1,1.4 4.4,3.3 1.7-1.1 3.2-2 -.5,1.9 2.9,1.8 1.1,.4 4.8,.4 1.1-.9 3.1,.5 -.5,2.2 6.8-2.8 .1-.1 -1-3.7 -2.2-1 .4-2 -.8-2.7 -1.6-.7 .6-2.7 -1.4-3.7 -1.8-.9 1.4-2.1 -1-2.7 -2.9-.7 -1.3-1.4 -1.1,.3 -.9-1.7 -3.6-1.8 -2.2,1.2z" fill="#00ccff"/><path d="M860.3,547.1l-.9,1.2 -3.8,1.5 -1.4-1.1 -1.4,3.3 2.9,1.1 -.5,3.7 -3.5,1.9 .9,1.3 .8,2.5 -2.7,.1 1.2,2.5 4.4,.7 .8,2.2 -2,3.3 2.6,.5 3.8,3.1 -.2,.7 .3,2.1 2.6,1 2.7-3.5 1.7-.5 .6,1.2 2.3-1.4 -.1-4.5 .9-.1 -.4-1.7 .3-2.8 1.2-.1 -.9-4.1 -.4-4.3 2.2,.1 -.2-2.4 -1.7-2.4 -1.4-1.4 -.9-3.1 -2.6,.1 -1.3-2 -2.2,1.6z" fill="#0099ff"/><path d="M902.3,560.5l-3.1-.5 -1.1,.9 -4.8-.4 -1.1-.4 -2.9-1.8 .5-1.9 -3.2,2 -1.7,1.1 -4.4-3.3 -1.1-1.4 -2.1,1.4 -.3-.8 -2.9-.8 .2,2.4 -2.2-.1 .4,4.3 .9,4.1 -1.2,.1 -.3,2.8 .4,1.7 -.9,.1 .1,4.5 1.7-1.8 3.9,3 .6,1.9 1.1-1.1 1.7,1.2 2.1,.1 4.2-.8 .7,3.4 .5-.4 -2-6 5-6 10-5 .8-.3z" fill="#0099ff"/><path d="M865.7,596.3l.4-2.6 -2.6-3.7 0-2.1 2.5-1.8 -.7-2.9 -1.7,.9 .7-3.3 -.1-2.1 -2.6-1 -2.4-1.3 0,.4 -4.3,2.3 -.1,0 -2.2-.5 -2.5,2.3 -1,1.9 -2.5-.5 -1.1,1 -.5,2.4 .1,2.1 -2.7,.4 1,2 3.4,2.3 3.3-2.8 .8,1.1 1.9,2.5 .4,.2 4.7,1.8 1.4-.6 3-.4 -.5,2.1 2.3,1.2z" fill="#0099ff"/><path d="M871.4,607.9l1.3-1.6 3.2-.2 .9-.8 2-2.1 -1.1-4.7 0-.1 3.1-1.9 -.3,0 1.4-4.6 -.4-.7 .1-2.4 4.1,.1 -1.2-4.5 -.7-2.2 2.2-2.4 1.5,.6 -.7-3.4 -4.2,.8 -2.1-.1 -1.7-1.2 -1.1,1.1 -.6-1.9 -3.9-3 -1.7,1.8 -2.3,1.4 -.6-1.2 -1.7,.5 -2.7,3.5 .1,2.1 -.7,3.3 1.7-.9 .7,2.9 -2.5,1.8 0,2.1 2.6,3.7 -.4,2.6 -1.6,1.3 2.5,3.4 .6,.5 -1,2.3 1.8,1.7 2.5,.5 -.5,2.9z" fill="#00ccff"/><path d="M887.5,580.4l-1.5-.6 -2.2,2.4 .7,2.2 1.2,4.5 -4.1-.1 -.1,2.4 .4,.7 -1.4,4.6 .3,0 -3.1,1.9 0,.1 1.1,4.7 -2,2.1 2.4-1.3 1.5-.6 1.4,1.6 3-.9 .7-2 2.8,.8 2.6,.2 .8-2.2 3.5-.1 1.5-5.8 -4-7 -5-8z" fill="#00ccff"/><path d="M772.1,624.1l-1.8-3.7 -2,1 -.3-2.2 -1,1 -4.7-3.8 -1.2-.2 1.6-3.8 -4.2,.1 -3.6-1.6 1.2,.1 -1.5-.7 -3.6-2.3 -1.7-.8 -1-4 -.6,.7 -3-3.3 -3.1,2 -.4,1.4 -3-2 -.1-.2 -.1,2.9 -.1,3.1 -1,3.5 -.4-.2 .3,1.4 -.8,3.8 -.7,1.1 .4,3.6 -.3,3.1 -1.1-.1 .3,2 .3,2.1 -1.1,3.4 -.1,1.2 2.9,1.3 6.8,7 2.3,7 4.5-2.4 5.8-6.8 1-11.4 6.9-2.4 6.8,1 .5,.1z" fill="#00ccff"/><path d="M747.7,603.9l.6-.7 1,4 1.7,.8 3.6,2.3 1.5,.7 -1.2-.1 3.6,1.6 4.2-.1 -1.6,3.8 1.2,.2 4.7,3.8 1-1 .3,2.2 2-1 .1,0 3.5-.1 .5-3.3 2.9-1.6 .7-1.1 1.7-1.2 -1.4-1.2 2.4-3.4 1.8-1.1 -1.6-2.4 -2.7-1.9 1.2-1.2 -.6-2.1 -2.2-1.8 .3-1.4 -.2-2.5 -2.7-1.7 -2.3-2.7 -.3-1.9 -1.3,.1 -2.8-3.3 -1.3,1 -.8,2.2 -3-1.5 -1.8,2.2 -.8,3.4 -1.9-1 -2.6,4.5 -.7,1.5 -2.7-1.2 -2.9,2.9 -1.3,2.9 -3.2-1.5 .4,.6z" fill="#00ccff"/><path d="M800.7,597.4l.6-3.1 -2-.2 -3.2-2.5 .4-1.8 .6-.9 -2.2-3.5 -1.6-.8 -.9-2.8 -2.5-2.4 .7,2.9 -2,1.7 .3,.7 -4.3,1.2 -1.2,1.3 -2.6,2.4 1.4,1.5 -2-.5 -.2,2.6 -3.1,3.4 -.3,1.4 2.2,1.8 .6,2.1 -1.2,1.2 2.7,1.9 1.6,2.4 -1.8,1.1 1.5,1.2 1.8,.6 2.6-1.8 1-.6 3.5,1.4 .5-.4 3.7-1.9 .9,.1 1.3-2 .6-1.3 3.7-4.4 1-1.3z" fill="#0099ff"/><path d="M814,628.2l-1-3.4 .3-1.4 -2.5,0 -3.1-2.3 0-.1 0-2.5 -2.6-1.6 -1.9,.1 -1-2.7 -1.5-.7 -.7-3 -.9-3 -2.9-.5 -.9-.1 -3.7,1.9 -.5,.4 -3.5-1.4 -1,.6 -2.6,1.8 -1.8-.6 -1.5-1.2 -2.4,3.4 1.4,1.2 -1.7,1.2 -.7,1.1 -2.9,1.6 -.5,3.3 -3.5,.1 -.1,0 1.8,3.7 -.9,2 10.8,1.3 4.7,6.6 4.3,4.8 10-3.8 10-5 3-1.8z" fill="#00ccff"/><path d="M817.4,596.3l-4-3.7 -1.1,.5 -4,1.9 -.8,.8 -1.6-1.6 -2,1.2 -1.1,2.7 -1,1.3 -3.7,4.4 -.6,1.3 -1.3,2 2.9,.5 .9,3 .7,3 1.5,.7 1,2.7 1.9-.1 2.6,1.6 0,2.5 0,.1 3.1,2.3 2.5,0 -.3,1.4 1,3.4 7-4.2 5.6-.9 -1.1-1.2 1.2-2.9 -.2,.3 -.7-2.5 2.2-2 -.4-2 -2.6-1.8 .3-4.5 -.4-1.4 -1.9-2.2 1.4-3.9 1,.4 -3.2-3.5 -1.3,2.2 -2.2-1.3z" fill="#00ccff"/><path d="M828.6,594.8l0,2 -1.8,2.2 -1.4,.4 -1-.4 -1.4,3.9 1.9,2.2 .4,1.4 -.3,4.5 2.6,1.8 .4,2 -2.2,2 .7,2.5 .2-.3 -1.2,2.9 1.1,1.2 6.4-1.1 13-4 3.5-2.5 -.6-1.1 1.5-.5 -1.9-2.7 -2.7-2.1 .3-.3 -1.2-2.9 -2.5-1.6 -.2-.8 -.9-3.3 -1.7-1.4 .6-1.4 -.8-3.5 -2-1.1 -3.6-2.7 -.3,2.1 -2.9,3.3z" fill="#00ccff"/><path d="M861.8,596.4l.5-2.1 -3,.4 -1.4,.6 -4.7-1.8 -.4-.2 -1.9-2.5 -.8-1.1 -3.3,2.8 -3.4-2.3 -1-2 -2.6-.5 -1.6,2.9 -.8,2.2 2,1.1 .8,3.5 -.6,1.4 1.7,1.4 .9,3.3 .2,.8 2.5,1.6 1.2,2.9 -.3,.3 2.7,2.1 1.9,2.7 -1.5,.5 .6,1.1 3.5-2.5 3-5 10,5 2.7,.3 .4-.7 2.3-1.3 -1.6-2.2 .2-.2 .5-2.9 -2.5-.5 -1.8-1.7 1-2.3 -.6-.5 -2.5-3.4z" fill="#0099ff"/><path d="M892,600.9l-.8,2.2 -2.6-.2 -2.8-.8 -.7,2 -3,.9 -1.4-1.6 -1.5,.6 -2.4,1.3 -.9,.8 -3.2,.2 -1.3,1.6 -1.6,1.2 1.6,2.2 -2.3,1.3 -.4,.7 7.3,.7 5-2 5,2 2,6 8,7 6,0 4-7 -1-10 -7-2 -3-5 .5-2.2z" fill="#00ccff"/><path d="M707.2,360.2l1.3-1.2 -2.7-2.3 1.9-4.2 2.2-.7 -2.2-1.7 .1-1.5 3.4-1.9 -.8-5.4 -1.4-1.2 2.9-.1 1-2.5 -.8-.3 -2.9-1 -1.7,.1 -3,2.3 -1.9,.6 -2.5-1.2 -2.4,.7 -1.6,1.6 -2.7-1 -1-1.3 -2.4,1.2 .5,2 3.3,2.3 1.5,.1 .3,2.8 1.6,.6 .3,1.1 0,2.6 2.8,.1 2.3,2.9 -.3,1.7 1.6,1.2 2.1,3.7z" fill="#00ccff"/><path d="M753.2,354.5l1.2-3 -.8-.1 -2.6-3 -.2-2.3 .3-1.6 -2.1-3.1 -3.5,1.4 0,.1 -2.2-2 .5-.7 -3.4,1.3 -1.4,.1 -4.6-1.7 -1.1-1 -.6,1.4 .3,3.4 -1.1,3.3 -2.5,.5 .2,1.9 -.9,1.8 .9,4.3 -3.3-.2 -1.6,1.7 2.7,.5 -2.8,4.8 .6-.3 2.1,3 2.8,.3 -.4,2.2 -1.4,.6 3.6-1.5 .9,.3 3.8-1.8 1.6-1.2 1.9,1 2.5-1.4 .3-3.1 3.4-.1 .7,.8 2.8-1.9 1.6-1.3 .6,0 2.3-2.5z" fill="#00ccff"/><path d="M806.7,339.6l-3.4-1.9 0-.7 -2.2-3 -.7,2 -2.7,1 -.4-1.2 -3.3,3.2 -2.5,3.7 -1.6-1.1 -3.2,.8 .3,3.8 -2.2-.2 1.2,2.4 -.3,.5 1.9,3.4 2,1 -.5,2 1.3,1.7 2.1,.1 4.4-1.3 .2,2.2 2.2,.8 .2,1.5 3.7,1.9 3-2.6 1.2,1.7 1.8,2 .5,.1 2.9-3.7 .5-1.8 2.2,1.1 -1.9-3.2 .4-2.6 -1.1,.2 -2.5-3.3 1.4-3.5 .1-.3 -2.9-3.4 .2-1.8z" fill="#00ccff"/><path d="M832.7,336.1l-2.3-2.3 -1.3,2 .7-1.4 -3.9-1.8 -2.1-.6 -2.5,1 .1,2 -2.9,0 -.1,.5 -2.7,3.1 -1.5,.9 -1.9-1.7 -3,1.1 -.5,4 2.9,3.4 -.1,.3 -1.4,3.5 2.5,3.3 1.1-.2 -.4,2.6 1.9,3.2 2,.2 1.7-2.3 2.1-1.7 1.6,.9 .8,1.3 2.2-.4 1.9-3.2 1.3,1.3 1.5-1.2 1-3.5 -.5-.8 1.3-.7 2.2-1.5 3.1-1.5 -1.4-4.6 -2.9-.7 .9-2.1 .6-2.6z" fill="#00ccff"/><path d="M772,379.9l2.6-2.2 1.9-.5 1,.6 3.5-2.6 .8-2.3 .3,1 1.1-2.5 2.8-1.4 -1.4-4.7 .9,.2 1.3-2.5 .6-1.3 2.5-4.6 -2.2-.9 1.4-.9 .5-2 -2-1 -1.9-3.4 .3-.5 -1.2-2.4 -.7,.2 -3.2-1.7 .3,3.7 -2.6,.8 .3-1.1 -2.5,2.5 -1.1,3.4 -2.3-1 -2.9-.8 -1.4,3.3 -3.4,2.3 -.1-1 -2.8,.9 .4,3.5 -2,1.3 1,.5 -.2,1.2 2.1,3.7 .1,1.1 -.7,1.4 2.8,4.3 .4,1.8 -.9,0 1.2,.8 4.1,2.4z" fill="#0099ff"/><path d="M734.1,380.4l1.4-2.5 1.3-.2 1.4,3.7 3.3,1.1 2.4-2.2 3.4-.1 .4,2.1 1.8,1 -.1,.4 3.2-2.9 2.3-.1 .4,.4 3.5-2.4 1.6-.8 2.9,.8 3-2.4 -.4-1.8 -2.8-4.3 .7-1.4 -.1-1.1 -2.1-3.7 .2-1.2 -1-.5 -1.8-3.3 -2.1-.6 -.8-1.6 .2,.4 -2-1.8 -2.3,2.5 -.6,0 -1.6,1.3 -2.8,1.9 -.7-.8 -3.4,.1 -.3,3.1 -2.5,1.4 -1.9-1 -1.6,1.2 -3.8,1.8 -.9-.3 -3.6,1.5 1.7,1.8 2,3.4 -.9,1.6 -.6,2.7 1.3,1.8z" fill="#00ccff"/><path d="M691.9,374l-1.1,1.8 -4.1-.9 1.9,2.6 4.5,.4 .1,1.7 1.7,.7 1-1.5 3.8,2.4 3.5,1.2 -.1,2.4 1.8-.6 .6,1 4.6-.7 .8,2.4 1.5,2.8 1.4-1.2 2.8-1.7 1.7,.8 1.5-.9 3.3-2.6 .5,.4 3.1,.6 .4-4.1 4.2-1.8 0,1 .5-.8 -1.3-1.8 .6-2.7 .9-1.6 -2-3.4 -1.7-1.8 1.4-.6 .4-2.2 -2.8-.3 -2.1-3 -.6,.3 -.2-1.2 -4.2-2.2 -1.6,1.1 -3.6,1.6 -.9-1.4 -1.6-1.8 -1.9,.4 -2.1,.2 -1.3,1.2 -1.2,.1 -1.8-.6 -2.6,2.9 -1.9,2.7 -.9-1.3 -2,1.6 -.1,4.5 -1.7-.2z" fill="#0099ff"/><path d="M784.6,376.9l1.4-.1 1.3-.7 .5,1.1 3.8-.2 1.8,1.9 3.6,1.6 1.5-2.3 2.6-.7 1.8,1.2 1.1-1.7 3.9-2.2 -.2-.3 -.8-4.1 .9-.7 .7-4.7 -.2-1.1 .9-.6 -1.8-2 -1.2-1.7 -3,2.6 -3.7-1.9 -.2-1.5 -2.2-.8 -.2-2.2 -4.4,1.3 -2.1-.1 -1.3-1.7 -1.4,.9 2.2,.9 -2.5,4.6 -.6,1.3 -1.3,2.5 -.9-.2 1.4,4.7 -2.8,1.4 -1,2.2z" fill="#00ccff"/><path d="M771.5,380.1l-1.2,2.8 1.6,1 3.2,2.5 1.8,2 -1-.4 2.5,2.4 4.7-1.5 -.6,3.1 -.6,.2 4.7,3.3 2.5,1.3 -1.2,2 2.2,.2 1.8-2 1.1,.1 .7,.1 1.5-3.4 -1.2-.5 -.9-2.5 2.2-4.7 .4-1.1 -2.3-1.8 1.1-1.2 2.5-1.5 -3.6-1.6 -1.8-1.9 -3.8,.2 -.5-1.1 -1.3,.7 -1.4,.1 -2.8-4 -.8,2.3 -3.5,2.6 -1-.6 -1.9,.5 -2.6,2.2 -1.3-.4z" fill="#0099ff"/><path d="M794.5,382l-1.1,1.2 2.3,1.8 -.4,1.1 -2.2,4.7 .9,2.5 1.2,.5 -1.5,3.4 -.7-.1 4.2,2.6 .4,.1 .8,2.8 1-1.9 2.9-1.6 .9,.8 2.4-.2 1.2-2.3 2.9-.8 -.1,.9 4.3-1.6 -.6-2.8 .8-2.9 -.4,.1 .9-2.2 -.3-.9 -1.6-1.6 .8-4.1 -.3,1 -1.1-2.6 -2-1.3 -.8-1.6 -1.3-1.8 -.1-.4 -3.9,2.2 -1.1,1.7 -1.8-1.2 -2.6,.7 -1.5,2.3z" fill="#00ccff"/><path d="M817.5,392.9l1.1,2.2 1.8-1.8 3.6,1.9 1.5,0 4.1,1.1 -.3,1.4 2.3-1.4 -.3,.1 3.8,2.8 1.8,.5 2.8-1.4 .7-.9 -2.5-4 .7-1.3 -.6,0 -1.5-3.5 .8-2.1 -1.4,.1 -1.4-2.9 1.9-3.2 -1.2-.5 -1.6-.5 -3.8-1.3 -.5,1.3 -4.1,1 -.9-1.5 -2.7,0 -2.3,2 -1.5-.2 -2.5-1 -1.8,1.7 -.8,4.1 1.6,1.6 .3,.9 -.9,2.2 .4-.1z" fill="#00ccff"/><path d="M763.3,378.7l-2.9-.8 -1.6,.8 -3.5,2.4 -.4-.4 -2.3,.1 -3.2,2.9 .7,2.6 1.8,1 -2.1,.3 -1.7,3.6 2.4,.5 1,4.4 -2.8,2.6 -.8-.2 2,2.6 -1,.6 -2.9,3.2 .8,2.5 .8,.9 4.2-1.7 .2,.7 3.6,1 1.2-1.7 2.3-1.1 2.2,1.3 1.3-.3 2.5-2.1 1.4-.1 1.6,1.1 -.2-4.3 -.3-1.9 1.6-3.2 1.1-1.5 -.9-1.2 0-1.8 1.2-.6 -.3-5.4 -1-1.6 1-1 1.2-2.8 -.8-.6 -4.1-2.4 -.7-.5z" fill="#00ccff"/><path d="M730,410.8l.3-1.6 -3.2-.7 -1.2,.6 -3.9-.3 -2.9-.7 -1.8,.4 -3-.1 .1-1.3 -.2-.1 -.4,3.8 1.6,.8 -.8,.9 .2,4.2 2.2,1.5 -1.1,1.4 -1.2,4.3 2.6,1.9 .6,1.2 -.6,3.9 1.9,1.6 .3,.8 -.5,3.2 1.9,.2 2.2-1.9 2.1-.9 2.5,1.1 2.4,0 -1.2-2.4 .5-3.9 2.1-.9 .1-1 -1-2.8 1.1,.2 1-4.6 -1.2-3 -.5-.7 1.6-2.1 .5-.5 -.8-3.1z" fill="#00ccff"/><path d="M886.0,202.0 893.0,199.0 903.0,200.0 907.0,210.0 917.0,213.0 913.0,222.0 906.0,219.0 896.0,220.0 885.0,219.0 883.0,210.0Z" fill="#0033ff"/><path d="M650.9,157.4 655.0,159.2 661.5,161.0 668.0,162.0 673.5,163.8 675.4,167.5 673.5,171.2 668.0,173.5 663.3,172.2 659.7,168.5 656.0,163.8 651.3,159.2Z" fill="#0033ff"/><path d="M749.0,110.0 751.0,102.0 758.0,98.0 766.0,93.5 770.0,95.0 769.0,99.0 761.0,107.0 754.0,112.0Z" fill="#0033ff"/></g>
<g><circle cx="696.8" cy="26.8" r="3" fill="#0033ff" stroke="#000" stroke-width="1"/><circle cx="729.6" cy="64.4" r="4" fill="#0033ff" stroke="#000" stroke-width="1"/><circle cx="724.0" cy="85.0" r="3" fill="#0033ff" stroke="#000" stroke-width="1"/><circle cx="585.0" cy="144.0" r="3.5" fill="#0033ff" stroke="#000" stroke-width="1"/><circle cx="631.0" cy="128.0" r="3" fill="#0033ff" stroke="#000" stroke-width="1"/><circle cx="637.0" cy="163.0" r="3.5" fill="#0033ff" stroke="#000" stroke-width="1"/><circle cx="656.0" cy="130.0" r="3" fill="#0033ff" stroke="#000" stroke-width="1"/><circle cx="626.0" cy="234.0" r="4" fill="#0033ff" stroke="#000" stroke-width="1"/><circle cx="795.0" cy="121.0" r="4" fill="#0033ff" stroke="#000" stroke-width="1"/><circle cx="887.0" cy="123.0" r="4" fill="#0033ff" stroke="#000" stroke-width="1"/><circle cx="766.0" cy="223.0" r="4" fill="#0033ff" stroke="#000" stroke-width="1"/><circle cx="852.0" cy="220.0" r="3.5" fill="#0033ff" stroke="#000" stroke-width="1"/><circle cx="880.0" cy="220.0" r="3.5" fill="#0033ff" stroke="#000" stroke-width="1"/><circle cx="810.0" cy="244.0" r="5" fill="#0033ff" stroke="#000" stroke-width="1"/><circle cx="792.0" cy="99.0" r="3" fill="#0033ff" stroke="#000" stroke-width="1"/><circle cx="830.0" cy="76.0" r="4" fill="#0033ff" stroke="#000" stroke-width="1"/><circle cx="874.0" cy="62.0" r="4" fill="#0033ff" stroke="#000" stroke-width="1"/><circle cx="891.0" cy="78.0" r="3" fill="#0033ff" stroke="#000" stroke-width="1"/><circle cx="954.0" cy="218.0" r="3.5" fill="#0033ff" stroke="#000" stroke-width="1"/><circle cx="952.0" cy="265.6" r="4.5" fill="#0033ff" stroke="#000" stroke-width="1"/><circle cx="945.6" cy="296.8" r="3.5" fill="#0033ff" stroke="#000" stroke-width="1"/><circle cx="987.2" cy="316.8" r="2.5" fill="#0033ff" stroke="#000" stroke-width="1"/><circle cx="851.2" cy="307.2" r="6" fill="#0033ff" stroke="#000" stroke-width="1"/><circle cx="843.2" cy="268.8" r="3.5" fill="#0033ff" stroke="#000" stroke-width="1"/><circle cx="841.6" cy="345.6" r="4" fill="#0033ff" stroke="#000" stroke-width="1"/><circle cx="840.8" cy="379.2" r="4" fill="#0033ff" stroke="#000" stroke-width="1"/><circle cx="829.6" cy="395.2" r="3" fill="#0033ff" stroke="#000" stroke-width="1"/><circle cx="829.2" cy="297.2" r="5" fill="#0033ff" stroke="#000" stroke-width="1"/><circle cx="699.6" cy="314.8" r="4" fill="#0033ff" stroke="#000" stroke-width="1"/><circle cx="784.4" cy="338.8" r="4" fill="#0033ff" stroke="#000" stroke-width="1"/><circle cx="802.0" cy="338.8" r="3" fill="#0033ff" stroke="#000" stroke-width="1"/><circle cx="746.0" cy="340.4" r="3" fill="#0033ff" stroke="#000" stroke-width="1"/><circle cx="746.4" cy="251.6" r="3" fill="#0033ff" stroke="#000" stroke-width="1"/><circle cx="604.4" cy="261.8" r="4" fill="#0033ff" stroke="#000" stroke-width="1"/><circle cx="575.6" cy="364.6" r="4" fill="#0033ff" stroke="#000" stroke-width="1"/><circle cx="599.6" cy="395.0" r="4" fill="#0033ff" stroke="#000" stroke-width="1"/><circle cx="550.0" cy="441.0" r="3.5" fill="#0033ff" stroke="#000" stroke-width="1"/><circle cx="607.6" cy="470.6" r="3" fill="#0033ff" stroke="#000" stroke-width="1"/><circle cx="598.8" cy="489.8" r="2.5" fill="#0033ff" stroke="#000" stroke-width="1"/><circle cx="727.2" cy="556.0" r="3" fill="#0033ff" stroke="#000" stroke-width="1"/><circle cx="608.8" cy="589.6" r="3.5" fill="#0033ff" stroke="#000" stroke-width="1"/><circle cx="726.0" cy="441.2" r="3.5" fill="#0033ff" stroke="#000" stroke-width="1"/><circle cx="741.2" cy="420.0" r="3" fill="#0033ff" stroke="#000" stroke-width="1"/><circle cx="778.0" cy="432.4" r="3" fill="#0033ff" stroke="#000" stroke-width="1"/><circle cx="780.0" cy="400.0" r="3" fill="#0033ff" stroke="#000" stroke-width="1"/><circle cx="760.8" cy="483.2" r="3" fill="#0033ff" stroke="#000" stroke-width="1"/><circle cx="685.2" cy="492.4" r="3.5" fill="#0033ff" stroke="#000" stroke-width="1"/><circle cx="845.2" cy="502.0" r="3.5" fill="#0033ff" stroke="#000" stroke-width="1"/><circle cx="805.6" cy="526.4" r="3.5" fill="#0033ff" stroke="#000" stroke-width="1"/><circle cx="846.8" cy="542.0" r="3" fill="#0033ff" stroke="#000" stroke-width="1"/><circle cx="778.4" cy="560.0" r="4.5" fill="#0033ff" stroke="#000" stroke-width="1"/><circle cx="814.4" cy="427.2" r="3" fill="#0033ff" stroke="#000" stroke-width="1"/><circle cx="846.4" cy="448.0" r="3.5" fill="#0033ff" stroke="#000" stroke-width="1"/><circle cx="828.8" cy="467.2" r="3" fill="#0033ff" stroke="#000" stroke-width="1"/><circle cx="871.6" cy="512.4" r="3.5" fill="#0033ff" stroke="#000" stroke-width="1"/><circle cx="918.0" cy="534.0" r="3" fill="#0033ff" stroke="#000" stroke-width="1"/><circle cx="849.2" cy="598.8" r="3" fill="#0033ff" stroke="#000" stroke-width="1"/><circle cx="740.4" cy="590.4" r="3" fill="#0033ff" stroke="#000" stroke-width="1"/><circle cx="748.4" cy="609.6" r="3" fill="#0033ff" stroke="#000" stroke-width="1"/><circle cx="766.0" cy="596.8" r="2.5" fill="#0033ff" stroke="#000" stroke-width="1"/><circle cx="811.6" cy="344.0" r="3" fill="#0033ff" stroke="#000" stroke-width="1"/><circle cx="765.2" cy="371.2" r="3" fill="#0033ff" stroke="#000" stroke-width="1"/><circle cx="779.6" cy="398.4" r="3" fill="#0033ff" stroke="#000" stroke-width="1"/><circle cx="741.2" cy="417.6" r="3" fill="#0033ff" stroke="#000" stroke-width="1"/><circle cx="625.2" cy="491.4" r="2.5" fill="#0033ff" stroke="#000" stroke-width="1"/><circle cx="704.0" cy="395.0" r="2.5" fill="#0033ff" stroke="#000" stroke-width="1"/></g>
<path d="M659,18l4,10 3,5 5,10 3,5 2,2 2,3.5 -7,3.5 -10,2.5 -4,1.5 -.5,6 2.5,3.5 8-1.5 4-1 -3,5 0,7 3,2 5,1 1,4 -2,3 -6,0 0,5 4,5 4,2 1,2.5 -7,2.5 -7-2 -4-3.5 -3,1.5 -3,4 -2,4 -.7,9 .7,10 -4-4 -6-1 -3,2 2.5,4 -.5,7 -3,3 -4-2 -3-4 3-4 -2-4 -2-4 -3-6 -7-1 -10,1 -9,1 -12,2 -7,5 -3,6 -.5,7 -.5,6 11,3 5,2 -6,2 -1,8 -1,19 -5,7 -3,10 -2,8 -15,0 -1,10 6,5 9.2,.6 2.8,5.7 -1.4,7.1 0,5 -3.6,3.6 -4,3 -4,4 -5,3 -1,3 4,3 2,4 -3,4 -5,.5 -6,1.5 -7,2.5 -4,0 -5-2 -5-2 -4,1 -6,3.5 -.5,7 4.5,6 4,7 3,6 0,8 -1,10 -4,7 -8,8 -5,7 3,8 5,10 5,10 2,7 3,10 5,11 -5,8 -6,4 -3,10 4,12 7,8 8,6 1,6 -5,8 -2,7 1,5 7,8 5,10 5,9 8-3 10,6 7,2 8-3 10,3 5,5 12,1 18,6 -4,9 -6,10 -8,7 -3,10 -3,13 -4,7 -5,10 -1,13 -1,12 -3,13 3,10 5,4 12-2 13-1 7-2 10,1 5,0 5,1 -2-4 -6-3 -2-7 5-3 8,1 5,5 10,5 10-3 12,5 16.2,7.4 11.4-3.4 6.8,5.7 9.2,4.3 6.8,7 2.3,7 4.5-2.4 5.8-6.8 1-11.4 6.9-2.4 6.8,1 11.3,1.4 4.7,6.6 4.3,4.8 10-3.8 10-5 10-6 12-2 13-4 7-5 3-5 10,5 10,1 5-2 5,2 2,6 8,7 6,0 4-7 -1-10 -7-2 -3-5 2-8 -4-7 -5-8 -2-6 5-6 10-5 10-4 7-6 3-10 0-4 2-4 6,0 7,4 2-2 3-6 0-8 -1-6 -4-7 -4-1 -3-4 -4-3 -8-1 -2-5 -5-4 -7-5 -7-8 -5-5 -5,1 -10-7 -5-10 -8-10 -1-8 4-10 -3.7-7.2 -2.9-2.8 -4.9-2.9 -3.6-2.8 -3.5-2.9 -1.1-4.3 .3-4.2 -1.4-4.3 -2.8-3.6 5,2.2 2.8,4.2 1.4,2.9 2.2-2.9 3.5-7.8 4.3-5 5-2.1 5.7-1.4 5.7-3.6 4.2,1.5 2.8,2.1 4.3-4.3 2.9-3.5 5.7-1.5 3.1-5.8 7-5 8-5 15-7 2-2 5-3 7-4 7-4 3-5 -3-4 3-3 8,0 6,6 2,4 2,5 6,1 3-4 3-7 3-12 2-7 0-7 -4-6 0-5 -3-6 -8-4 -4-2 2-4 -1-6 -6-7 -3-7 5-7 0-10 -1-10 -6-8 -4-10 3-10 -2-7 -10-10 -12-10 5-15 2-10 2-15 -2-10 -4-5 -2-8 -1-5 -5-3 -12-6 -6-3 2-3 8-1 9-1 -3-5 -7-8 -6,1 -5-1 -3-6 -2-3 -8,5 -4,1 -5-6 -4-3 -6-2 -5-7 0-6 -1-6 -2,3 -4,1 -10,0 -12-1 -3,7 -4,7 -5,6 -7,4 -11,2 -6,2 -6,3 -4,5 -4,7 -4,3 -5-2 -4-3 -7,0 -6,6 -1-4 -6-5 2-4 8-4 7-4 -1-7 0-8 -6-1 -7,3 -7,3 -10-7 -10-4 -9-2 -11,1 6-7 2-8 -4-9 -7-4 -14-1 -10-2 -15-4z" fill="none" stroke="#000" stroke-width="1.3" stroke-linejoin="round"/>
<path d="M774.0,49.0 781.0,48.0 786.0,53.0 788.0,57.0 781.0,58.0 774.0,55.0Z" fill="#0099ff" stroke="#000" stroke-width="0.9"/>
<path d="M875.0,37.0 879.0,33.0 885.0,30.0 889.0,32.0 888.0,37.0 894.0,39.0 901.0,38.0 901.0,43.0 898.0,49.0 904.0,54.0 906.0,60.0 902.0,61.0 896.0,58.0 891.0,64.0 886.0,66.0 882.0,60.0 883.0,53.0 881.0,47.0 877.0,44.0Z" fill="#00ccff" stroke="#000" stroke-width="0.9"/>
<path d="M647.2,33.0 650.0,30.4 655.0,30.6 656.6,33.0 655.0,36.0 650.0,36.3Z" fill="#00ccff" stroke="#000" stroke-width="0.9"/>
<path d="M642.5,36.0 644.5,33.8 646.4,36.0 646.0,41.0 643.5,42.3Z" fill="#00ccff" stroke="#000" stroke-width="0.9"/>
<path d="M656.6,49.0 659.0,46.6 662.6,48.0 662.0,51.5 658.5,52.6Z" fill="#00ccff" stroke="#000" stroke-width="0.9"/>
<path d="M667.0,51.0 670.0,49.0 673.7,50.5 673.0,54.0 669.0,55.0Z" fill="#00ccff" stroke="#000" stroke-width="0.9"/>
<path d="M643.0,15.0 645.5,13.5 648.0,17.0 648.0,21.0 644.0,21.5 642.5,19.0Z" fill="#00ccff" stroke="#000" stroke-width="0.9"/>
<path d="M561.0,122.0 565.0,121.5 567.0,124.0 564.0,127.0 561.0,126.0Z" fill="#0099ff" stroke="#000" stroke-width="0.8"/>
<path d="M571.0,116.0 579.0,115.0 581.0,117.0 573.0,118.0Z" fill="#0099ff" stroke="#000" stroke-width="0.8"/>
<path d="M586.0,114.0 595.0,113.5 595.0,115.5 586.0,116.0Z" fill="#0099ff" stroke="#000" stroke-width="0.8"/>
<path d="M601.0,112.0 609.0,111.5 609.0,113.5 601.0,114.0Z" fill="#0099ff" stroke="#000" stroke-width="0.8"/>
<path d="M610.0,110.7 618.0,110.0 618.0,112.0 610.0,112.5Z" fill="#0099ff" stroke="#000" stroke-width="0.8"/>
<path d="M620.0,109.0 625.0,108.5 625.0,110.5 620.0,111.0Z" fill="#0099ff" stroke="#000" stroke-width="0.8"/>
<path d="M200.0,3.6 207.0,7.2 212.0,10.8 219.6,14.4 226.8,19.8" fill="none" stroke="#000" stroke-width="0.9" stroke-dasharray="4 1.5 2 2"/>
<path d="M701.0,6.6 708.0,10.2 713.0,13.8 720.6,17.4 727.8,22.8" fill="none" stroke="#000" stroke-width="0.9" stroke-dasharray="4 1.5 2 2"/>
<path d="M201.6,14.4 198.0,18.0 203.4,19.8 208.8,18.0 205.0,14.0" fill="none" stroke="#000" stroke-width="0.9" stroke-dasharray="4 1.5 2 2"/>
<path d="M702.6,17.4 699.0,21.0 704.4,22.8 709.8,21.0 706.0,17.0" fill="none" stroke="#000" stroke-width="0.9" stroke-dasharray="4 1.5 2 2"/>
<path d="M230.4,7.2 234.0,12.6 241.0,18.0 243.0,15.0" fill="none" stroke="#000" stroke-width="0.9" stroke-dasharray="4 1.5 2 2"/>
<path d="M731.4,10.2 735.0,15.6 742.0,21.0 744.0,18.0" fill="none" stroke="#000" stroke-width="0.9" stroke-dasharray="4 1.5 2 2"/>
<path d="M246.5,3.6 252.0,7.2 255.5,10.8 253.7,18.0 257.3,27.0" fill="none" stroke="#000" stroke-width="0.9" stroke-dasharray="4 1.5 2 2"/>
<path d="M747.5,6.6 753.0,10.2 756.5,13.8 754.7,21.0 758.3,30.0" fill="none" stroke="#000" stroke-width="0.9" stroke-dasharray="4 1.5 2 2"/>
<path d="M259.0,7.0 258.0,16.0 257.0,28.8" fill="none" stroke="#000" stroke-width="0.9" stroke-dasharray="4 1.5 2 2"/>
<path d="M760.0,10.0 759.0,19.0 758.0,31.8" fill="none" stroke="#000" stroke-width="0.9" stroke-dasharray="4 1.5 2 2"/>
<path d="M271.7,10.8 271.7,25.2 277.0,27.0 288.0,32.4 295.0,34.2 306.0,32.4 313.0,30.6 316.7,36.0" fill="none" stroke="#000" stroke-width="0.9" stroke-dasharray="4 1.5 2 2"/>
<path d="M772.7,13.8 772.7,28.2 778.0,30.0 789.0,35.4 796.0,37.2 807.0,35.4 814.0,33.6 817.7,39.0" fill="none" stroke="#000" stroke-width="0.9" stroke-dasharray="4 1.5 2 2"/>
<path d="M279.0,9.0 291.5,14.4 302.3,10.8 309.5,7.2" fill="none" stroke="#000" stroke-width="0.9" stroke-dasharray="4 1.5 2 2"/>
<path d="M780.0,12.0 792.5,17.4 803.3,13.8 810.5,10.2" fill="none" stroke="#000" stroke-width="0.9" stroke-dasharray="4 1.5 2 2"/>
<path d="M306.0,16.2 313.0,21.6 322.0,21.6 325.7,16.2 320.0,10.8" fill="none" stroke="#000" stroke-width="0.9" stroke-dasharray="4 1.5 2 2"/>
<path d="M807.0,19.2 814.0,24.6 823.0,24.6 826.7,19.2 821.0,13.8" fill="none" stroke="#000" stroke-width="0.9" stroke-dasharray="4 1.5 2 2"/>
<path d="M309.5,1.8 324.0,7.2 333.0,1.8 342.0,5.4" fill="none" stroke="#000" stroke-width="0.9" stroke-dasharray="4 1.5 2 2"/>
<path d="M810.5,4.8 825.0,10.2 834.0,4.8 843.0,8.4" fill="none" stroke="#000" stroke-width="0.9" stroke-dasharray="4 1.5 2 2"/>
<path d="M215.0,2.0 222.0,6.0 228.0,4.0" fill="none" stroke="#000" stroke-width="0.9" stroke-dasharray="4 1.5 2 2"/>
<path d="M716.0,5.0 723.0,9.0 729.0,7.0" fill="none" stroke="#000" stroke-width="0.9" stroke-dasharray="4 1.5 2 2"/>
<path d="M141.0,29.0 140.3,22.0 141.0,15.4 142.8,8.5 145.4,3.4 152.0,0.0" fill="none" stroke="#000" stroke-width="0.9" stroke-dasharray="4 1.5 2 2"/>
<path d="M642.0,32.0 641.3,25.0 642.0,18.4 643.8,11.5 646.4,6.4 653.0,3.0" fill="none" stroke="#000" stroke-width="0.9" stroke-dasharray="4 1.5 2 2"/>
<path d="M158.5,15.0 158.6,9.0 158.3,4.0" fill="none" stroke="#000" stroke-width="0.9" stroke-dasharray="4 1.5 2 2"/>
<path d="M659.5,18.0 659.6,12.0 659.3,7.0" fill="none" stroke="#000" stroke-width="0.9" stroke-dasharray="4 1.5 2 2"/>
<path d="M143.7,6.5 145.5,3.8 147.5,4.5 146.0,7.0" fill="none" stroke="#000" stroke-width="0.9" stroke-dasharray="4 1.5 2 2"/>
<path d="M644.7,9.5 646.5,6.8 648.5,7.5 647.0,10.0" fill="none" stroke="#000" stroke-width="0.9" stroke-dasharray="4 1.5 2 2"/>
<path d="M433.8,86.9 443.8,82.6 452.3,78.3 462.3,72.6 470.0,69.8 480.0,66.0 490.0,62.0 500.0,58.0" fill="none" stroke="#000" stroke-width="0.9" stroke-dasharray="4 1.5 2 2"/>
<path d="M934.8,89.9 944.8,85.6 953.3,81.3 963.3,75.6 971.0,72.8 981.0,69.0 991.0,65.0 1001.0,61.0" fill="none" stroke="#000" stroke-width="0.9" stroke-dasharray="4 1.5 2 2"/>
<path d="M432.0,87.0 441.0,89.7 449.5,94.0 451.0,99.7 448.0,105.0 442.4,106.8 438.0,104.0" fill="none" stroke="#000" stroke-width="0.9" stroke-dasharray="4 1.5 2 2"/>
<path d="M933.0,90.0 942.0,92.7 950.5,97.0 952.0,102.7 949.0,108.0 943.4,109.8 939.0,107.0" fill="none" stroke="#000" stroke-width="0.9" stroke-dasharray="4 1.5 2 2"/>
<path d="M0.0,147.8 8.0,143.8 20.0,137.8 31.9,136.9 43.8,136.9 57.8,132.9 65.7,133.9 71.7,141.8 77.7,147.8" fill="none" stroke="#000" stroke-width="0.9" stroke-dasharray="4 1.5 2 2"/>
<path d="M501.0,150.8 509.0,146.8 521.0,140.8 532.9,139.9 544.8,139.9 558.8,135.9 566.7,136.9 572.7,144.8 578.7,150.8" fill="none" stroke="#000" stroke-width="0.9" stroke-dasharray="4 1.5 2 2"/>
<path d="M0.0,131.9 6.0,130.9" fill="none" stroke="#000" stroke-width="0.9" stroke-dasharray="4 1.5 2 2"/>
<path d="M501.0,134.9 507.0,133.9" fill="none" stroke="#000" stroke-width="0.9" stroke-dasharray="4 1.5 2 2"/>
<path d="M8.0,181.7 4.0,191.6 4.0,199.6 10.0,203.6 16.0,207.6 12.0,215.5 4.0,219.5 0.0,223.5" fill="none" stroke="#000" stroke-width="0.9" stroke-dasharray="4 1.5 2 2"/>
<path d="M509.0,184.7 505.0,194.6 505.0,202.6 511.0,206.6 517.0,210.6 513.0,218.5 505.0,222.5 501.0,226.5" fill="none" stroke="#000" stroke-width="0.9" stroke-dasharray="4 1.5 2 2"/>
<path d="M20.9,405.8 15.9,402.8 10.0,407.8 6.0,417.8 2.0,423.7 4.0,431.7 8.0,439.7 8.0,447.6 2.0,455.6 0.0,456.6" fill="none" stroke="#000" stroke-width="0.9" stroke-dasharray="4 1.5 2 2"/>
<path d="M521.9,408.8 516.9,405.8 511.0,410.8 507.0,420.8 503.0,426.7 505.0,434.7 509.0,442.7 509.0,450.6 503.0,458.6 501.0,459.6" fill="none" stroke="#000" stroke-width="0.9" stroke-dasharray="4 1.5 2 2"/>
<path d="M6.0,457.6 10.0,462.6 18.0,462.6 25.9,459.6 32.9,461.6" fill="none" stroke="#000" stroke-width="0.9" stroke-dasharray="4 1.5 2 2"/>
<path d="M507.0,460.6 511.0,465.6 519.0,465.6 526.9,462.6 533.9,464.6" fill="none" stroke="#000" stroke-width="0.9" stroke-dasharray="4 1.5 2 2"/>
<path d="M0.0,372.0 3.0,378.0 0.0,384.0" fill="none" stroke="#000" stroke-width="0.9" stroke-dasharray="4 1.5 2 2"/>
<path d="M501.0,375.0 504.0,381.0 501.0,387.0" fill="none" stroke="#000" stroke-width="0.9" stroke-dasharray="4 1.5 2 2"/>
<path d="M52.0,651.0 60.0,637.0 57.0,630.0 65.0,626.0 72.0,630.0 80.0,632.0 87.0,630.0 92.0,624.0" fill="none" stroke="#000" stroke-width="0.9" stroke-dasharray="4 1.5 2 2"/>
<path d="M553.0,654.0 561.0,640.0 558.0,633.0 566.0,629.0 573.0,633.0 581.0,635.0 588.0,633.0 593.0,627.0" fill="none" stroke="#000" stroke-width="0.9" stroke-dasharray="4 1.5 2 2"/>
<path d="M200.0,651.0 207.0,640.0 212.0,632.0 207.0,625.0" fill="none" stroke="#000" stroke-width="0.9" stroke-dasharray="4 1.5 2 2"/>
<path d="M701.0,654.0 708.0,643.0 713.0,635.0 708.0,628.0" fill="none" stroke="#000" stroke-width="0.9" stroke-dasharray="4 1.5 2 2"/>
<path d="M440.0,514.0 450.0,520.0 453.0,524.0 459.0,528.0 467.0,528.5 472.0,526.0 476.0,524.0 480.0,524.0 486.0,518.0 490.0,510.0 500.0,505.0" fill="none" stroke="#000" stroke-width="0.9" stroke-dasharray="4 1.5 2 2"/>
<path d="M941.0,517.0 951.0,523.0 954.0,527.0 960.0,531.0 968.0,531.5 973.0,529.0 977.0,527.0 981.0,527.0 987.0,521.0 991.0,513.0 1001.0,508.0" fill="none" stroke="#000" stroke-width="0.9" stroke-dasharray="4 1.5 2 2"/>
<path d="M146.5,16.2 158.0,16.0" stroke="#000" stroke-width="1.8"/>
<path d="M647.5,19.2 659.0,19.0" stroke="#000" stroke-width="1.8"/>
<path d="M177.0,101.5 186.0,101.0 190.0,101.4 194.0,107.0 198.5,114.0 203.0,121.0 207.0,124.0 211.3,124.0" fill="none" stroke="#000" stroke-width="2.6"/>
<path d="M177.0,101.5 186.0,101.0 190.0,101.4 194.0,107.0 198.5,114.0 203.0,121.0 207.0,124.0 211.3,124.0" fill="none" stroke="#fff" stroke-width="1.2"/>
<path d="M151.3,130.3 150.5,136.0 149.9,142.3" fill="none" stroke="#000" stroke-width="1.6"/>
<path d="M678.0,104.5 687.0,104.0 691.0,104.4 695.0,110.0 699.5,117.0 704.0,124.0 708.0,127.0 712.3,127.0" fill="none" stroke="#000" stroke-width="2.6"/>
<path d="M678.0,104.5 687.0,104.0 691.0,104.4 695.0,110.0 699.5,117.0 704.0,124.0 708.0,127.0 712.3,127.0" fill="none" stroke="#fff" stroke-width="1.2"/>
<path d="M652.3,133.3 651.5,139.0 650.9,145.3" fill="none" stroke="#000" stroke-width="1.6"/>
<path d="M338.5,56.0 342.0,54.0 345.5,57.0 345.0,63.0 341.5,65.5 339.0,62.0Z" fill="#fff" stroke="#000" stroke-width="0.8"/>
<path d="M839.5,59.0 843.0,57.0 846.5,60.0 846.0,66.0 842.5,68.5 840.0,65.0Z" fill="#fff" stroke="#000" stroke-width="0.8"/>
<path d="M346.0,51.6 356.0,51.2 366.0,51.4 371.0,52.0 371.0,54.2 362.0,54.4 352.0,54.6 346.0,54.4Z" fill="#fff" stroke="#000" stroke-width="0.8"/>
<path d="M847.0,54.6 857.0,54.2 867.0,54.4 872.0,55.0 872.0,57.2 863.0,57.4 853.0,57.6 847.0,57.4Z" fill="#fff" stroke="#000" stroke-width="0.8"/>
<g font-family="Liberation Sans, Arial, sans-serif" font-size="10" fill="#111">
<rect x="262.5" y="654.5" width="22.30000000000001" height="13" fill="#00ffff"/><text x="335.2" y="663.9" text-anchor="middle">unter 30 Einw./km²</text><rect x="262.5" y="667.5" width="22.30000000000001" height="13" fill="#00ccff"/><text x="335.2" y="676.9" text-anchor="middle">30-100 Einw./km²</text><rect x="262.5" y="680.5" width="22.30000000000001" height="13.5" fill="#0099ff"/><text x="335.2" y="690.1" text-anchor="middle">100-200 Einw./km²</text><path d="M262.5,654.5H389.5V694.0H262.5Z" fill="none" stroke="#222" stroke-width="1"/><path d="M262.5,667.5H389.5" stroke="#222" stroke-width="1"/><path d="M262.5,680.5H389.5" stroke="#222" stroke-width="1"/><path d="M285.40000000000003,654.5V694.0" stroke="#000" stroke-width="1.8"/>
<rect x="422.5" y="659" width="22.69999999999999" height="13.8" fill="#0066ff"/><text x="496.8" y="668.8" text-anchor="middle">200-500 Einw./km²</text><rect x="422.5" y="672.8" width="22.69999999999999" height="13.8" fill="#0033ff"/><text x="496.8" y="682.6" text-anchor="middle">über 500 Einw./km²</text><path d="M422.5,659H549.8V686.5999999999999H422.5Z" fill="none" stroke="#222" stroke-width="1"/><path d="M422.5,672.8H549.8" stroke="#222" stroke-width="1"/><path d="M445.8,659V686.5999999999999" stroke="#000" stroke-width="1.8"/>
</g>
<rect x="395.1" y="638.2" width="26.2" height="2.6" fill="#000"/><rect x="421.3" y="638.2" width="26.2" height="2.6" fill="#e4ecf6"/><rect x="447.5" y="638.2" width="26.5" height="2.6" fill="#000"/><g font-family="Liberation Sans, Arial, sans-serif" font-size="7.4" font-weight="bold" fill="#333"><text x="394.3" y="648.6">0</text><text x="416.70000000000005" y="648.6" letter-spacing="0.3">35</text><text x="442.3" y="648.6" letter-spacing="1">70</text><text x="468.0" y="648.6" letter-spacing="0.5">105</text><text x="485.70000000000005" y="648.6" letter-spacing="0.8">km</text></g>
<rect x="896.1" y="641.0" width="26.2" height="2.6" fill="#000"/><rect x="922.3000000000001" y="641.0" width="26.2" height="2.6" fill="#e4ecf6"/><rect x="948.5" y="641.0" width="26.5" height="2.6" fill="#000"/><g font-family="Liberation Sans, Arial, sans-serif" font-size="7.4" font-weight="bold" fill="#333"><text x="895.3000000000001" y="651.4">0</text><text x="917.7" y="651.4" letter-spacing="0.3">35</text><text x="943.3000000000001" y="651.4" letter-spacing="1">70</text><text x="969.0" y="651.4" letter-spacing="0.5">105</text><text x="986.7" y="651.4" letter-spacing="0.8">km</text></g>
</svg>
</body></html>
